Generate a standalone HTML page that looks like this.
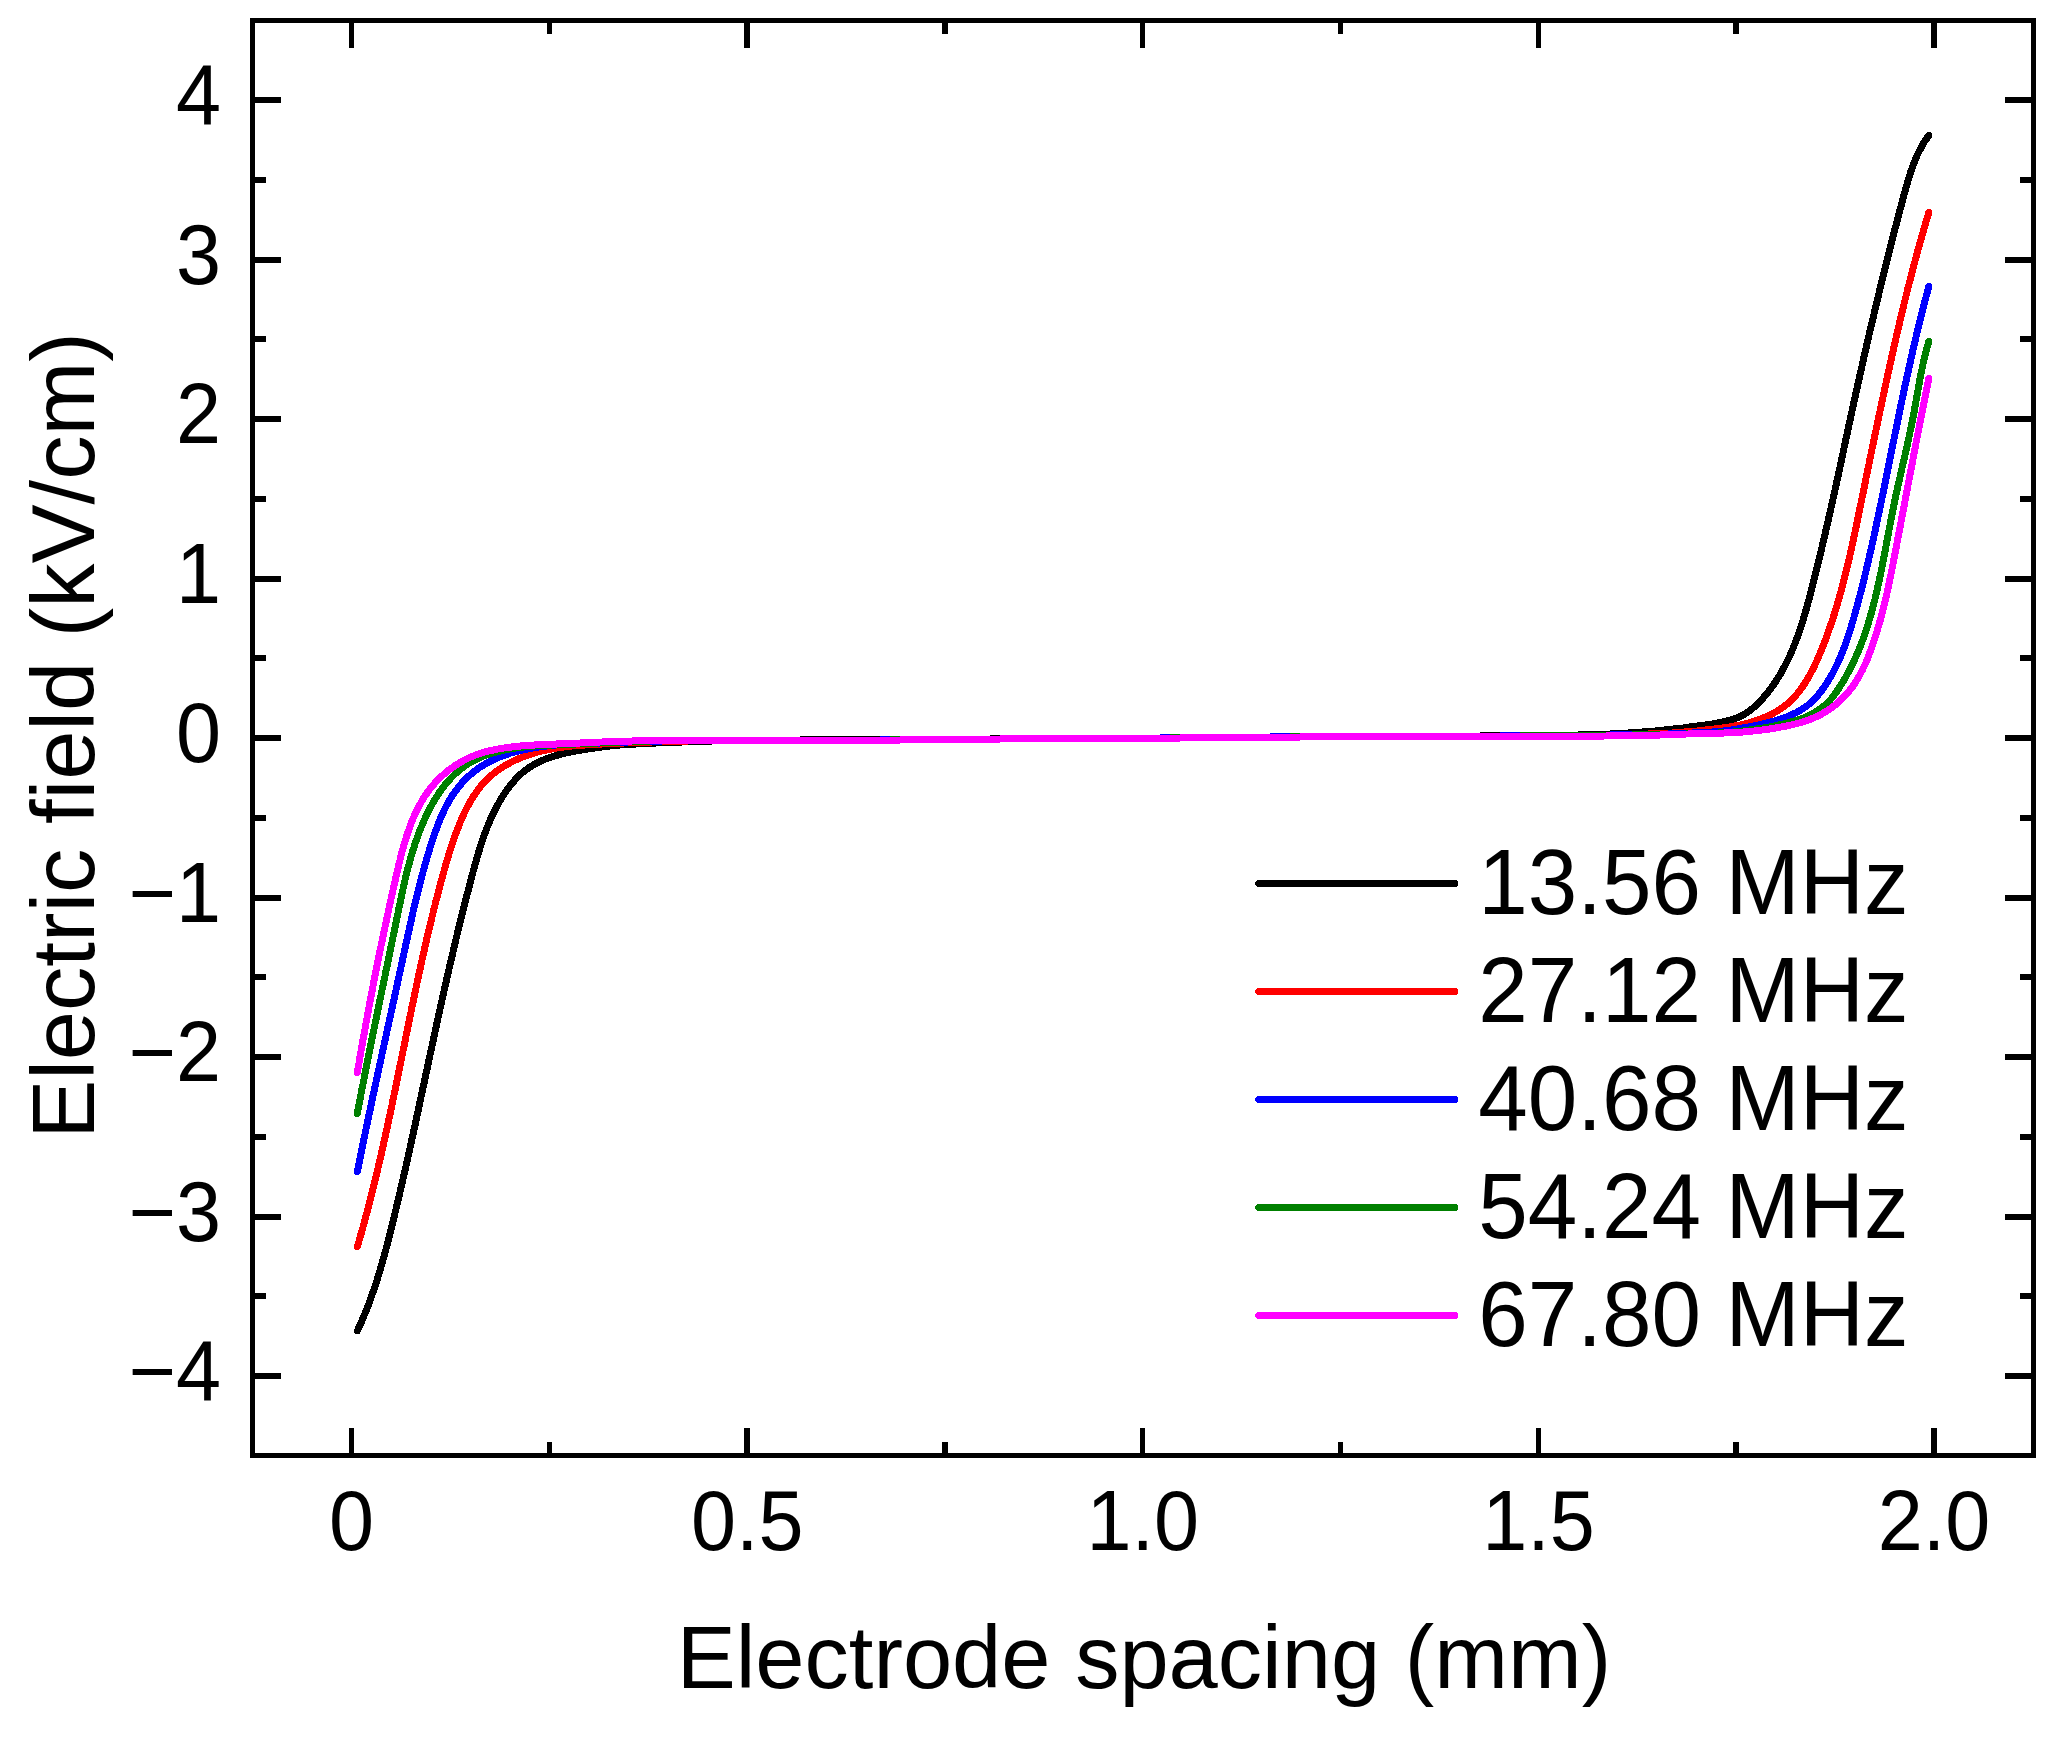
<!DOCTYPE html>
<html lang="en"><head><meta charset="utf-8"><title>Electric field vs electrode spacing</title>
<style>
html,body{margin:0;padding:0;background:#fff;}
body{width:2066px;height:1743px;overflow:hidden;}
svg{display:block;}
text{font-family:"Liberation Sans",sans-serif;fill:#000;}
.tk{font-size:81px;}
.tt{font-size:88.5px;}
.lg{font-size:89px;}
</style></head><body>
<svg width="2066" height="1743" viewBox="0 0 2066 1743">
<rect x="0" y="0" width="2066" height="1743" fill="#ffffff"/>

<g stroke="none" shape-rendering="crispEdges">
<path fill="#000000" d="M360.5,1332.4 L361.1,1331.0 L361.8,1329.6 L362.4,1328.2 L363.1,1326.8 L363.7,1325.4 L364.3,1324.0 L364.9,1322.6 L365.5,1321.2 L366.2,1319.8 L366.8,1318.4 L367.3,1317.0 L367.9,1315.5 L368.5,1314.1 L369.1,1312.7 L369.7,1311.3 L370.2,1309.9 L370.8,1308.4 L371.3,1307.0 L371.9,1305.6 L372.4,1304.2 L372.9,1302.7 L373.5,1301.3 L374.0,1299.9 L374.5,1298.4 L375.0,1297.0 L375.5,1295.5 L376.0,1294.1 L376.5,1292.7 L377.0,1291.2 L377.5,1289.8 L378.0,1288.3 L378.5,1286.9 L379.0,1285.4 L379.4,1284.0 L379.9,1282.5 L380.4,1281.1 L380.8,1279.6 L381.3,1278.2 L381.7,1276.7 L382.2,1275.3 L382.6,1273.8 L383.0,1272.4 L383.5,1270.9 L383.9,1269.4 L384.3,1268.0 L384.8,1266.5 L385.2,1265.1 L385.6,1263.6 L386.0,1262.1 L386.4,1260.7 L386.8,1259.2 L387.2,1257.7 L387.6,1256.3 L388.0,1254.8 L388.4,1253.3 L388.8,1251.9 L389.2,1250.4 L389.6,1248.9 L390.0,1247.4 L390.4,1246.0 L390.8,1244.5 L391.2,1243.0 L391.5,1241.6 L391.9,1240.1 L392.3,1238.6 L392.7,1237.1 L393.0,1235.7 L393.4,1234.2 L393.8,1232.7 L394.1,1231.2 L394.5,1229.8 L394.9,1228.3 L395.2,1226.8 L395.6,1225.3 L396.0,1223.9 L396.3,1222.4 L396.7,1220.9 L397.1,1219.4 L397.4,1218.0 L397.8,1216.5 L398.1,1215.0 L398.5,1213.5 L398.9,1212.1 L399.2,1210.6 L399.6,1209.1 L399.9,1207.6 L400.3,1206.1 L400.6,1204.7 L401.0,1203.2 L401.3,1201.7 L401.7,1200.2 L402.0,1198.8 L402.4,1197.3 L402.7,1195.8 L403.1,1194.3 L403.4,1192.8 L403.8,1191.4 L404.1,1189.9 L404.4,1188.4 L404.8,1186.9 L405.1,1185.4 L405.5,1183.9 L405.8,1182.5 L406.2,1181.0 L406.5,1179.5 L406.8,1178.0 L407.2,1176.5 L407.5,1175.1 L407.8,1173.6 L408.2,1172.1 L408.5,1170.6 L408.9,1169.1 L409.2,1167.6 L409.5,1166.2 L409.9,1164.7 L410.2,1163.2 L410.5,1161.7 L410.9,1160.2 L411.2,1158.7 L411.5,1157.3 L411.8,1155.8 L412.2,1154.3 L412.5,1152.8 L412.8,1151.3 L413.2,1149.8 L413.5,1148.4 L413.8,1146.9 L414.1,1145.4 L414.5,1143.9 L414.8,1142.4 L415.1,1140.9 L415.5,1139.5 L415.8,1138.0 L416.1,1136.5 L416.4,1135.0 L416.8,1133.5 L417.1,1132.0 L417.4,1130.5 L417.7,1129.1 L418.0,1127.6 L418.4,1126.1 L418.7,1124.6 L419.0,1123.1 L419.3,1121.6 L419.7,1120.2 L420.0,1118.7 L420.3,1117.2 L420.6,1115.7 L420.9,1114.2 L421.3,1112.7 L421.6,1111.3 L421.9,1109.8 L422.2,1108.3 L422.5,1106.8 L422.8,1105.3 L423.2,1103.8 L423.5,1102.3 L423.8,1100.9 L424.1,1099.4 L424.4,1097.9 L424.8,1096.4 L425.1,1094.9 L425.4,1093.4 L425.7,1092.0 L426.0,1090.5 L426.3,1089.0 L426.7,1087.5 L427.0,1086.0 L427.3,1084.5 L427.6,1083.1 L427.9,1081.6 L428.2,1080.1 L428.6,1078.6 L428.9,1077.1 L429.2,1075.7 L429.5,1074.2 L429.8,1072.7 L430.1,1071.2 L430.5,1069.7 L430.8,1068.2 L431.1,1066.8 L431.4,1065.3 L431.7,1063.8 L432.0,1062.3 L432.4,1060.8 L432.7,1059.4 L433.0,1057.9 L433.3,1056.4 L433.6,1054.9 L433.9,1053.4 L434.3,1052.0 L434.6,1050.5 L434.9,1049.0 L435.2,1047.5 L435.5,1046.1 L435.9,1044.6 L436.2,1043.1 L436.5,1041.6 L436.8,1040.1 L437.1,1038.7 L437.4,1037.2 L437.8,1035.7 L438.1,1034.2 L438.4,1032.8 L438.7,1031.3 L439.1,1029.8 L439.4,1028.3 L439.7,1026.8 L440.0,1025.4 L440.3,1023.9 L440.7,1022.4 L441.0,1020.9 L441.3,1019.5 L441.6,1018.0 L441.9,1016.5 L442.3,1015.0 L442.6,1013.6 L442.9,1012.1 L443.2,1010.6 L443.6,1009.1 L443.9,1007.7 L444.2,1006.2 L444.5,1004.7 L444.9,1003.2 L445.2,1001.8 L445.5,1000.3 L445.9,998.8 L446.2,997.3 L446.5,995.9 L446.8,994.4 L447.2,992.9 L447.5,991.5 L447.8,990.0 L448.2,988.5 L448.5,987.0 L448.8,985.6 L449.2,984.1 L449.5,982.6 L449.8,981.1 L450.2,979.7 L450.5,978.2 L450.8,976.7 L451.2,975.2 L451.5,973.8 L451.8,972.3 L452.2,970.8 L452.5,969.4 L452.9,967.9 L453.2,966.4 L453.5,964.9 L453.9,963.5 L454.2,962.0 L454.6,960.5 L454.9,959.0 L455.3,957.6 L455.6,956.1 L455.9,954.6 L456.3,953.2 L456.6,951.7 L457.0,950.2 L457.3,948.7 L457.7,947.3 L458.0,945.8 L458.4,944.3 L458.7,942.8 L459.1,941.4 L459.4,939.9 L459.8,938.4 L460.1,937.0 L460.5,935.5 L460.9,934.0 L461.2,932.5 L461.6,931.1 L461.9,929.6 L462.3,928.1 L462.6,926.6 L463.0,925.2 L463.4,923.7 L463.7,922.2 L464.1,920.7 L464.5,919.3 L464.8,917.8 L465.2,916.3 L465.6,914.9 L465.9,913.4 L466.3,911.9 L466.7,910.4 L467.0,909.0 L467.4,907.5 L467.8,906.0 L468.2,904.5 L468.5,903.1 L468.9,901.6 L469.3,900.1 L469.7,898.6 L470.0,897.2 L470.4,895.7 L470.8,894.2 L471.2,892.7 L471.6,891.3 L471.9,889.8 L472.3,888.3 L472.7,886.8 L473.1,885.4 L473.5,883.9 L473.9,882.4 L474.3,880.9 L474.7,879.5 L475.1,878.0 L475.5,876.5 L475.8,875.0 L476.2,873.6 L476.6,872.1 L477.0,870.6 L477.4,869.1 L477.8,867.7 L478.3,866.2 L478.7,864.7 L479.1,863.3 L479.5,861.8 L479.9,860.3 L480.3,858.9 L480.7,857.4 L481.2,856.0 L481.6,854.5 L482.0,853.0 L482.5,851.6 L482.9,850.1 L483.4,848.7 L483.8,847.3 L484.3,845.8 L484.8,844.4 L485.2,843.0 L485.7,841.5 L486.2,840.1 L486.7,838.7 L487.2,837.3 L487.7,835.8 L488.2,834.4 L488.7,833.0 L489.3,831.6 L489.8,830.2 L490.3,828.9 L490.9,827.5 L491.4,826.1 L492.0,824.7 L492.6,823.3 L493.2,822.0 L493.8,820.6 L494.4,819.3 L495.0,817.9 L495.6,816.6 L496.2,815.3 L496.9,813.9 L497.5,812.6 L498.2,811.3 L498.8,810.0 L499.5,808.7 L500.2,807.4 L500.9,806.1 L501.6,804.8 L502.4,803.5 L503.1,802.3 L503.9,801.0 L504.6,799.8 L505.4,798.5 L506.2,797.3 L507.0,796.1 L507.8,794.8 L508.7,793.6 L509.5,792.4 L510.4,791.2 L511.2,790.1 L512.1,788.9 L513.0,787.7 L513.9,786.6 L514.9,785.5 L515.8,784.3 L516.8,783.2 L517.7,782.2 L518.7,781.1 L519.7,780.0 L520.7,779.0 L521.8,778.0 L522.9,777.0 L524.0,775.9 L525.2,774.9 L526.3,774.0 L527.5,773.0 L528.7,772.1 L530.0,771.2 L531.2,770.4 L532.5,769.5 L533.8,768.7 L535.1,768.0 L536.4,767.2 L537.8,766.5 L539.1,765.8 L540.5,765.1 L541.8,764.5 L543.1,763.9 L544.5,763.3 L545.8,762.8 L547.2,762.2 L548.6,761.7 L549.9,761.2 L551.3,760.7 L552.7,760.2 L554.2,759.8 L555.6,759.3 L557.0,758.9 L558.5,758.5 L559.9,758.1 L561.4,757.7 L562.8,757.3 L564.3,757.0 L565.8,756.6 L567.3,756.3 L568.8,756.0 L570.3,755.6 L571.8,755.3 L573.3,755.0 L574.8,754.7 L576.3,754.5 L577.8,754.2 L579.3,753.9 L580.8,753.7 L582.3,753.4 L583.8,753.2 L585.3,753.0 L586.8,752.7 L588.3,752.5 L589.8,752.3 L592.5,751.9 L594.5,751.6 L596.5,751.3 L598.5,751.1 L600.4,750.8 L602.4,750.5 L604.4,750.3 L606.4,750.0 L608.4,749.8 L610.4,749.5 L612.4,749.3 L614.4,749.1 L616.3,748.9 L618.3,748.7 L620.3,748.5 L622.3,748.4 L624.3,748.2 L626.2,748.1 L628.2,747.9 L630.2,747.8 L632.2,747.7 L634.2,747.6 L636.2,747.5 L638.2,747.3 L640.2,747.2 L642.2,747.1 L644.2,747.0 L646.2,746.9 L648.2,746.8 L650.2,746.7 L652.2,746.7 L654.2,746.6 L656.2,746.5 L658.1,746.4 L660.1,746.3 L662.1,746.2 L664.1,746.1 L666.1,746.1 L668.1,746.0 L670.1,745.9 L672.1,745.8 L674.1,745.7 L676.1,745.7 L678.1,745.6 L680.1,745.5 L682.1,745.5 L684.1,745.4 L686.1,745.4 L688.1,745.3 L690.1,745.2 L692.1,745.2 L694.1,745.1 L696.1,745.0 L698.1,745.0 L700.1,744.9 L702.2,744.8 L704.2,744.7 L706.1,744.6 L708.1,744.6 L710.1,744.5 L712.1,744.5 L714.1,744.4 L716.1,744.4 L718.1,744.3 L720.1,744.3 L722.1,744.3 L724.1,744.2 L726.1,744.2 L728.1,744.2 L730.1,744.1 L732.1,744.1 L734.0,744.1 L736.0,744.1 L738.0,744.0 L740.0,744.0 L742.0,744.0 L744.0,744.0 L746.0,743.9 L748.0,743.9 L750.0,743.9 L752.0,743.9 L754.0,743.8 L756.0,743.8 L758.0,743.8 L760.0,743.8 L770.0,743.7 L780.0,743.6 L790.0,743.6 L800.0,743.5 L810.0,743.4 L820.0,743.3 L830.0,743.3 L840.0,743.2 L850.0,743.2 L860.0,743.1 L870.0,743.1 L880.0,743.0 L890.0,743.0 L900.0,742.9 L910.0,742.9 L920.0,742.8 L930.0,742.8 L940.0,742.7 L950.0,742.7 L960.0,742.7 L970.0,742.6 L980.0,742.6 L990.0,742.5 L1000.0,742.4 L1010.0,742.4 L1020.0,742.3 L1030.0,742.3 L1040.0,742.2 L1050.0,742.2 L1060.0,742.1 L1070.0,742.1 L1080.0,742.0 L1090.0,741.9 L1100.0,741.9 L1110.0,741.8 L1120.0,741.8 L1130.0,741.7 L1140.0,741.6 L1150.0,741.6 L1160.0,741.5 L1170.0,741.4 L1180.0,741.3 L1190.0,741.2 L1200.0,741.1 L1210.0,741.0 L1220.0,740.9 L1230.0,740.8 L1240.0,740.8 L1250.0,740.7 L1260.0,740.6 L1270.0,740.5 L1280.0,740.4 L1290.0,740.4 L1300.0,740.3 L1310.0,740.3 L1320.0,740.2 L1330.0,740.2 L1340.0,740.2 L1350.0,740.1 L1360.0,740.1 L1370.0,740.0 L1380.0,740.0 L1390.0,739.9 L1400.0,739.9 L1410.0,739.9 L1420.0,739.8 L1430.0,739.8 L1440.0,739.7 L1450.0,739.7 L1460.0,739.6 L1470.0,739.5 L1480.0,739.5 L1490.0,739.4 L1500.0,739.3 L1510.0,739.3 L1520.0,739.2 L1530.0,739.1 L1540.0,739.0 L1550.0,738.9 L1560.0,738.7 L1562.0,738.7 L1564.1,738.7 L1566.1,738.7 L1568.1,738.6 L1570.1,738.6 L1572.1,738.6 L1574.1,738.5 L1576.1,738.5 L1578.1,738.5 L1580.1,738.4 L1582.1,738.4 L1584.1,738.3 L1586.1,738.3 L1588.1,738.2 L1590.1,738.2 L1592.1,738.1 L1594.1,738.1 L1596.1,738.0 L1598.1,737.9 L1600.1,737.9 L1602.1,737.8 L1604.1,737.7 L1606.1,737.7 L1608.1,737.6 L1610.1,737.5 L1612.2,737.4 L1614.2,737.3 L1616.2,737.2 L1618.2,737.1 L1620.2,737.0 L1622.2,736.9 L1624.2,736.8 L1626.2,736.6 L1628.2,736.5 L1630.2,736.4 L1632.2,736.2 L1634.3,736.1 L1636.3,735.9 L1638.3,735.8 L1640.3,735.6 L1642.3,735.5 L1644.3,735.4 L1646.3,735.2 L1648.3,735.1 L1650.3,734.9 L1652.3,734.7 L1654.3,734.6 L1656.4,734.4 L1658.4,734.2 L1660.4,733.9 L1662.4,733.7 L1664.4,733.5 L1666.4,733.2 L1668.4,733.0 L1670.4,732.8 L1672.4,732.6 L1674.3,732.4 L1676.3,732.2 L1678.3,732.0 L1680.3,731.8 L1682.4,731.6 L1684.5,731.3 L1686.6,731.0 L1688.6,730.6 L1690.5,730.3 L1692.4,730.1 L1694.4,729.8 L1696.4,729.6 L1698.4,729.4 L1700.4,729.1 L1702.4,728.9 L1704.4,728.6 L1706.4,728.4 L1708.4,728.1 L1710.5,727.9 L1712.6,727.6 L1714.7,727.2 L1716.7,726.7 L1718.7,726.3 L1720.7,725.9 L1722.7,725.5 L1724.8,725.0 L1726.8,724.6 L1728.9,724.0 L1730.9,723.5 L1733.0,722.9 L1735.1,722.2 L1737.2,721.5 L1739.4,720.6 L1741.5,719.7 L1743.0,719.0 L1744.4,718.2 L1745.8,717.4 L1747.2,716.6 L1748.5,715.7 L1749.9,714.8 L1751.2,713.8 L1752.5,712.9 L1753.7,711.9 L1755.0,710.9 L1756.2,709.8 L1757.4,708.8 L1758.6,707.7 L1759.7,706.6 L1760.9,705.5 L1762.0,704.3 L1763.1,703.2 L1764.2,702.0 L1765.3,700.8 L1766.3,699.6 L1767.3,698.4 L1768.4,697.2 L1769.4,696.0 L1770.4,694.8 L1771.3,693.6 L1772.3,692.3 L1773.2,691.1 L1774.2,689.8 L1775.1,688.5 L1776.0,687.3 L1776.9,686.0 L1777.8,684.7 L1778.6,683.4 L1779.5,682.1 L1780.3,680.8 L1781.1,679.5 L1782.0,678.1 L1782.8,676.8 L1783.6,675.5 L1784.3,674.1 L1785.1,672.8 L1785.9,671.4 L1786.6,670.1 L1787.3,668.7 L1788.1,667.3 L1788.8,665.9 L1789.5,664.5 L1790.2,663.1 L1790.8,661.7 L1791.5,660.3 L1792.2,658.9 L1792.8,657.5 L1793.5,656.1 L1794.1,654.7 L1794.7,653.2 L1795.3,651.8 L1795.9,650.4 L1796.5,648.9 L1797.1,647.5 L1797.7,646.0 L1798.3,644.6 L1798.8,643.1 L1799.4,641.6 L1800.0,640.2 L1800.5,638.7 L1801.0,637.2 L1801.6,635.7 L1802.1,634.3 L1802.6,632.8 L1803.1,631.3 L1803.6,629.8 L1804.1,628.3 L1804.6,626.8 L1805.1,625.3 L1805.5,623.8 L1806.0,622.3 L1806.5,620.8 L1806.9,619.3 L1807.4,617.8 L1807.8,616.3 L1808.3,614.8 L1808.7,613.3 L1809.2,611.7 L1809.6,610.2 L1810.0,608.7 L1810.4,607.2 L1810.9,605.7 L1811.3,604.2 L1811.7,602.6 L1812.1,601.1 L1812.5,599.6 L1812.9,598.1 L1813.3,596.5 L1813.7,595.0 L1814.1,593.5 L1814.5,592.0 L1814.9,590.5 L1815.3,588.9 L1815.7,587.4 L1816.1,585.9 L1816.5,584.4 L1816.9,582.9 L1817.2,581.3 L1817.6,579.8 L1818.0,578.3 L1818.4,576.8 L1818.8,575.3 L1819.1,573.8 L1819.5,572.2 L1819.9,570.7 L1820.3,569.2 L1820.6,567.7 L1821.0,566.2 L1821.4,564.7 L1821.7,563.1 L1822.1,561.6 L1822.5,560.1 L1822.8,558.6 L1823.2,557.1 L1823.6,555.6 L1823.9,554.1 L1824.3,552.5 L1824.7,551.0 L1825.0,549.5 L1825.4,548.0 L1825.7,546.5 L1826.1,545.0 L1826.4,543.5 L1826.8,542.0 L1827.2,540.4 L1827.5,538.9 L1827.9,537.4 L1828.2,535.9 L1828.6,534.4 L1828.9,532.9 L1829.3,531.4 L1829.6,529.9 L1830.0,528.4 L1830.3,526.8 L1830.6,525.3 L1831.0,523.8 L1831.3,522.3 L1831.7,520.8 L1832.0,519.3 L1832.4,517.8 L1832.7,516.3 L1833.0,514.8 L1833.4,513.3 L1833.7,511.8 L1834.1,510.3 L1834.4,508.7 L1834.7,507.2 L1835.1,505.7 L1835.4,504.2 L1835.7,502.7 L1836.1,501.2 L1836.4,499.7 L1836.7,498.2 L1837.1,496.7 L1837.4,495.2 L1837.7,493.7 L1838.1,492.2 L1838.4,490.7 L1838.7,489.2 L1839.1,487.6 L1839.4,486.1 L1839.7,484.6 L1840.1,483.1 L1840.4,481.6 L1840.7,480.1 L1841.0,478.6 L1841.4,477.1 L1841.7,475.6 L1842.0,474.1 L1842.3,472.6 L1842.7,471.1 L1843.0,469.6 L1843.3,468.1 L1843.6,466.6 L1844.0,465.1 L1844.3,463.6 L1844.6,462.1 L1844.9,460.5 L1845.3,459.0 L1845.6,457.5 L1845.9,456.0 L1846.2,454.5 L1846.6,453.0 L1846.9,451.5 L1847.2,450.0 L1847.5,448.5 L1847.9,447.0 L1848.2,445.5 L1848.5,444.0 L1848.8,442.5 L1849.2,441.0 L1849.5,439.5 L1849.8,438.0 L1850.1,436.5 L1850.4,435.0 L1850.8,433.5 L1851.1,432.0 L1851.4,430.4 L1851.7,428.9 L1852.1,427.4 L1852.4,425.9 L1852.7,424.4 L1853.0,422.9 L1853.4,421.4 L1853.7,419.9 L1854.0,418.4 L1854.3,416.9 L1854.7,415.4 L1855.0,413.9 L1855.3,412.4 L1855.6,410.9 L1856.0,409.4 L1856.3,407.9 L1856.6,406.3 L1857.0,404.8 L1857.3,403.3 L1857.6,401.8 L1857.9,400.3 L1858.3,398.8 L1858.6,397.3 L1858.9,395.8 L1859.3,394.3 L1859.6,392.8 L1859.9,391.3 L1860.2,389.8 L1860.6,388.3 L1860.9,386.8 L1861.2,385.2 L1861.6,383.7 L1861.9,382.2 L1862.2,380.7 L1862.6,379.2 L1862.9,377.7 L1863.3,376.2 L1863.6,374.7 L1863.9,373.2 L1864.3,371.7 L1864.6,370.2 L1864.9,368.6 L1865.3,367.1 L1865.6,365.6 L1866.0,364.1 L1866.3,362.6 L1866.6,361.1 L1867.0,359.6 L1867.3,358.1 L1867.7,356.6 L1868.0,355.0 L1868.4,353.5 L1868.7,352.0 L1869.1,350.5 L1869.4,349.0 L1869.8,347.5 L1870.1,346.0 L1870.4,344.5 L1870.8,342.9 L1871.1,341.4 L1871.5,339.9 L1871.8,338.4 L1872.2,336.9 L1872.5,335.4 L1872.9,333.9 L1873.3,332.4 L1873.6,330.8 L1874.0,329.3 L1874.3,327.8 L1874.7,326.3 L1875.0,324.8 L1875.4,323.3 L1875.7,321.8 L1876.1,320.3 L1876.5,318.8 L1876.8,317.2 L1877.2,315.7 L1877.5,314.2 L1877.9,312.7 L1878.2,311.2 L1878.6,309.7 L1879.0,308.2 L1879.3,306.7 L1879.7,305.2 L1880.1,303.7 L1880.4,302.1 L1880.8,300.6 L1881.1,299.1 L1881.5,297.6 L1881.9,296.1 L1882.2,294.6 L1882.6,293.1 L1883.0,291.6 L1883.3,290.1 L1883.7,288.6 L1884.1,287.1 L1884.4,285.6 L1884.8,284.1 L1885.2,282.6 L1885.5,281.1 L1885.9,279.5 L1886.3,278.0 L1886.6,276.5 L1887.0,275.0 L1887.4,273.5 L1887.8,272.0 L1888.1,270.5 L1888.5,269.0 L1888.9,267.5 L1889.2,266.0 L1889.6,264.5 L1890.0,263.0 L1890.4,261.5 L1890.7,260.0 L1891.1,258.5 L1891.5,257.0 L1891.9,255.5 L1892.2,254.0 L1892.6,252.5 L1893.0,251.0 L1893.4,249.5 L1893.7,248.1 L1894.1,246.6 L1894.5,245.1 L1894.9,243.6 L1895.3,242.1 L1895.6,240.6 L1896.0,239.1 L1896.4,237.6 L1896.8,236.1 L1897.2,234.6 L1897.6,233.1 L1897.9,231.6 L1898.3,230.1 L1898.7,228.6 L1899.1,227.2 L1899.5,225.7 L1899.9,224.2 L1900.3,222.7 L1900.6,221.2 L1901.0,219.7 L1901.4,218.2 L1901.8,216.7 L1902.2,215.2 L1902.6,213.7 L1903.0,212.2 L1903.4,210.7 L1903.8,209.3 L1904.2,207.8 L1904.6,206.3 L1905.0,204.8 L1905.4,203.3 L1905.8,201.8 L1906.2,200.3 L1906.6,198.8 L1907.0,197.3 L1907.4,195.8 L1907.8,194.3 L1908.2,192.8 L1908.6,191.3 L1909.0,189.8 L1909.4,188.3 L1909.9,186.9 L1910.3,185.4 L1910.7,183.9 L1911.1,182.4 L1911.6,180.9 L1912.0,179.5 L1912.5,178.0 L1912.9,176.5 L1913.4,175.1 L1913.9,173.6 L1914.4,172.2 L1914.9,170.8 L1915.4,169.3 L1915.9,167.9 L1916.4,166.5 L1916.9,165.1 L1917.5,163.6 L1918.1,162.2 L1918.6,160.8 L1919.2,159.5 L1919.8,158.1 L1920.4,156.7 L1921.1,155.4 L1921.7,154.0 L1922.4,152.7 L1923.1,151.3 L1923.8,150.0 L1924.5,148.7 L1925.2,147.4 L1926.0,146.1 L1926.7,144.8 L1927.5,143.5 L1928.3,142.2 L1929.2,141.0 L1930.0,139.8 L1931.7,137.3 L1932.3,136.1 L1932.4,134.7 L1931.9,133.5 L1930.9,132.5 L1929.7,131.9 L1928.3,131.8 L1927.1,132.3 L1926.1,133.3 L1924.3,135.7 L1923.3,137.1 L1922.5,138.4 L1921.6,139.8 L1920.7,141.1 L1919.9,142.5 L1919.1,143.9 L1918.3,145.3 L1917.6,146.7 L1916.8,148.1 L1916.1,149.5 L1915.4,150.9 L1914.7,152.4 L1914.1,153.8 L1913.4,155.2 L1912.8,156.7 L1912.2,158.1 L1911.6,159.6 L1911.0,161.1 L1910.4,162.5 L1909.9,164.0 L1909.3,165.5 L1908.8,167.0 L1908.3,168.5 L1907.7,169.9 L1907.2,171.4 L1906.7,172.9 L1906.3,174.4 L1905.8,175.9 L1905.3,177.4 L1904.9,178.9 L1904.4,180.4 L1904.0,181.9 L1903.6,183.4 L1903.1,184.9 L1902.7,186.5 L1902.3,188.0 L1901.9,189.5 L1901.4,191.0 L1901.0,192.5 L1900.6,194.0 L1900.2,195.5 L1899.8,197.0 L1899.4,198.5 L1899.0,200.0 L1898.6,201.5 L1898.2,203.0 L1897.8,204.5 L1897.4,206.0 L1897.0,207.5 L1896.6,209.0 L1896.2,210.4 L1895.8,211.9 L1895.4,213.4 L1895.0,214.9 L1894.7,216.4 L1894.3,217.9 L1893.9,219.4 L1893.5,220.9 L1893.1,222.4 L1892.7,223.9 L1892.3,225.4 L1891.9,226.9 L1891.5,228.4 L1891.2,229.9 L1890.8,231.4 L1890.4,232.9 L1890.0,234.4 L1889.6,235.9 L1889.2,237.4 L1888.9,238.9 L1888.5,240.4 L1888.1,241.8 L1887.7,243.3 L1887.3,244.8 L1887.0,246.3 L1886.6,247.8 L1886.2,249.3 L1885.8,250.8 L1885.5,252.3 L1885.1,253.8 L1884.7,255.3 L1884.3,256.8 L1883.9,258.3 L1883.6,259.8 L1883.2,261.3 L1882.8,262.8 L1882.5,264.3 L1882.1,265.8 L1881.7,267.3 L1881.3,268.8 L1881.0,270.4 L1880.6,271.9 L1880.2,273.4 L1879.8,274.9 L1879.5,276.4 L1879.1,277.9 L1878.7,279.4 L1878.4,280.9 L1878.0,282.4 L1877.6,283.9 L1877.3,285.4 L1876.9,286.9 L1876.5,288.4 L1876.2,289.9 L1875.8,291.5 L1875.4,293.0 L1875.1,294.5 L1874.7,296.0 L1874.3,297.5 L1874.0,299.0 L1873.6,300.5 L1873.2,302.0 L1872.9,303.5 L1872.5,305.0 L1872.2,306.6 L1871.8,308.1 L1871.4,309.6 L1871.1,311.1 L1870.7,312.6 L1870.4,314.1 L1870.0,315.6 L1869.6,317.1 L1869.3,318.7 L1868.9,320.2 L1868.6,321.7 L1868.2,323.2 L1867.9,324.7 L1867.5,326.2 L1867.1,327.7 L1866.8,329.3 L1866.4,330.8 L1866.1,332.3 L1865.7,333.8 L1865.4,335.3 L1865.0,336.8 L1864.7,338.3 L1864.3,339.9 L1864.0,341.4 L1863.6,342.9 L1863.3,344.4 L1862.9,345.9 L1862.6,347.4 L1862.2,348.9 L1861.9,350.5 L1861.5,352.0 L1861.2,353.5 L1860.9,355.0 L1860.5,356.5 L1860.2,358.0 L1859.8,359.5 L1859.5,361.1 L1859.1,362.6 L1858.8,364.1 L1858.5,365.6 L1858.1,367.1 L1857.8,368.6 L1857.4,370.1 L1857.1,371.6 L1856.8,373.2 L1856.4,374.7 L1856.1,376.2 L1855.7,377.7 L1855.4,379.2 L1855.1,380.7 L1854.7,382.2 L1854.4,383.7 L1854.1,385.2 L1853.7,386.8 L1853.4,388.3 L1853.1,389.8 L1852.7,391.3 L1852.4,392.8 L1852.1,394.3 L1851.8,395.8 L1851.4,397.3 L1851.1,398.8 L1850.8,400.3 L1850.4,401.8 L1850.1,403.4 L1849.8,404.9 L1849.5,406.4 L1849.1,407.9 L1848.8,409.4 L1848.5,410.9 L1848.1,412.4 L1847.8,413.9 L1847.5,415.4 L1847.2,416.9 L1846.8,418.4 L1846.5,419.9 L1846.2,421.4 L1845.9,422.9 L1845.5,424.5 L1845.2,426.0 L1844.9,427.5 L1844.6,429.0 L1844.3,430.5 L1843.9,432.0 L1843.6,433.5 L1843.3,435.0 L1843.0,436.5 L1842.6,438.0 L1842.3,439.5 L1842.0,441.0 L1841.7,442.5 L1841.3,444.0 L1841.0,445.5 L1840.7,447.0 L1840.4,448.5 L1840.0,450.0 L1839.7,451.5 L1839.4,453.1 L1839.1,454.6 L1838.8,456.1 L1838.4,457.6 L1838.1,459.1 L1837.8,460.6 L1837.5,462.1 L1837.1,463.6 L1836.8,465.1 L1836.5,466.6 L1836.2,468.1 L1835.8,469.6 L1835.5,471.1 L1835.2,472.6 L1834.9,474.1 L1834.5,475.6 L1834.2,477.1 L1833.9,478.6 L1833.5,480.1 L1833.2,481.6 L1832.9,483.1 L1832.6,484.6 L1832.2,486.1 L1831.9,487.7 L1831.6,489.2 L1831.2,490.7 L1830.9,492.2 L1830.6,493.7 L1830.2,495.2 L1829.9,496.7 L1829.6,498.2 L1829.2,499.7 L1828.9,501.2 L1828.6,502.7 L1828.2,504.2 L1827.9,505.7 L1827.6,507.2 L1827.2,508.7 L1826.9,510.2 L1826.6,511.7 L1826.2,513.2 L1825.9,514.7 L1825.5,516.2 L1825.2,517.8 L1824.9,519.3 L1824.5,520.8 L1824.2,522.3 L1823.8,523.8 L1823.5,525.3 L1823.1,526.8 L1822.8,528.3 L1822.4,529.8 L1822.1,531.3 L1821.7,532.8 L1821.4,534.3 L1821.0,535.8 L1820.7,537.3 L1820.3,538.8 L1820.0,540.4 L1819.6,541.9 L1819.3,543.4 L1818.9,544.9 L1818.6,546.4 L1818.2,547.9 L1817.9,549.4 L1817.5,550.9 L1817.1,552.4 L1816.8,553.9 L1816.4,555.4 L1816.0,557.0 L1815.7,558.5 L1815.3,560.0 L1814.9,561.5 L1814.6,563.0 L1814.2,564.5 L1813.8,566.0 L1813.5,567.5 L1813.1,569.0 L1812.7,570.6 L1812.3,572.1 L1812.0,573.6 L1811.6,575.1 L1811.2,576.6 L1810.8,578.1 L1810.4,579.6 L1810.1,581.1 L1809.7,582.7 L1809.3,584.2 L1808.9,585.7 L1808.5,587.2 L1808.1,588.7 L1807.7,590.2 L1807.3,591.7 L1807.0,593.3 L1806.6,594.8 L1806.2,596.3 L1805.8,597.8 L1805.4,599.3 L1804.9,600.8 L1804.5,602.3 L1804.1,603.8 L1803.7,605.3 L1803.3,606.8 L1802.9,608.3 L1802.4,609.8 L1802.0,611.3 L1801.6,612.8 L1801.1,614.3 L1800.7,615.8 L1800.2,617.3 L1799.8,618.7 L1799.3,620.2 L1798.9,621.7 L1798.4,623.2 L1797.9,624.7 L1797.4,626.1 L1797.0,627.6 L1796.5,629.0 L1796.0,630.5 L1795.5,632.0 L1795.0,633.4 L1794.4,634.9 L1793.9,636.3 L1793.4,637.7 L1792.9,639.2 L1792.3,640.6 L1791.8,642.0 L1791.2,643.4 L1790.6,644.8 L1790.1,646.3 L1789.5,647.7 L1788.9,649.1 L1788.3,650.5 L1787.7,651.8 L1787.1,653.2 L1786.5,654.6 L1785.8,656.0 L1785.2,657.3 L1784.5,658.7 L1783.9,660.1 L1783.2,661.4 L1782.5,662.7 L1781.8,664.1 L1781.2,665.4 L1780.4,666.7 L1779.7,668.0 L1779.0,669.3 L1778.3,670.6 L1777.5,671.9 L1776.8,673.2 L1776.0,674.5 L1775.2,675.8 L1774.4,677.0 L1773.6,678.3 L1772.8,679.5 L1772.0,680.8 L1771.1,682.0 L1770.3,683.2 L1769.4,684.5 L1768.5,685.7 L1767.6,686.9 L1766.7,688.1 L1765.8,689.2 L1764.9,690.4 L1763.9,691.6 L1763.0,692.7 L1762.0,693.9 L1761.0,695.0 L1760.0,696.2 L1759.0,697.3 L1758.0,698.4 L1757.0,699.4 L1755.9,700.5 L1754.9,701.5 L1753.8,702.6 L1752.7,703.6 L1751.6,704.5 L1750.5,705.5 L1749.4,706.4 L1748.2,707.3 L1747.1,708.2 L1745.9,709.0 L1744.7,709.8 L1743.5,710.6 L1742.3,711.4 L1741.0,712.1 L1739.8,712.7 L1738.5,713.4 L1736.6,714.2 L1734.8,714.9 L1732.9,715.6 L1731.0,716.2 L1729.1,716.8 L1727.1,717.3 L1725.2,717.7 L1723.2,718.2 L1721.3,718.6 L1719.3,719.0 L1717.3,719.5 L1715.3,719.9 L1713.3,720.3 L1711.4,720.7 L1709.5,721.0 L1707.6,721.2 L1705.6,721.4 L1703.6,721.7 L1701.6,721.9 L1699.6,722.2 L1697.6,722.4 L1695.6,722.7 L1693.6,722.9 L1691.6,723.1 L1689.5,723.4 L1687.4,723.7 L1685.4,724.1 L1683.5,724.4 L1681.6,724.7 L1679.7,724.9 L1677.7,725.1 L1675.7,725.2 L1673.7,725.4 L1671.6,725.6 L1669.6,725.8 L1667.6,726.1 L1665.6,726.3 L1663.6,726.5 L1661.6,726.7 L1659.6,727.0 L1657.6,727.2 L1655.6,727.4 L1653.7,727.6 L1651.7,727.8 L1649.7,727.9 L1647.7,728.1 L1645.7,728.2 L1643.7,728.4 L1641.7,728.5 L1639.7,728.7 L1637.7,728.8 L1635.7,729.0 L1633.7,729.1 L1631.8,729.3 L1629.8,729.4 L1627.8,729.5 L1625.8,729.6 L1623.8,729.8 L1621.8,729.9 L1619.8,730.0 L1617.8,730.1 L1615.8,730.2 L1613.8,730.3 L1611.8,730.4 L1609.9,730.5 L1607.9,730.6 L1605.9,730.7 L1603.9,730.7 L1601.9,730.8 L1599.9,730.9 L1597.9,730.9 L1595.9,731.0 L1593.9,731.1 L1591.9,731.1 L1589.9,731.2 L1587.9,731.2 L1585.9,731.3 L1583.9,731.3 L1581.9,731.4 L1579.9,731.4 L1577.9,731.5 L1575.9,731.5 L1573.9,731.5 L1571.9,731.6 L1569.9,731.6 L1567.9,731.6 L1565.9,731.7 L1563.9,731.7 L1562.0,731.7 L1560.0,731.7 L1550.0,731.9 L1540.0,732.0 L1530.0,732.1 L1520.0,732.2 L1510.0,732.3 L1500.0,732.3 L1490.0,732.4 L1480.0,732.5 L1470.0,732.6 L1460.0,732.6 L1450.0,732.7 L1440.0,732.7 L1430.0,732.8 L1420.0,732.8 L1410.0,732.9 L1400.0,732.9 L1390.0,732.9 L1380.0,733.0 L1370.0,733.0 L1360.0,733.1 L1350.0,733.1 L1340.0,733.2 L1330.0,733.2 L1320.0,733.2 L1310.0,733.3 L1300.0,733.3 L1290.0,733.4 L1280.0,733.4 L1270.0,733.5 L1260.0,733.6 L1250.0,733.7 L1240.0,733.8 L1230.0,733.8 L1220.0,733.9 L1210.0,734.0 L1200.0,734.1 L1190.0,734.2 L1180.0,734.3 L1170.0,734.4 L1160.0,734.5 L1150.0,734.6 L1140.0,734.6 L1130.0,734.7 L1120.0,734.8 L1110.0,734.8 L1100.0,734.9 L1090.0,734.9 L1080.0,735.0 L1070.0,735.1 L1060.0,735.1 L1050.0,735.2 L1040.0,735.2 L1030.0,735.3 L1020.0,735.3 L1010.0,735.4 L1000.0,735.4 L990.0,735.5 L980.0,735.6 L970.0,735.6 L960.0,735.7 L950.0,735.7 L940.0,735.7 L930.0,735.8 L920.0,735.8 L910.0,735.9 L900.0,735.9 L890.0,736.0 L880.0,736.0 L870.0,736.1 L860.0,736.1 L850.0,736.2 L840.0,736.2 L830.0,736.3 L820.0,736.3 L810.0,736.4 L800.0,736.5 L790.0,736.6 L780.0,736.6 L770.0,736.7 L760.0,736.8 L758.0,736.8 L756.0,736.8 L754.0,736.8 L752.0,736.9 L750.0,736.9 L748.0,736.9 L746.0,736.9 L744.0,737.0 L742.0,737.0 L740.0,737.0 L738.0,737.0 L736.0,737.1 L734.0,737.1 L731.9,737.1 L729.9,737.1 L727.9,737.2 L725.9,737.2 L723.9,737.2 L721.9,737.3 L719.9,737.3 L717.9,737.3 L715.9,737.4 L713.9,737.4 L711.9,737.5 L709.9,737.5 L707.9,737.6 L705.9,737.6 L703.8,737.7 L701.8,737.8 L699.9,737.9 L697.9,738.0 L695.9,738.0 L693.9,738.1 L691.9,738.2 L689.9,738.2 L687.9,738.3 L685.9,738.4 L683.9,738.4 L681.9,738.5 L679.9,738.5 L677.9,738.6 L675.9,738.7 L673.9,738.7 L671.9,738.8 L669.9,738.9 L667.9,739.0 L665.9,739.1 L663.9,739.1 L661.9,739.2 L659.9,739.3 L657.9,739.4 L655.8,739.5 L653.8,739.6 L651.8,739.7 L649.8,739.8 L647.8,739.8 L645.8,739.9 L643.8,740.0 L641.8,740.1 L639.8,740.2 L637.8,740.4 L635.8,740.5 L633.8,740.6 L631.8,740.7 L629.8,740.8 L627.8,741.0 L625.8,741.1 L623.7,741.2 L621.7,741.4 L619.7,741.6 L617.7,741.7 L615.7,741.9 L613.6,742.1 L611.6,742.3 L609.6,742.6 L607.6,742.8 L605.6,743.1 L603.6,743.3 L601.6,743.6 L599.6,743.9 L597.5,744.1 L595.5,744.4 L593.5,744.7 L591.5,744.9 L588.8,745.3 L587.3,745.6 L585.7,745.8 L584.2,746.0 L582.7,746.3 L581.2,746.5 L579.6,746.8 L578.1,747.0 L576.5,747.3 L575.0,747.6 L573.5,747.9 L571.9,748.2 L570.4,748.5 L568.8,748.8 L567.3,749.1 L565.8,749.4 L564.2,749.8 L562.7,750.2 L561.1,750.5 L559.6,750.9 L558.1,751.3 L556.6,751.7 L555.1,752.2 L553.6,752.6 L552.0,753.1 L550.6,753.6 L549.1,754.1 L547.6,754.6 L546.1,755.1 L544.6,755.7 L543.2,756.3 L541.7,756.9 L540.3,757.5 L538.9,758.1 L537.5,758.8 L536.0,759.5 L534.5,760.3 L533.0,761.1 L531.6,761.9 L530.1,762.8 L528.7,763.6 L527.3,764.6 L525.9,765.5 L524.6,766.5 L523.2,767.5 L521.9,768.5 L520.6,769.6 L519.4,770.7 L518.1,771.8 L516.9,773.0 L515.8,774.1 L514.7,775.2 L513.6,776.3 L512.6,777.4 L511.5,778.6 L510.5,779.8 L509.5,781.0 L508.5,782.2 L507.5,783.4 L506.6,784.6 L505.6,785.9 L504.7,787.1 L503.8,788.4 L502.9,789.6 L502.0,790.9 L501.2,792.2 L500.3,793.5 L499.5,794.8 L498.7,796.1 L497.9,797.4 L497.1,798.7 L496.3,800.0 L495.6,801.4 L494.8,802.7 L494.1,804.0 L493.3,805.4 L492.6,806.8 L491.9,808.1 L491.2,809.5 L490.6,810.9 L489.9,812.2 L489.2,813.6 L488.6,815.0 L488.0,816.4 L487.3,817.8 L486.7,819.2 L486.1,820.6 L485.5,822.0 L485.0,823.4 L484.4,824.9 L483.8,826.3 L483.3,827.7 L482.7,829.2 L482.2,830.6 L481.6,832.0 L481.1,833.5 L480.6,834.9 L480.1,836.4 L479.6,837.8 L479.1,839.3 L478.6,840.7 L478.1,842.2 L477.6,843.7 L477.2,845.1 L476.7,846.6 L476.2,848.1 L475.8,849.5 L475.3,851.0 L474.9,852.5 L474.5,854.0 L474.0,855.4 L473.6,856.9 L473.2,858.4 L472.8,859.9 L472.3,861.4 L471.9,862.8 L471.5,864.3 L471.1,865.8 L470.7,867.3 L470.3,868.8 L469.9,870.3 L469.5,871.7 L469.1,873.2 L468.7,874.7 L468.3,876.2 L467.9,877.7 L467.5,879.1 L467.1,880.6 L466.7,882.1 L466.3,883.6 L465.9,885.1 L465.6,886.5 L465.2,888.0 L464.8,889.5 L464.4,891.0 L464.0,892.5 L463.6,893.9 L463.3,895.4 L462.9,896.9 L462.5,898.4 L462.1,899.9 L461.7,901.3 L461.4,902.8 L461.0,904.3 L460.6,905.8 L460.2,907.3 L459.9,908.7 L459.5,910.2 L459.1,911.7 L458.8,913.2 L458.4,914.6 L458.0,916.1 L457.7,917.6 L457.3,919.1 L456.9,920.5 L456.6,922.0 L456.2,923.5 L455.8,925.0 L455.5,926.5 L455.1,927.9 L454.8,929.4 L454.4,930.9 L454.1,932.4 L453.7,933.8 L453.3,935.3 L453.0,936.8 L452.6,938.3 L452.3,939.7 L451.9,941.2 L451.6,942.7 L451.2,944.2 L450.9,945.6 L450.5,947.1 L450.2,948.6 L449.8,950.1 L449.5,951.6 L449.1,953.0 L448.8,954.5 L448.4,956.0 L448.1,957.5 L447.8,958.9 L447.4,960.4 L447.1,961.9 L446.7,963.4 L446.4,964.8 L446.0,966.3 L445.7,967.8 L445.4,969.3 L445.0,970.7 L444.7,972.2 L444.4,973.7 L444.0,975.2 L443.7,976.6 L443.3,978.1 L443.0,979.6 L442.7,981.1 L442.3,982.5 L442.0,984.0 L441.7,985.5 L441.3,987.0 L441.0,988.4 L440.7,989.9 L440.3,991.4 L440.0,992.9 L439.7,994.3 L439.4,995.8 L439.0,997.3 L438.7,998.8 L438.4,1000.3 L438.0,1001.7 L437.7,1003.2 L437.4,1004.7 L437.1,1006.2 L436.7,1007.6 L436.4,1009.1 L436.1,1010.6 L435.8,1012.1 L435.4,1013.5 L435.1,1015.0 L434.8,1016.5 L434.5,1018.0 L434.1,1019.4 L433.8,1020.9 L433.5,1022.4 L433.2,1023.9 L432.9,1025.4 L432.5,1026.8 L432.2,1028.3 L431.9,1029.8 L431.6,1031.3 L431.2,1032.7 L430.9,1034.2 L430.6,1035.7 L430.3,1037.2 L430.0,1038.7 L429.6,1040.1 L429.3,1041.6 L429.0,1043.1 L428.7,1044.6 L428.4,1046.1 L428.1,1047.5 L427.7,1049.0 L427.4,1050.5 L427.1,1052.0 L426.8,1053.5 L426.5,1054.9 L426.1,1056.4 L425.8,1057.9 L425.5,1059.4 L425.2,1060.9 L424.9,1062.3 L424.6,1063.8 L424.2,1065.3 L423.9,1066.8 L423.6,1068.3 L423.3,1069.7 L423.0,1071.2 L422.7,1072.7 L422.3,1074.2 L422.0,1075.7 L421.7,1077.2 L421.4,1078.6 L421.1,1080.1 L420.8,1081.6 L420.4,1083.1 L420.1,1084.6 L419.8,1086.1 L419.5,1087.5 L419.2,1089.0 L418.9,1090.5 L418.5,1092.0 L418.2,1093.5 L417.9,1094.9 L417.6,1096.4 L417.3,1097.9 L417.0,1099.4 L416.6,1100.9 L416.3,1102.4 L416.0,1103.8 L415.7,1105.3 L415.4,1106.8 L415.0,1108.3 L414.7,1109.8 L414.4,1111.3 L414.1,1112.7 L413.8,1114.2 L413.4,1115.7 L413.1,1117.2 L412.8,1118.7 L412.5,1120.2 L412.2,1121.6 L411.8,1123.1 L411.5,1124.6 L411.2,1126.1 L410.9,1127.6 L410.6,1129.1 L410.2,1130.5 L409.9,1132.0 L409.6,1133.5 L409.3,1135.0 L408.9,1136.5 L408.6,1138.0 L408.3,1139.4 L408.0,1140.9 L407.6,1142.4 L407.3,1143.9 L407.0,1145.4 L406.7,1146.8 L406.3,1148.3 L406.0,1149.8 L405.7,1151.3 L405.3,1152.8 L405.0,1154.3 L404.7,1155.7 L404.4,1157.2 L404.0,1158.7 L403.7,1160.2 L403.4,1161.7 L403.0,1163.1 L402.7,1164.6 L402.4,1166.1 L402.0,1167.6 L401.7,1169.1 L401.4,1170.5 L401.0,1172.0 L400.7,1173.5 L400.3,1175.0 L400.0,1176.5 L399.7,1177.9 L399.3,1179.4 L399.0,1180.9 L398.7,1182.4 L398.3,1183.9 L398.0,1185.3 L397.6,1186.8 L397.3,1188.3 L396.9,1189.8 L396.6,1191.2 L396.2,1192.7 L395.9,1194.2 L395.6,1195.7 L395.2,1197.1 L394.9,1198.6 L394.5,1200.1 L394.2,1201.6 L393.8,1203.0 L393.5,1204.5 L393.1,1206.0 L392.8,1207.5 L392.4,1208.9 L392.0,1210.4 L391.7,1211.9 L391.3,1213.4 L391.0,1214.8 L390.6,1216.3 L390.3,1217.8 L389.9,1219.3 L389.5,1220.7 L389.2,1222.2 L388.8,1223.7 L388.5,1225.1 L388.1,1226.6 L387.7,1228.1 L387.4,1229.5 L387.0,1231.0 L386.6,1232.5 L386.3,1234.0 L385.9,1235.4 L385.5,1236.9 L385.1,1238.4 L384.8,1239.8 L384.4,1241.3 L384.0,1242.7 L383.6,1244.2 L383.2,1245.7 L382.8,1247.1 L382.5,1248.6 L382.1,1250.0 L381.7,1251.5 L381.3,1253.0 L380.9,1254.4 L380.5,1255.9 L380.1,1257.3 L379.7,1258.8 L379.3,1260.2 L378.9,1261.7 L378.4,1263.1 L378.0,1264.6 L377.6,1266.0 L377.2,1267.5 L376.8,1268.9 L376.3,1270.3 L375.9,1271.8 L375.5,1273.2 L375.0,1274.7 L374.6,1276.1 L374.1,1277.5 L373.7,1279.0 L373.2,1280.4 L372.8,1281.8 L372.3,1283.3 L371.8,1284.7 L371.4,1286.1 L370.9,1287.5 L370.4,1289.0 L369.9,1290.4 L369.4,1291.8 L368.9,1293.2 L368.4,1294.6 L367.9,1296.1 L367.4,1297.5 L366.9,1298.9 L366.4,1300.3 L365.9,1301.7 L365.3,1303.1 L364.8,1304.5 L364.2,1305.9 L363.7,1307.3 L363.2,1308.7 L362.6,1310.1 L362.0,1311.5 L361.5,1312.9 L360.9,1314.3 L360.3,1315.7 L359.7,1317.0 L359.1,1318.4 L358.5,1319.8 L357.9,1321.2 L357.3,1322.6 L356.7,1323.9 L356.1,1325.3 L355.4,1326.7 L354.8,1328.0 L354.1,1329.4 L353.8,1330.7 L354.0,1332.1 L354.7,1333.2 L355.8,1334.1 L357.1,1334.4 L358.5,1334.2 L359.6,1333.5Z"/>
<path fill="#ff0000" d="M360.7,1247.8 L361.1,1246.3 L361.5,1244.8 L362.0,1243.3 L362.4,1241.7 L362.9,1240.2 L363.3,1238.7 L363.7,1237.2 L364.2,1235.7 L364.6,1234.2 L365.0,1232.7 L365.4,1231.2 L365.9,1229.6 L366.3,1228.1 L366.7,1226.6 L367.1,1225.1 L367.6,1223.6 L368.0,1222.1 L368.4,1220.5 L368.8,1219.0 L369.2,1217.5 L369.6,1216.0 L370.0,1214.5 L370.4,1213.0 L370.8,1211.4 L371.2,1209.9 L371.6,1208.4 L372.0,1206.9 L372.4,1205.4 L372.8,1203.8 L373.2,1202.3 L373.6,1200.8 L374.0,1199.3 L374.4,1197.8 L374.7,1196.2 L375.1,1194.7 L375.5,1193.2 L375.9,1191.7 L376.3,1190.1 L376.7,1188.6 L377.0,1187.1 L377.4,1185.6 L377.8,1184.1 L378.1,1182.5 L378.5,1181.0 L378.9,1179.5 L379.3,1178.0 L379.6,1176.4 L380.0,1174.9 L380.4,1173.4 L380.7,1171.9 L381.1,1170.3 L381.4,1168.8 L381.8,1167.3 L382.2,1165.7 L382.5,1164.2 L382.9,1162.7 L383.2,1161.2 L383.6,1159.6 L383.9,1158.1 L384.3,1156.6 L384.6,1155.1 L385.0,1153.5 L385.3,1152.0 L385.7,1150.5 L386.0,1148.9 L386.4,1147.4 L386.7,1145.9 L387.0,1144.4 L387.4,1142.8 L387.7,1141.3 L388.1,1139.8 L388.4,1138.2 L388.7,1136.7 L389.1,1135.2 L389.4,1133.6 L389.7,1132.1 L390.1,1130.6 L390.4,1129.1 L390.7,1127.5 L391.1,1126.0 L391.4,1124.5 L391.7,1122.9 L392.1,1121.4 L392.4,1119.9 L392.7,1118.3 L393.0,1116.8 L393.4,1115.3 L393.7,1113.7 L394.0,1112.2 L394.3,1110.7 L394.7,1109.1 L395.0,1107.6 L395.3,1106.1 L395.6,1104.5 L395.9,1103.0 L396.3,1101.5 L396.6,1099.9 L396.9,1098.4 L397.2,1096.9 L397.5,1095.3 L397.9,1093.8 L398.2,1092.3 L398.5,1090.7 L398.8,1089.2 L399.1,1087.7 L399.4,1086.1 L399.8,1084.6 L400.1,1083.1 L400.4,1081.5 L400.7,1080.0 L401.0,1078.5 L401.3,1076.9 L401.6,1075.4 L401.9,1073.9 L402.3,1072.3 L402.6,1070.8 L402.9,1069.3 L403.2,1067.7 L403.5,1066.2 L403.8,1064.7 L404.1,1063.1 L404.4,1061.6 L404.8,1060.0 L405.1,1058.5 L405.4,1057.0 L405.7,1055.4 L406.0,1053.9 L406.3,1052.4 L406.6,1050.8 L406.9,1049.3 L407.2,1047.8 L407.6,1046.2 L407.9,1044.7 L408.2,1043.2 L408.5,1041.6 L408.8,1040.1 L409.1,1038.6 L409.4,1037.0 L409.7,1035.5 L410.0,1034.0 L410.4,1032.4 L410.7,1030.9 L411.0,1029.4 L411.3,1027.8 L411.6,1026.3 L411.9,1024.8 L412.2,1023.2 L412.5,1021.7 L412.9,1020.2 L413.2,1018.6 L413.5,1017.1 L413.8,1015.6 L414.1,1014.0 L414.4,1012.5 L414.7,1011.0 L415.1,1009.4 L415.4,1007.9 L415.7,1006.4 L416.0,1004.8 L416.3,1003.3 L416.7,1001.8 L417.0,1000.2 L417.3,998.7 L417.6,997.2 L417.9,995.6 L418.3,994.1 L418.6,992.6 L418.9,991.0 L419.2,989.5 L419.5,988.0 L419.9,986.4 L420.2,984.9 L420.5,983.4 L420.8,981.8 L421.2,980.3 L421.5,978.8 L421.8,977.3 L422.2,975.7 L422.5,974.2 L422.8,972.7 L423.2,971.1 L423.5,969.6 L423.8,968.1 L424.2,966.5 L424.5,965.0 L424.8,963.5 L425.2,962.0 L425.5,960.4 L425.8,958.9 L426.2,957.4 L426.5,955.8 L426.9,954.3 L427.2,952.8 L427.6,951.3 L427.9,949.7 L428.2,948.2 L428.6,946.7 L428.9,945.2 L429.3,943.6 L429.6,942.1 L430.0,940.6 L430.4,939.0 L430.7,937.5 L431.1,936.0 L431.4,934.5 L431.8,932.9 L432.1,931.4 L432.5,929.9 L432.9,928.4 L433.2,926.9 L433.6,925.3 L434.0,923.8 L434.3,922.3 L434.7,920.8 L435.1,919.2 L435.4,917.7 L435.8,916.2 L436.2,914.7 L436.6,913.1 L436.9,911.6 L437.3,910.1 L437.7,908.6 L438.1,907.1 L438.5,905.5 L438.8,904.0 L439.2,902.5 L439.6,901.0 L440.0,899.5 L440.4,898.0 L440.8,896.4 L441.2,894.9 L441.6,893.4 L442.0,891.9 L442.4,890.4 L442.8,888.8 L443.2,887.3 L443.6,885.8 L444.0,884.3 L444.4,882.8 L444.8,881.3 L445.2,879.8 L445.6,878.2 L446.0,876.7 L446.5,875.2 L446.9,873.7 L447.3,872.2 L447.7,870.7 L448.1,869.2 L448.6,867.7 L449.0,866.2 L449.4,864.7 L449.9,863.1 L450.3,861.6 L450.8,860.1 L451.2,858.6 L451.7,857.1 L452.1,855.6 L452.6,854.1 L453.0,852.7 L453.5,851.2 L454.0,849.7 L454.5,848.2 L455.0,846.7 L455.5,845.2 L456.0,843.7 L456.5,842.2 L457.0,840.8 L457.5,839.3 L458.0,837.8 L458.5,836.3 L459.1,834.9 L459.6,833.4 L460.2,831.9 L460.7,830.5 L461.3,829.0 L461.9,827.6 L462.5,826.1 L463.0,824.7 L463.6,823.2 L464.3,821.8 L464.9,820.3 L465.5,818.9 L466.1,817.5 L466.8,816.1 L467.4,814.7 L468.1,813.3 L468.8,811.9 L469.5,810.5 L470.2,809.1 L470.9,807.7 L471.6,806.4 L472.3,805.0 L473.1,803.7 L473.9,802.4 L474.6,801.1 L475.4,799.8 L476.2,798.5 L477.0,797.2 L477.9,796.0 L478.7,794.7 L479.6,793.5 L480.5,792.3 L481.3,791.1 L482.2,790.0 L483.2,788.8 L484.1,787.7 L485.1,786.5 L486.0,785.4 L487.0,784.4 L488.0,783.3 L489.1,782.3 L490.1,781.2 L491.2,780.2 L492.2,779.2 L493.3,778.3 L494.5,777.3 L495.6,776.4 L496.8,775.5 L497.9,774.6 L499.1,773.7 L500.3,772.8 L501.5,772.0 L502.7,771.2 L504.0,770.4 L505.2,769.6 L506.5,768.8 L507.8,768.0 L509.1,767.3 L510.4,766.6 L511.7,765.9 L513.1,765.2 L514.4,764.5 L515.8,763.8 L517.1,763.2 L518.5,762.6 L519.9,762.0 L521.3,761.4 L522.7,760.8 L524.1,760.2 L525.6,759.7 L527.0,759.1 L528.4,758.6 L529.9,758.1 L531.3,757.6 L532.8,757.2 L534.2,756.7 L535.7,756.3 L537.2,755.9 L538.7,755.4 L540.2,755.0 L541.6,754.7 L543.1,754.3 L544.6,753.9 L546.1,753.6 L547.6,753.3 L549.2,753.0 L550.7,752.7 L552.2,752.4 L553.7,752.1 L555.2,751.8 L556.8,751.6 L558.3,751.3 L559.8,751.1 L561.4,750.8 L562.9,750.6 L564.5,750.4 L566.0,750.2 L567.6,750.0 L569.1,749.8 L570.7,749.7 L572.2,749.5 L573.8,749.4 L575.4,749.2 L576.9,749.1 L578.5,748.9 L580.1,748.8 L581.7,748.7 L583.2,748.6 L584.8,748.5 L586.4,748.4 L588.0,748.3 L589.5,748.2 L592.2,748.0 L594.2,747.9 L596.2,747.8 L598.2,747.7 L600.2,747.6 L602.2,747.5 L604.2,747.4 L606.2,747.3 L608.2,747.2 L610.1,747.1 L612.1,747.0 L614.2,746.9 L616.2,746.9 L618.2,746.8 L620.2,746.7 L622.2,746.6 L624.2,746.5 L626.2,746.4 L628.2,746.3 L630.1,746.2 L632.1,746.2 L634.1,746.1 L636.1,746.0 L638.1,746.0 L640.1,745.9 L642.1,745.8 L644.1,745.8 L646.1,745.7 L648.1,745.6 L650.1,745.5 L652.1,745.5 L654.1,745.4 L656.1,745.3 L658.1,745.3 L660.1,745.2 L662.1,745.2 L664.1,745.1 L666.1,745.0 L668.1,745.0 L670.1,744.9 L672.1,744.8 L674.1,744.8 L676.1,744.7 L678.1,744.6 L680.1,744.6 L682.1,744.5 L684.0,744.5 L686.0,744.5 L688.0,744.5 L690.0,744.4 L692.0,744.4 L694.0,744.4 L696.0,744.4 L698.0,744.4 L700.0,744.3 L702.0,744.3 L704.0,744.3 L706.0,744.3 L708.0,744.3 L710.0,744.3 L712.0,744.2 L714.0,744.2 L716.0,744.2 L718.0,744.2 L720.0,744.2 L722.0,744.2 L724.0,744.2 L726.0,744.2 L728.0,744.1 L730.0,744.1 L732.0,744.1 L734.0,744.1 L736.0,744.1 L738.0,744.1 L740.0,744.1 L742.0,744.1 L744.0,744.1 L746.0,744.0 L748.0,744.0 L750.0,744.0 L752.0,744.0 L754.0,744.0 L756.0,744.0 L758.0,744.0 L760.0,744.0 L770.0,743.9 L780.0,743.9 L790.0,743.9 L800.0,743.8 L810.0,743.8 L820.0,743.8 L830.0,743.8 L840.0,743.7 L850.0,743.7 L860.0,743.6 L870.0,743.6 L880.0,743.5 L890.0,743.5 L900.0,743.4 L910.0,743.3 L920.0,743.2 L930.0,743.1 L940.0,743.0 L950.0,742.9 L960.0,742.9 L970.0,742.8 L980.0,742.7 L990.0,742.6 L1000.0,742.5 L1010.0,742.4 L1020.0,742.4 L1030.0,742.3 L1040.0,742.2 L1050.0,742.2 L1060.0,742.1 L1070.0,742.1 L1080.0,742.0 L1090.0,742.0 L1100.0,741.9 L1110.0,741.8 L1120.0,741.8 L1130.0,741.7 L1140.0,741.7 L1150.0,741.6 L1160.0,741.5 L1170.0,741.5 L1180.0,741.4 L1190.0,741.3 L1200.0,741.2 L1210.0,741.1 L1220.0,741.0 L1230.0,740.9 L1240.0,740.8 L1250.0,740.7 L1260.0,740.6 L1270.0,740.6 L1280.0,740.5 L1290.0,740.5 L1300.0,740.4 L1310.0,740.4 L1320.0,740.3 L1330.0,740.3 L1340.0,740.2 L1350.0,740.2 L1360.0,740.2 L1370.0,740.1 L1380.0,740.1 L1390.0,740.1 L1400.0,740.1 L1410.0,740.0 L1420.0,740.0 L1430.0,740.0 L1440.0,739.9 L1450.0,739.9 L1460.0,739.9 L1470.0,739.8 L1480.0,739.8 L1490.0,739.8 L1500.0,739.7 L1510.0,739.7 L1520.0,739.6 L1530.0,739.6 L1540.0,739.5 L1550.0,739.4 L1560.0,739.3 L1562.0,739.3 L1564.0,739.3 L1566.0,739.3 L1568.0,739.3 L1570.0,739.2 L1572.0,739.2 L1574.0,739.2 L1576.0,739.2 L1578.0,739.2 L1580.0,739.1 L1582.0,739.1 L1584.0,739.1 L1586.0,739.1 L1588.0,739.0 L1590.0,739.0 L1592.0,739.0 L1594.1,739.0 L1596.1,738.9 L1598.1,738.9 L1600.1,738.9 L1602.1,738.8 L1604.1,738.8 L1606.1,738.8 L1608.1,738.7 L1610.1,738.7 L1612.1,738.7 L1614.1,738.6 L1616.1,738.6 L1618.1,738.5 L1620.1,738.5 L1622.1,738.5 L1624.1,738.4 L1626.1,738.3 L1628.1,738.3 L1630.1,738.2 L1632.1,738.1 L1634.1,738.0 L1636.1,738.0 L1638.1,737.9 L1640.1,737.8 L1642.1,737.7 L1644.1,737.6 L1646.1,737.5 L1648.1,737.5 L1650.1,737.4 L1652.1,737.3 L1654.1,737.2 L1656.1,737.2 L1658.1,737.1 L1660.1,737.0 L1662.1,736.9 L1664.2,736.9 L1666.2,736.8 L1668.2,736.7 L1670.2,736.6 L1672.2,736.4 L1674.3,736.3 L1676.3,736.2 L1678.3,736.0 L1680.3,735.8 L1682.3,735.6 L1684.3,735.5 L1686.2,735.3 L1688.2,735.2 L1690.2,735.1 L1692.3,734.9 L1694.3,734.8 L1696.3,734.6 L1698.4,734.4 L1700.5,734.1 L1702.5,733.8 L1704.4,733.6 L1706.4,733.4 L1708.4,733.1 L1710.4,732.9 L1712.4,732.7 L1714.4,732.5 L1716.4,732.2 L1718.4,732.0 L1720.4,731.7 L1722.5,731.5 L1724.5,731.2 L1726.5,730.9 L1728.5,730.6 L1730.6,730.3 L1732.6,730.0 L1734.6,729.6 L1736.6,729.2 L1738.7,728.8 L1740.7,728.4 L1742.3,728.1 L1743.8,727.7 L1745.4,727.3 L1746.9,726.9 L1748.4,726.5 L1750.0,726.1 L1751.5,725.7 L1753.0,725.2 L1754.6,724.8 L1756.1,724.3 L1757.6,723.8 L1759.1,723.3 L1760.6,722.7 L1762.1,722.2 L1763.5,721.6 L1765.0,721.0 L1766.5,720.4 L1767.9,719.8 L1769.4,719.1 L1770.8,718.4 L1772.2,717.7 L1773.6,717.0 L1775.0,716.3 L1776.4,715.5 L1777.7,714.8 L1779.1,714.0 L1780.4,713.2 L1781.8,712.3 L1783.2,711.3 L1784.6,710.4 L1785.9,709.4 L1787.2,708.4 L1788.5,707.4 L1789.8,706.3 L1791.0,705.2 L1792.2,704.1 L1793.4,703.0 L1794.6,701.8 L1795.8,700.6 L1796.9,699.4 L1798.0,698.2 L1799.1,697.0 L1800.1,695.7 L1801.1,694.5 L1802.1,693.3 L1803.0,692.0 L1804.0,690.8 L1804.9,689.5 L1805.8,688.2 L1806.7,686.9 L1807.5,685.6 L1808.4,684.3 L1809.2,682.9 L1810.0,681.6 L1810.8,680.2 L1811.6,678.9 L1812.4,677.5 L1813.2,676.1 L1813.9,674.7 L1814.6,673.3 L1815.4,671.9 L1816.1,670.5 L1816.8,669.1 L1817.5,667.6 L1818.2,666.2 L1818.8,664.7 L1819.5,663.3 L1820.2,661.8 L1820.8,660.4 L1821.4,658.9 L1822.1,657.5 L1822.7,656.0 L1823.3,654.5 L1823.9,653.1 L1824.5,651.6 L1825.1,650.2 L1825.7,648.7 L1826.3,647.2 L1826.9,645.8 L1827.4,644.3 L1828.0,642.8 L1828.6,641.4 L1829.1,639.9 L1829.7,638.4 L1830.2,636.9 L1830.7,635.5 L1831.3,634.0 L1831.8,632.5 L1832.3,631.0 L1832.8,629.6 L1833.3,628.1 L1833.9,626.6 L1834.4,625.1 L1834.9,623.7 L1835.3,622.2 L1835.8,620.7 L1836.3,619.2 L1836.8,617.8 L1837.3,616.3 L1837.7,614.8 L1838.2,613.3 L1838.7,611.8 L1839.1,610.4 L1839.6,608.9 L1840.0,607.4 L1840.5,605.9 L1840.9,604.4 L1841.3,602.9 L1841.8,601.4 L1842.2,600.0 L1842.6,598.5 L1843.0,597.0 L1843.5,595.5 L1843.9,594.0 L1844.3,592.5 L1844.7,591.0 L1845.1,589.5 L1845.5,588.1 L1845.9,586.6 L1846.3,585.1 L1846.7,583.6 L1847.0,582.1 L1847.4,580.6 L1847.8,579.1 L1848.2,577.6 L1848.6,576.1 L1848.9,574.6 L1849.3,573.1 L1849.7,571.6 L1850.0,570.2 L1850.4,568.7 L1850.7,567.2 L1851.1,565.7 L1851.5,564.2 L1851.8,562.7 L1852.1,561.2 L1852.5,559.7 L1852.8,558.2 L1853.2,556.7 L1853.5,555.2 L1853.9,553.7 L1854.2,552.2 L1854.5,550.7 L1854.9,549.2 L1855.2,547.7 L1855.5,546.2 L1855.8,544.7 L1856.2,543.2 L1856.5,541.7 L1856.8,540.2 L1857.1,538.7 L1857.5,537.2 L1857.8,535.7 L1858.1,534.2 L1858.4,532.7 L1858.7,531.2 L1859.0,529.7 L1859.4,528.2 L1859.7,526.7 L1860.0,525.2 L1860.3,523.7 L1860.6,522.2 L1860.9,520.7 L1861.2,519.2 L1861.5,517.7 L1861.8,516.2 L1862.2,514.7 L1862.5,513.2 L1862.8,511.7 L1863.1,510.2 L1863.4,508.7 L1863.7,507.1 L1864.0,505.6 L1864.3,504.1 L1864.6,502.6 L1864.9,501.1 L1865.2,499.6 L1865.5,498.1 L1865.8,496.6 L1866.2,495.1 L1866.5,493.6 L1866.8,492.1 L1867.1,490.6 L1867.4,489.1 L1867.7,487.6 L1868.0,486.1 L1868.3,484.6 L1868.6,483.1 L1868.9,481.6 L1869.2,480.0 L1869.5,478.5 L1869.9,477.0 L1870.2,475.5 L1870.5,474.0 L1870.8,472.5 L1871.1,471.0 L1871.4,469.5 L1871.7,468.0 L1872.0,466.5 L1872.3,465.0 L1872.6,463.5 L1873.0,462.0 L1873.3,460.4 L1873.6,458.9 L1873.9,457.4 L1874.2,455.9 L1874.5,454.4 L1874.8,452.9 L1875.1,451.4 L1875.4,449.9 L1875.8,448.4 L1876.1,446.9 L1876.4,445.4 L1876.7,443.9 L1877.0,442.3 L1877.3,440.8 L1877.6,439.3 L1877.9,437.8 L1878.3,436.3 L1878.6,434.8 L1878.9,433.3 L1879.2,431.8 L1879.5,430.3 L1879.8,428.8 L1880.2,427.3 L1880.5,425.8 L1880.8,424.2 L1881.1,422.7 L1881.4,421.2 L1881.7,419.7 L1882.1,418.2 L1882.4,416.7 L1882.7,415.2 L1883.0,413.7 L1883.3,412.2 L1883.6,410.7 L1884.0,409.2 L1884.3,407.7 L1884.6,406.2 L1884.9,404.7 L1885.2,403.2 L1885.6,401.7 L1885.9,400.1 L1886.2,398.6 L1886.5,397.1 L1886.9,395.6 L1887.2,394.1 L1887.5,392.6 L1887.8,391.1 L1888.1,389.6 L1888.5,388.1 L1888.8,386.6 L1889.1,385.1 L1889.4,383.6 L1889.8,382.1 L1890.1,380.6 L1890.4,379.1 L1890.8,377.6 L1891.1,376.1 L1891.4,374.6 L1891.7,373.1 L1892.1,371.6 L1892.4,370.1 L1892.7,368.6 L1893.1,367.1 L1893.4,365.6 L1893.7,364.1 L1894.1,362.6 L1894.4,361.1 L1894.7,359.6 L1895.1,358.1 L1895.4,356.6 L1895.7,355.1 L1896.1,353.6 L1896.4,352.1 L1896.7,350.6 L1897.1,349.1 L1897.4,347.6 L1897.7,346.1 L1898.1,344.6 L1898.4,343.1 L1898.8,341.6 L1899.1,340.2 L1899.4,338.7 L1899.8,337.2 L1900.1,335.7 L1900.5,334.2 L1900.8,332.7 L1901.2,331.2 L1901.5,329.7 L1901.9,328.2 L1902.2,326.7 L1902.6,325.2 L1902.9,323.7 L1903.3,322.2 L1903.6,320.8 L1904.0,319.3 L1904.3,317.8 L1904.7,316.3 L1905.0,314.8 L1905.4,313.3 L1905.7,311.8 L1906.1,310.3 L1906.5,308.8 L1906.8,307.4 L1907.2,305.9 L1907.5,304.4 L1907.9,302.9 L1908.3,301.4 L1908.6,299.9 L1909.0,298.4 L1909.4,296.9 L1909.7,295.5 L1910.1,294.0 L1910.5,292.5 L1910.8,291.0 L1911.2,289.5 L1911.6,288.0 L1912.0,286.5 L1912.3,285.1 L1912.7,283.6 L1913.1,282.1 L1913.5,280.6 L1913.9,279.1 L1914.2,277.6 L1914.6,276.2 L1915.0,274.7 L1915.4,273.2 L1915.8,271.7 L1916.2,270.2 L1916.6,268.8 L1916.9,267.3 L1917.3,265.8 L1917.7,264.3 L1918.1,262.8 L1918.5,261.4 L1918.9,259.9 L1919.3,258.4 L1919.7,256.9 L1920.1,255.4 L1920.5,254.0 L1920.9,252.5 L1921.3,251.0 L1921.7,249.5 L1922.1,248.0 L1922.5,246.6 L1923.0,245.1 L1923.4,243.6 L1923.8,242.1 L1924.2,240.7 L1924.6,239.2 L1925.0,237.7 L1925.5,236.2 L1925.9,234.8 L1926.3,233.3 L1926.7,231.8 L1927.2,230.3 L1927.6,228.9 L1928.0,227.4 L1928.4,225.9 L1928.9,224.4 L1929.3,223.0 L1929.7,221.5 L1930.2,220.0 L1930.6,218.5 L1931.1,217.1 L1931.5,215.6 L1932.3,213.1 L1932.4,211.8 L1932.0,210.4 L1931.1,209.4 L1929.9,208.7 L1928.6,208.6 L1927.2,209.0 L1926.2,209.9 L1925.6,211.1 L1924.8,213.6 L1924.4,215.1 L1923.9,216.5 L1923.5,218.0 L1923.0,219.5 L1922.6,221.0 L1922.2,222.5 L1921.7,223.9 L1921.3,225.4 L1920.9,226.9 L1920.4,228.4 L1920.0,229.9 L1919.6,231.4 L1919.1,232.8 L1918.7,234.3 L1918.3,235.8 L1917.9,237.3 L1917.5,238.8 L1917.0,240.2 L1916.6,241.7 L1916.2,243.2 L1915.8,244.7 L1915.4,246.2 L1915.0,247.7 L1914.6,249.1 L1914.2,250.6 L1913.8,252.1 L1913.4,253.6 L1913.0,255.1 L1912.6,256.6 L1912.2,258.1 L1911.8,259.5 L1911.4,261.0 L1911.0,262.5 L1910.6,264.0 L1910.2,265.5 L1909.8,267.0 L1909.4,268.5 L1909.0,269.9 L1908.6,271.4 L1908.2,272.9 L1907.8,274.4 L1907.5,275.9 L1907.1,277.4 L1906.7,278.9 L1906.3,280.4 L1905.9,281.9 L1905.6,283.3 L1905.2,284.8 L1904.8,286.3 L1904.4,287.8 L1904.1,289.3 L1903.7,290.8 L1903.3,292.3 L1902.9,293.8 L1902.6,295.3 L1902.2,296.8 L1901.8,298.2 L1901.5,299.7 L1901.1,301.2 L1900.7,302.7 L1900.4,304.2 L1900.0,305.7 L1899.7,307.2 L1899.3,308.7 L1898.9,310.2 L1898.6,311.7 L1898.2,313.2 L1897.9,314.7 L1897.5,316.2 L1897.2,317.6 L1896.8,319.1 L1896.4,320.6 L1896.1,322.1 L1895.7,323.6 L1895.4,325.1 L1895.0,326.6 L1894.7,328.1 L1894.4,329.6 L1894.0,331.1 L1893.7,332.6 L1893.3,334.1 L1893.0,335.6 L1892.6,337.1 L1892.3,338.6 L1891.9,340.1 L1891.6,341.6 L1891.3,343.1 L1890.9,344.6 L1890.6,346.1 L1890.2,347.6 L1889.9,349.1 L1889.6,350.6 L1889.2,352.1 L1888.9,353.6 L1888.6,355.1 L1888.2,356.6 L1887.9,358.1 L1887.6,359.6 L1887.2,361.1 L1886.9,362.6 L1886.6,364.1 L1886.2,365.6 L1885.9,367.1 L1885.6,368.6 L1885.2,370.1 L1884.9,371.6 L1884.6,373.1 L1884.2,374.6 L1883.9,376.1 L1883.6,377.6 L1883.3,379.1 L1882.9,380.6 L1882.6,382.1 L1882.3,383.6 L1882.0,385.1 L1881.6,386.6 L1881.3,388.1 L1881.0,389.6 L1880.7,391.2 L1880.3,392.7 L1880.0,394.2 L1879.7,395.7 L1879.4,397.2 L1879.0,398.7 L1878.7,400.2 L1878.4,401.7 L1878.1,403.2 L1877.8,404.7 L1877.4,406.2 L1877.1,407.7 L1876.8,409.2 L1876.5,410.7 L1876.2,412.3 L1875.8,413.8 L1875.5,415.3 L1875.2,416.8 L1874.9,418.3 L1874.6,419.8 L1874.3,421.3 L1873.9,422.8 L1873.6,424.3 L1873.3,425.8 L1873.0,427.3 L1872.7,428.8 L1872.4,430.4 L1872.0,431.9 L1871.7,433.4 L1871.4,434.9 L1871.1,436.4 L1870.8,437.9 L1870.5,439.4 L1870.2,440.9 L1869.8,442.4 L1869.5,443.9 L1869.2,445.4 L1868.9,447.0 L1868.6,448.5 L1868.3,450.0 L1868.0,451.5 L1867.7,453.0 L1867.3,454.5 L1867.0,456.0 L1866.7,457.5 L1866.4,459.0 L1866.1,460.5 L1865.8,462.0 L1865.5,463.6 L1865.2,465.1 L1864.9,466.6 L1864.5,468.1 L1864.2,469.6 L1863.9,471.1 L1863.6,472.6 L1863.3,474.1 L1863.0,475.6 L1862.7,477.1 L1862.4,478.6 L1862.1,480.1 L1861.8,481.7 L1861.5,483.2 L1861.1,484.7 L1860.8,486.2 L1860.5,487.7 L1860.2,489.2 L1859.9,490.7 L1859.6,492.2 L1859.3,493.7 L1859.0,495.2 L1858.7,496.7 L1858.4,498.2 L1858.1,499.7 L1857.8,501.2 L1857.5,502.7 L1857.1,504.2 L1856.8,505.7 L1856.5,507.3 L1856.2,508.8 L1855.9,510.3 L1855.6,511.8 L1855.3,513.3 L1855.0,514.8 L1854.7,516.3 L1854.4,517.8 L1854.1,519.3 L1853.8,520.8 L1853.4,522.3 L1853.1,523.8 L1852.8,525.3 L1852.5,526.8 L1852.2,528.3 L1851.9,529.8 L1851.6,531.3 L1851.3,532.8 L1850.9,534.2 L1850.6,535.7 L1850.3,537.2 L1850.0,538.7 L1849.7,540.2 L1849.3,541.7 L1849.0,543.2 L1848.7,544.7 L1848.4,546.2 L1848.0,547.7 L1847.7,549.2 L1847.4,550.7 L1847.0,552.2 L1846.7,553.6 L1846.4,555.1 L1846.0,556.6 L1845.7,558.1 L1845.3,559.6 L1845.0,561.1 L1844.6,562.6 L1844.3,564.1 L1843.9,565.5 L1843.6,567.0 L1843.2,568.5 L1842.9,570.0 L1842.5,571.5 L1842.1,573.0 L1841.8,574.4 L1841.4,575.9 L1841.0,577.4 L1840.6,578.9 L1840.3,580.4 L1839.9,581.8 L1839.5,583.3 L1839.1,584.8 L1838.7,586.3 L1838.3,587.7 L1837.9,589.2 L1837.5,590.7 L1837.1,592.2 L1836.7,593.6 L1836.3,595.1 L1835.9,596.6 L1835.5,598.0 L1835.0,599.5 L1834.6,601.0 L1834.2,602.4 L1833.8,603.9 L1833.3,605.4 L1832.9,606.8 L1832.4,608.3 L1832.0,609.8 L1831.5,611.2 L1831.1,612.7 L1830.6,614.2 L1830.1,615.6 L1829.7,617.1 L1829.2,618.5 L1828.7,620.0 L1828.2,621.4 L1827.7,622.9 L1827.2,624.4 L1826.7,625.8 L1826.2,627.3 L1825.7,628.7 L1825.2,630.2 L1824.7,631.6 L1824.2,633.1 L1823.6,634.5 L1823.1,636.0 L1822.6,637.4 L1822.0,638.9 L1821.5,640.3 L1820.9,641.8 L1820.3,643.2 L1819.8,644.7 L1819.2,646.1 L1818.6,647.5 L1818.0,649.0 L1817.4,650.4 L1816.9,651.9 L1816.3,653.3 L1815.6,654.7 L1815.0,656.1 L1814.4,657.6 L1813.8,659.0 L1813.1,660.4 L1812.5,661.8 L1811.8,663.2 L1811.2,664.6 L1810.5,666.0 L1809.8,667.4 L1809.1,668.7 L1808.4,670.1 L1807.7,671.4 L1807.0,672.8 L1806.3,674.1 L1805.5,675.4 L1804.8,676.7 L1804.0,678.0 L1803.2,679.3 L1802.5,680.5 L1801.6,681.8 L1800.8,683.0 L1800.0,684.3 L1799.2,685.5 L1798.3,686.6 L1797.4,687.8 L1796.6,689.0 L1795.7,690.1 L1794.8,691.2 L1793.8,692.4 L1792.8,693.6 L1791.7,694.7 L1790.7,695.8 L1789.7,696.9 L1788.6,697.9 L1787.5,699.0 L1786.4,700.0 L1785.2,701.0 L1784.1,701.9 L1782.9,702.9 L1781.7,703.8 L1780.5,704.7 L1779.2,705.6 L1778.0,706.4 L1776.7,707.2 L1775.5,708.0 L1774.2,708.7 L1773.0,709.4 L1771.7,710.1 L1770.4,710.8 L1769.1,711.5 L1767.8,712.1 L1766.4,712.7 L1765.1,713.4 L1763.7,713.9 L1762.4,714.5 L1761.0,715.1 L1759.6,715.6 L1758.2,716.1 L1756.8,716.7 L1755.3,717.1 L1753.9,717.6 L1752.5,718.1 L1751.0,718.5 L1749.6,719.0 L1748.1,719.4 L1746.6,719.8 L1745.1,720.2 L1743.7,720.5 L1742.2,720.9 L1740.7,721.3 L1739.3,721.6 L1737.3,722.0 L1735.4,722.3 L1733.4,722.7 L1731.4,723.1 L1729.4,723.4 L1727.5,723.7 L1725.5,724.0 L1723.5,724.3 L1721.5,724.5 L1719.6,724.8 L1717.6,725.0 L1715.6,725.3 L1713.6,725.5 L1711.6,725.7 L1709.6,726.0 L1707.6,726.2 L1705.6,726.4 L1703.6,726.6 L1701.5,726.9 L1699.5,727.2 L1697.6,727.4 L1695.7,727.6 L1693.7,727.8 L1691.7,727.9 L1689.8,728.1 L1687.8,728.2 L1685.8,728.4 L1683.7,728.5 L1681.7,728.7 L1679.7,728.8 L1677.7,729.0 L1675.7,729.2 L1673.7,729.3 L1671.8,729.5 L1669.8,729.6 L1667.8,729.7 L1665.8,729.8 L1663.8,729.9 L1661.9,729.9 L1659.9,730.0 L1657.9,730.1 L1655.9,730.2 L1653.9,730.2 L1651.9,730.3 L1649.9,730.4 L1647.9,730.5 L1645.9,730.5 L1643.9,730.6 L1641.9,730.7 L1639.9,730.8 L1637.9,730.9 L1635.9,731.0 L1633.9,731.0 L1631.9,731.1 L1629.9,731.2 L1627.9,731.3 L1625.9,731.3 L1623.9,731.4 L1621.9,731.5 L1619.9,731.5 L1617.9,731.5 L1615.9,731.6 L1613.9,731.6 L1611.9,731.7 L1609.9,731.7 L1607.9,731.7 L1605.9,731.8 L1603.9,731.8 L1601.9,731.8 L1599.9,731.9 L1597.9,731.9 L1595.9,731.9 L1593.9,732.0 L1592.0,732.0 L1590.0,732.0 L1588.0,732.0 L1586.0,732.1 L1584.0,732.1 L1582.0,732.1 L1580.0,732.1 L1578.0,732.2 L1576.0,732.2 L1574.0,732.2 L1572.0,732.2 L1570.0,732.3 L1568.0,732.3 L1566.0,732.3 L1564.0,732.3 L1562.0,732.3 L1560.0,732.3 L1550.0,732.4 L1540.0,732.5 L1530.0,732.6 L1520.0,732.6 L1510.0,732.7 L1500.0,732.7 L1490.0,732.8 L1480.0,732.8 L1470.0,732.8 L1460.0,732.9 L1450.0,732.9 L1440.0,732.9 L1430.0,733.0 L1420.0,733.0 L1410.0,733.0 L1400.0,733.1 L1390.0,733.1 L1380.0,733.1 L1370.0,733.1 L1360.0,733.2 L1350.0,733.2 L1340.0,733.2 L1330.0,733.3 L1320.0,733.3 L1310.0,733.4 L1300.0,733.4 L1290.0,733.5 L1280.0,733.5 L1270.0,733.6 L1260.0,733.6 L1250.0,733.7 L1240.0,733.8 L1230.0,733.9 L1220.0,734.0 L1210.0,734.1 L1200.0,734.2 L1190.0,734.3 L1180.0,734.4 L1170.0,734.5 L1160.0,734.5 L1150.0,734.6 L1140.0,734.7 L1130.0,734.7 L1120.0,734.8 L1110.0,734.8 L1100.0,734.9 L1090.0,735.0 L1080.0,735.0 L1070.0,735.1 L1060.0,735.1 L1050.0,735.2 L1040.0,735.2 L1030.0,735.3 L1020.0,735.4 L1010.0,735.4 L1000.0,735.5 L990.0,735.6 L980.0,735.7 L970.0,735.8 L960.0,735.9 L950.0,735.9 L940.0,736.0 L930.0,736.1 L920.0,736.2 L910.0,736.3 L900.0,736.4 L890.0,736.5 L880.0,736.5 L870.0,736.6 L860.0,736.6 L850.0,736.7 L840.0,736.7 L830.0,736.8 L820.0,736.8 L810.0,736.8 L800.0,736.8 L790.0,736.9 L780.0,736.9 L770.0,736.9 L760.0,737.0 L758.0,737.0 L756.0,737.0 L754.0,737.0 L752.0,737.0 L750.0,737.0 L748.0,737.0 L746.0,737.0 L744.0,737.1 L742.0,737.1 L740.0,737.1 L738.0,737.1 L736.0,737.1 L734.0,737.1 L732.0,737.1 L730.0,737.1 L728.0,737.1 L726.0,737.2 L724.0,737.2 L722.0,737.2 L720.0,737.2 L718.0,737.2 L716.0,737.2 L714.0,737.2 L712.0,737.2 L710.0,737.3 L708.0,737.3 L706.0,737.3 L704.0,737.3 L702.0,737.3 L700.0,737.3 L698.0,737.4 L696.0,737.4 L694.0,737.4 L692.0,737.4 L690.0,737.4 L688.0,737.5 L686.0,737.5 L684.0,737.5 L681.9,737.5 L679.9,737.6 L677.9,737.6 L675.9,737.7 L673.9,737.8 L671.9,737.8 L669.9,737.9 L667.9,738.0 L665.9,738.0 L663.9,738.1 L661.9,738.2 L659.9,738.2 L657.9,738.3 L655.9,738.4 L653.9,738.4 L651.9,738.5 L649.9,738.6 L647.9,738.6 L645.9,738.7 L643.9,738.8 L641.9,738.8 L639.9,738.9 L637.9,739.0 L635.9,739.0 L633.9,739.1 L631.9,739.2 L629.9,739.3 L627.8,739.3 L625.8,739.4 L623.8,739.5 L621.8,739.6 L619.8,739.7 L617.8,739.8 L615.8,739.9 L613.8,740.0 L611.9,740.0 L609.9,740.1 L607.8,740.2 L605.8,740.3 L603.8,740.4 L601.8,740.5 L599.8,740.6 L597.8,740.7 L595.8,740.8 L593.8,740.9 L591.8,741.0 L589.2,741.2 L587.5,741.3 L585.9,741.4 L584.3,741.5 L582.7,741.6 L581.1,741.7 L579.5,741.8 L577.9,742.0 L576.3,742.1 L574.7,742.2 L573.1,742.4 L571.5,742.6 L569.9,742.7 L568.3,742.9 L566.8,743.1 L565.2,743.3 L563.6,743.5 L562.0,743.7 L560.4,743.9 L558.8,744.1 L557.2,744.4 L555.6,744.6 L554.0,744.9 L552.5,745.2 L550.9,745.5 L549.3,745.8 L547.7,746.1 L546.2,746.4 L544.6,746.8 L543.1,747.1 L541.5,747.5 L539.9,747.9 L538.4,748.3 L536.8,748.7 L535.3,749.1 L533.7,749.6 L532.2,750.0 L530.7,750.5 L529.1,751.0 L527.6,751.5 L526.1,752.0 L524.6,752.6 L523.1,753.1 L521.6,753.7 L520.1,754.3 L518.6,754.9 L517.1,755.5 L515.7,756.2 L514.2,756.8 L512.8,757.5 L511.3,758.2 L509.9,758.9 L508.5,759.7 L507.1,760.4 L505.7,761.2 L504.3,762.0 L502.9,762.8 L501.6,763.6 L500.2,764.5 L498.9,765.3 L497.6,766.2 L496.3,767.1 L495.0,768.1 L493.7,769.0 L492.4,770.0 L491.2,771.0 L490.0,772.0 L488.8,773.0 L487.6,774.0 L486.4,775.1 L485.3,776.2 L484.1,777.3 L483.0,778.4 L481.9,779.6 L480.8,780.8 L479.8,782.0 L478.7,783.2 L477.7,784.4 L476.7,785.6 L475.8,786.9 L474.8,788.2 L473.9,789.5 L473.0,790.8 L472.1,792.1 L471.2,793.4 L470.3,794.7 L469.5,796.1 L468.6,797.5 L467.8,798.9 L467.0,800.2 L466.2,801.6 L465.5,803.1 L464.7,804.5 L463.9,805.9 L463.2,807.3 L462.5,808.8 L461.8,810.2 L461.1,811.7 L460.4,813.1 L459.8,814.6 L459.1,816.1 L458.4,817.6 L457.8,819.0 L457.2,820.5 L456.6,822.0 L456.0,823.5 L455.4,825.0 L454.8,826.5 L454.2,828.0 L453.6,829.5 L453.1,831.0 L452.5,832.5 L452.0,834.0 L451.4,835.5 L450.9,837.0 L450.4,838.5 L449.8,840.0 L449.3,841.5 L448.8,843.0 L448.3,844.5 L447.8,846.0 L447.3,847.5 L446.8,849.0 L446.4,850.6 L445.9,852.1 L445.4,853.6 L445.0,855.1 L444.5,856.6 L444.1,858.1 L443.6,859.7 L443.2,861.2 L442.7,862.7 L442.3,864.2 L441.8,865.7 L441.4,867.3 L441.0,868.8 L440.6,870.3 L440.1,871.8 L439.7,873.4 L439.3,874.9 L438.9,876.4 L438.5,877.9 L438.0,879.4 L437.6,881.0 L437.2,882.5 L436.8,884.0 L436.4,885.5 L436.0,887.1 L435.6,888.6 L435.2,890.1 L434.8,891.6 L434.4,893.2 L434.0,894.7 L433.6,896.2 L433.2,897.7 L432.8,899.3 L432.4,900.8 L432.0,902.3 L431.7,903.8 L431.3,905.4 L430.9,906.9 L430.5,908.4 L430.1,909.9 L429.8,911.5 L429.4,913.0 L429.0,914.5 L428.6,916.1 L428.3,917.6 L427.9,919.1 L427.5,920.6 L427.1,922.2 L426.8,923.7 L426.4,925.2 L426.0,926.8 L425.7,928.3 L425.3,929.8 L425.0,931.3 L424.6,932.9 L424.2,934.4 L423.9,935.9 L423.5,937.5 L423.2,939.0 L422.8,940.5 L422.5,942.1 L422.1,943.6 L421.8,945.1 L421.4,946.7 L421.1,948.2 L420.7,949.7 L420.4,951.2 L420.0,952.8 L419.7,954.3 L419.4,955.8 L419.0,957.4 L418.7,958.9 L418.3,960.4 L418.0,962.0 L417.7,963.5 L417.3,965.0 L417.0,966.6 L416.6,968.1 L416.3,969.6 L416.0,971.2 L415.7,972.7 L415.3,974.2 L415.0,975.8 L414.7,977.3 L414.3,978.8 L414.0,980.4 L413.7,981.9 L413.3,983.5 L413.0,985.0 L412.7,986.5 L412.4,988.1 L412.0,989.6 L411.7,991.1 L411.4,992.7 L411.1,994.2 L410.8,995.7 L410.4,997.3 L410.1,998.8 L409.8,1000.3 L409.5,1001.9 L409.2,1003.4 L408.8,1004.9 L408.5,1006.5 L408.2,1008.0 L407.9,1009.5 L407.6,1011.1 L407.3,1012.6 L406.9,1014.1 L406.6,1015.7 L406.3,1017.2 L406.0,1018.8 L405.7,1020.3 L405.4,1021.8 L405.1,1023.4 L404.7,1024.9 L404.4,1026.4 L404.1,1028.0 L403.8,1029.5 L403.5,1031.0 L403.2,1032.6 L402.9,1034.1 L402.6,1035.6 L402.2,1037.2 L401.9,1038.7 L401.6,1040.2 L401.3,1041.8 L401.0,1043.3 L400.7,1044.8 L400.4,1046.4 L400.1,1047.9 L399.8,1049.5 L399.4,1051.0 L399.1,1052.5 L398.8,1054.1 L398.5,1055.6 L398.2,1057.1 L397.9,1058.7 L397.6,1060.2 L397.3,1061.7 L397.0,1063.3 L396.6,1064.8 L396.3,1066.3 L396.0,1067.9 L395.7,1069.4 L395.4,1070.9 L395.1,1072.5 L394.8,1074.0 L394.5,1075.5 L394.2,1077.1 L393.8,1078.6 L393.5,1080.1 L393.2,1081.7 L392.9,1083.2 L392.6,1084.7 L392.3,1086.3 L391.9,1087.8 L391.6,1089.3 L391.3,1090.9 L391.0,1092.4 L390.7,1093.9 L390.4,1095.4 L390.0,1097.0 L389.7,1098.5 L389.4,1100.0 L389.1,1101.6 L388.8,1103.1 L388.5,1104.6 L388.1,1106.2 L387.8,1107.7 L387.5,1109.2 L387.2,1110.8 L386.8,1112.3 L386.5,1113.8 L386.2,1115.3 L385.9,1116.9 L385.5,1118.4 L385.2,1119.9 L384.9,1121.5 L384.6,1123.0 L384.2,1124.5 L383.9,1126.0 L383.6,1127.6 L383.2,1129.1 L382.9,1130.6 L382.6,1132.1 L382.2,1133.7 L381.9,1135.2 L381.6,1136.7 L381.2,1138.3 L380.9,1139.8 L380.5,1141.3 L380.2,1142.8 L379.9,1144.4 L379.5,1145.9 L379.2,1147.4 L378.8,1148.9 L378.5,1150.5 L378.1,1152.0 L377.8,1153.5 L377.4,1155.0 L377.1,1156.5 L376.7,1158.1 L376.4,1159.6 L376.0,1161.1 L375.7,1162.6 L375.3,1164.2 L375.0,1165.7 L374.6,1167.2 L374.3,1168.7 L373.9,1170.2 L373.5,1171.8 L373.2,1173.3 L372.8,1174.8 L372.5,1176.3 L372.1,1177.8 L371.7,1179.4 L371.3,1180.9 L371.0,1182.4 L370.6,1183.9 L370.2,1185.4 L369.9,1186.9 L369.5,1188.5 L369.1,1190.0 L368.7,1191.5 L368.3,1193.0 L368.0,1194.5 L367.6,1196.0 L367.2,1197.5 L366.8,1199.1 L366.4,1200.6 L366.0,1202.1 L365.6,1203.6 L365.2,1205.1 L364.8,1206.6 L364.4,1208.1 L364.0,1209.7 L363.6,1211.2 L363.2,1212.7 L362.8,1214.2 L362.4,1215.7 L362.0,1217.2 L361.6,1218.7 L361.2,1220.2 L360.8,1221.7 L360.4,1223.2 L360.0,1224.7 L359.6,1226.3 L359.1,1227.8 L358.7,1229.3 L358.3,1230.8 L357.9,1232.3 L357.4,1233.8 L357.0,1235.3 L356.6,1236.8 L356.1,1238.3 L355.7,1239.8 L355.3,1241.3 L354.8,1242.8 L354.4,1244.3 L353.9,1245.8 L353.8,1247.2 L354.2,1248.5 L355.1,1249.5 L356.3,1250.2 L357.7,1250.3 L359.0,1249.9 L360.0,1249.0Z"/>
<path fill="#0000ff" d="M360.7,1172.4 L361.0,1170.9 L361.3,1169.3 L361.7,1167.8 L362.0,1166.3 L362.3,1164.7 L362.6,1163.2 L362.9,1161.7 L363.2,1160.1 L363.5,1158.6 L363.8,1157.1 L364.1,1155.5 L364.4,1154.0 L364.8,1152.5 L365.1,1151.0 L365.4,1149.4 L365.7,1147.9 L366.0,1146.4 L366.3,1144.8 L366.6,1143.3 L367.0,1141.8 L367.3,1140.2 L367.6,1138.7 L367.9,1137.2 L368.2,1135.6 L368.5,1134.1 L368.9,1132.6 L369.2,1131.0 L369.5,1129.5 L369.8,1128.0 L370.1,1126.4 L370.5,1124.9 L370.8,1123.4 L371.1,1121.8 L371.4,1120.3 L371.7,1118.8 L372.1,1117.3 L372.4,1115.7 L372.7,1114.2 L373.0,1112.7 L373.4,1111.1 L373.7,1109.6 L374.0,1108.1 L374.3,1106.5 L374.7,1105.0 L375.0,1103.5 L375.3,1101.9 L375.6,1100.4 L376.0,1098.9 L376.3,1097.3 L376.6,1095.8 L376.9,1094.3 L377.3,1092.7 L377.6,1091.2 L377.9,1089.7 L378.3,1088.1 L378.6,1086.6 L378.9,1085.1 L379.2,1083.5 L379.6,1082.0 L379.9,1080.5 L380.2,1078.9 L380.6,1077.4 L380.9,1075.9 L381.2,1074.3 L381.6,1072.8 L381.9,1071.3 L382.2,1069.7 L382.5,1068.2 L382.9,1066.7 L383.2,1065.1 L383.5,1063.6 L383.9,1062.1 L384.2,1060.5 L384.5,1059.0 L384.9,1057.5 L385.2,1055.9 L385.5,1054.4 L385.9,1052.9 L386.2,1051.4 L386.5,1049.8 L386.9,1048.3 L387.2,1046.8 L387.5,1045.2 L387.9,1043.7 L388.2,1042.2 L388.5,1040.6 L388.9,1039.1 L389.2,1037.6 L389.5,1036.0 L389.9,1034.5 L390.2,1033.0 L390.5,1031.4 L390.9,1029.9 L391.2,1028.4 L391.5,1026.8 L391.9,1025.3 L392.2,1023.8 L392.5,1022.3 L392.9,1020.7 L393.2,1019.2 L393.5,1017.7 L393.9,1016.1 L394.2,1014.6 L394.5,1013.1 L394.9,1011.5 L395.2,1010.0 L395.6,1008.5 L395.9,1007.0 L396.2,1005.4 L396.6,1003.9 L396.9,1002.4 L397.2,1000.8 L397.6,999.3 L397.9,997.8 L398.2,996.3 L398.6,994.7 L398.9,993.2 L399.2,991.7 L399.6,990.1 L399.9,988.6 L400.2,987.1 L400.6,985.6 L400.9,984.0 L401.2,982.5 L401.6,981.0 L401.9,979.4 L402.2,977.9 L402.5,976.4 L402.9,974.9 L403.2,973.3 L403.5,971.8 L403.9,970.3 L404.2,968.8 L404.5,967.2 L404.9,965.7 L405.2,964.2 L405.5,962.7 L405.9,961.1 L406.2,959.6 L406.5,958.1 L406.8,956.6 L407.2,955.0 L407.5,953.5 L407.8,952.0 L408.2,950.5 L408.5,948.9 L408.8,947.4 L409.1,945.9 L409.5,944.4 L409.8,942.9 L410.1,941.3 L410.5,939.8 L410.8,938.3 L411.1,936.8 L411.5,935.2 L411.8,933.7 L412.1,932.2 L412.5,930.7 L412.8,929.2 L413.1,927.6 L413.5,926.1 L413.8,924.6 L414.1,923.1 L414.5,921.6 L414.8,920.1 L415.2,918.5 L415.5,917.0 L415.8,915.5 L416.2,914.0 L416.5,912.5 L416.9,910.9 L417.2,909.4 L417.6,907.9 L417.9,906.4 L418.3,904.9 L418.7,903.4 L419.0,901.8 L419.4,900.3 L419.7,898.8 L420.1,897.3 L420.5,895.8 L420.9,894.3 L421.2,892.7 L421.6,891.2 L422.0,889.7 L422.4,888.2 L422.7,886.7 L423.1,885.2 L423.5,883.7 L423.9,882.1 L424.3,880.6 L424.7,879.1 L425.1,877.6 L425.5,876.1 L425.9,874.6 L426.3,873.0 L426.7,871.5 L427.2,870.0 L427.6,868.5 L428.0,867.0 L428.4,865.5 L428.9,863.9 L429.3,862.4 L429.7,860.9 L430.2,859.4 L430.6,857.9 L431.1,856.4 L431.5,854.9 L432.0,853.3 L432.5,851.8 L432.9,850.3 L433.4,848.8 L433.9,847.3 L434.4,845.8 L434.8,844.2 L435.3,842.7 L435.8,841.2 L436.3,839.7 L436.8,838.2 L437.3,836.7 L437.9,835.2 L438.4,833.7 L438.9,832.2 L439.5,830.7 L440.0,829.2 L440.6,827.7 L441.1,826.3 L441.7,824.8 L442.3,823.3 L442.9,821.9 L443.5,820.4 L444.1,819.0 L444.7,817.6 L445.3,816.1 L446.0,814.7 L446.6,813.3 L447.3,811.9 L447.9,810.6 L448.6,809.2 L449.3,807.8 L450.0,806.5 L450.8,805.1 L451.5,803.8 L452.3,802.5 L453.0,801.2 L453.8,799.9 L454.6,798.6 L455.4,797.4 L456.2,796.1 L457.1,794.9 L457.9,793.7 L458.8,792.5 L459.7,791.3 L460.6,790.1 L461.5,789.0 L462.4,787.8 L463.4,786.7 L464.3,785.6 L465.3,784.5 L466.3,783.4 L467.3,782.4 L468.4,781.3 L469.4,780.3 L470.5,779.3 L471.6,778.3 L472.7,777.3 L473.8,776.4 L474.9,775.4 L476.0,774.5 L477.2,773.6 L478.4,772.7 L479.5,771.8 L480.7,771.0 L482.0,770.2 L483.2,769.4 L484.4,768.6 L485.7,767.8 L486.9,767.0 L488.2,766.3 L489.5,765.6 L490.8,764.9 L492.1,764.2 L493.5,763.5 L494.8,762.9 L496.2,762.3 L497.5,761.7 L498.9,761.1 L500.3,760.5 L501.7,759.9 L503.1,759.4 L504.6,758.9 L506.0,758.3 L507.4,757.9 L508.9,757.4 L510.3,756.9 L511.8,756.4 L513.3,756.0 L514.8,755.6 L516.3,755.2 L517.8,754.8 L519.3,754.4 L520.8,754.0 L522.3,753.7 L523.8,753.3 L525.3,753.0 L526.9,752.7 L528.4,752.4 L529.9,752.1 L531.5,751.8 L533.0,751.5 L534.5,751.2 L536.1,751.0 L537.6,750.7 L539.2,750.5 L540.7,750.3 L542.3,750.0 L543.8,749.8 L545.4,749.6 L546.9,749.5 L548.5,749.3 L550.0,749.1 L551.6,748.9 L553.1,748.8 L554.7,748.6 L556.3,748.5 L557.8,748.3 L559.4,748.2 L560.9,748.1 L562.5,748.0 L564.1,747.9 L565.6,747.8 L567.2,747.7 L568.8,747.6 L570.3,747.5 L571.9,747.4 L573.5,747.3 L575.0,747.3 L576.6,747.2 L578.2,747.1 L579.7,747.1 L581.3,747.0 L582.9,747.0 L584.4,746.9 L586.0,746.9 L587.6,746.8 L589.1,746.8 L592.1,746.7 L594.1,746.6 L596.1,746.6 L598.1,746.5 L600.1,746.5 L602.1,746.4 L604.1,746.4 L606.1,746.3 L608.1,746.3 L610.1,746.2 L612.1,746.2 L614.1,746.1 L616.1,746.0 L618.1,746.0 L620.2,745.9 L622.2,745.8 L624.2,745.7 L626.2,745.6 L628.2,745.5 L630.2,745.4 L632.2,745.3 L634.2,745.2 L636.1,745.1 L638.1,745.0 L640.1,744.9 L642.1,744.9 L644.1,744.8 L646.1,744.7 L648.1,744.7 L650.1,744.6 L652.1,744.6 L654.1,744.5 L656.0,744.5 L658.0,744.5 L660.0,744.5 L662.0,744.5 L664.0,744.4 L666.0,744.4 L668.0,744.4 L670.0,744.4 L672.0,744.4 L674.0,744.3 L676.0,744.3 L678.0,744.3 L680.0,744.3 L682.0,744.3 L684.0,744.3 L686.0,744.3 L688.0,744.2 L690.0,744.2 L692.0,744.2 L694.0,744.2 L696.0,744.2 L698.0,744.2 L700.0,744.2 L702.0,744.2 L704.0,744.1 L706.0,744.1 L708.0,744.1 L710.0,744.1 L712.0,744.1 L714.0,744.1 L716.0,744.1 L718.0,744.1 L720.0,744.1 L722.0,744.1 L724.0,744.1 L726.0,744.0 L728.0,744.0 L730.0,744.0 L732.0,744.0 L734.0,744.0 L736.0,744.0 L738.0,744.0 L740.0,744.0 L742.0,744.0 L744.0,744.0 L746.0,744.0 L748.0,744.0 L750.0,744.0 L752.0,743.9 L754.0,743.9 L756.0,743.9 L758.0,743.9 L760.0,743.9 L770.0,743.9 L780.0,743.9 L790.0,743.8 L800.0,743.8 L810.0,743.8 L820.0,743.8 L830.0,743.7 L840.0,743.7 L850.0,743.7 L860.0,743.6 L870.0,743.6 L880.0,743.5 L890.0,743.4 L900.0,743.4 L910.0,743.3 L920.0,743.2 L930.0,743.1 L940.0,743.0 L950.0,742.9 L960.0,742.8 L970.0,742.8 L980.0,742.7 L990.0,742.6 L1000.0,742.5 L1010.0,742.4 L1020.0,742.4 L1030.0,742.3 L1040.0,742.2 L1050.0,742.2 L1060.0,742.1 L1070.0,742.1 L1080.0,742.0 L1090.0,741.9 L1100.0,741.9 L1110.0,741.8 L1120.0,741.7 L1130.0,741.7 L1140.0,741.6 L1150.0,741.5 L1160.0,741.5 L1170.0,741.4 L1180.0,741.3 L1190.0,741.2 L1200.0,741.1 L1210.0,741.0 L1220.0,740.9 L1230.0,740.8 L1240.0,740.7 L1250.0,740.6 L1260.0,740.6 L1270.0,740.5 L1280.0,740.4 L1290.0,740.4 L1300.0,740.3 L1310.0,740.3 L1320.0,740.2 L1330.0,740.2 L1340.0,740.2 L1350.0,740.1 L1360.0,740.1 L1370.0,740.0 L1380.0,740.0 L1390.0,740.0 L1400.0,739.9 L1410.0,739.9 L1420.0,739.9 L1430.0,739.8 L1440.0,739.8 L1450.0,739.7 L1460.0,739.7 L1470.0,739.6 L1480.0,739.6 L1490.0,739.5 L1500.0,739.5 L1510.0,739.4 L1520.0,739.3 L1530.0,739.2 L1540.0,739.2 L1550.0,739.1 L1560.0,739.0 L1562.0,739.0 L1564.0,739.0 L1566.0,738.9 L1568.0,738.9 L1570.0,738.9 L1572.0,738.9 L1574.0,738.9 L1576.0,738.8 L1578.0,738.8 L1580.0,738.8 L1582.0,738.8 L1584.0,738.8 L1586.0,738.7 L1588.0,738.7 L1590.0,738.7 L1592.0,738.7 L1594.0,738.6 L1596.0,738.6 L1598.0,738.6 L1600.0,738.6 L1602.0,738.6 L1604.0,738.5 L1606.0,738.5 L1608.0,738.5 L1610.0,738.5 L1612.0,738.4 L1614.0,738.4 L1616.0,738.4 L1618.0,738.4 L1620.0,738.3 L1622.0,738.3 L1624.0,738.3 L1626.0,738.3 L1628.0,738.2 L1630.0,738.2 L1632.0,738.2 L1634.1,738.2 L1636.1,738.1 L1638.1,738.1 L1640.1,738.1 L1642.1,738.0 L1644.1,738.0 L1646.1,738.0 L1648.1,737.9 L1650.1,737.9 L1652.1,737.9 L1654.1,737.8 L1656.1,737.8 L1658.1,737.7 L1660.1,737.7 L1662.1,737.6 L1664.1,737.6 L1666.1,737.5 L1668.1,737.5 L1670.1,737.4 L1672.1,737.4 L1674.1,737.3 L1676.1,737.2 L1678.1,737.2 L1680.2,737.1 L1682.2,737.0 L1684.2,736.9 L1686.2,736.8 L1688.2,736.7 L1690.2,736.6 L1692.2,736.5 L1694.2,736.4 L1696.2,736.3 L1698.2,736.2 L1700.2,736.1 L1702.2,736.0 L1704.2,735.9 L1706.2,735.8 L1708.2,735.7 L1710.2,735.6 L1712.2,735.5 L1714.3,735.3 L1716.3,735.2 L1718.3,735.0 L1720.3,734.8 L1722.4,734.6 L1724.4,734.4 L1726.4,734.1 L1728.5,733.9 L1730.5,733.6 L1732.5,733.3 L1734.6,732.9 L1736.6,732.6 L1738.6,732.3 L1740.6,732.0 L1742.1,731.7 L1743.6,731.4 L1745.1,731.2 L1746.6,730.9 L1748.1,730.6 L1749.6,730.3 L1751.1,730.0 L1752.7,729.7 L1754.2,729.4 L1755.7,729.1 L1757.2,728.8 L1758.7,728.5 L1760.2,728.1 L1761.7,727.8 L1763.2,727.5 L1764.7,727.1 L1766.2,726.7 L1767.7,726.4 L1769.2,726.0 L1770.7,725.6 L1772.2,725.2 L1773.7,724.8 L1775.2,724.4 L1776.7,723.9 L1778.2,723.5 L1779.7,723.0 L1781.2,722.6 L1782.6,722.1 L1784.1,721.6 L1785.6,721.0 L1787.0,720.5 L1788.5,719.9 L1789.9,719.3 L1791.4,718.7 L1792.8,718.1 L1794.3,717.4 L1795.8,716.7 L1797.3,716.0 L1798.7,715.2 L1800.2,714.4 L1801.6,713.6 L1803.0,712.7 L1804.4,711.9 L1805.8,710.9 L1807.2,710.0 L1808.5,709.0 L1809.8,708.0 L1811.1,706.9 L1812.4,705.8 L1813.6,704.7 L1814.8,703.6 L1815.9,702.5 L1817.0,701.4 L1818.1,700.3 L1819.2,699.1 L1820.2,697.9 L1821.2,696.7 L1822.2,695.5 L1823.2,694.2 L1824.2,693.0 L1825.1,691.7 L1826.1,690.4 L1827.0,689.1 L1827.9,687.8 L1828.8,686.5 L1829.6,685.2 L1830.5,683.8 L1831.3,682.5 L1832.1,681.1 L1832.9,679.8 L1833.7,678.4 L1834.5,677.1 L1835.2,675.7 L1836.0,674.4 L1836.7,673.0 L1837.4,671.6 L1838.1,670.2 L1838.8,668.8 L1839.5,667.4 L1840.2,666.0 L1840.8,664.6 L1841.5,663.2 L1842.1,661.8 L1842.7,660.4 L1843.3,659.0 L1843.9,657.6 L1844.5,656.2 L1845.1,654.8 L1845.7,653.3 L1846.2,651.9 L1846.8,650.5 L1847.3,649.0 L1847.9,647.6 L1848.4,646.2 L1848.9,644.7 L1849.4,643.3 L1849.9,641.8 L1850.4,640.4 L1850.9,638.9 L1851.4,637.5 L1851.9,636.0 L1852.4,634.6 L1852.8,633.1 L1853.3,631.7 L1853.7,630.2 L1854.2,628.7 L1854.6,627.3 L1855.1,625.8 L1855.5,624.4 L1855.9,622.9 L1856.4,621.4 L1856.8,620.0 L1857.2,618.5 L1857.6,617.0 L1858.0,615.6 L1858.4,614.1 L1858.9,612.6 L1859.3,611.2 L1859.7,609.7 L1860.1,608.2 L1860.5,606.8 L1860.9,605.3 L1861.3,603.8 L1861.7,602.4 L1862.1,600.9 L1862.5,599.4 L1862.8,597.9 L1863.2,596.5 L1863.6,595.0 L1864.0,593.5 L1864.4,592.0 L1864.8,590.6 L1865.1,589.1 L1865.5,587.6 L1865.9,586.1 L1866.3,584.7 L1866.6,583.2 L1867.0,581.7 L1867.4,580.2 L1867.7,578.8 L1868.1,577.3 L1868.4,575.8 L1868.8,574.3 L1869.2,572.8 L1869.5,571.4 L1869.9,569.9 L1870.2,568.4 L1870.6,566.9 L1870.9,565.4 L1871.3,564.0 L1871.6,562.5 L1872.0,561.0 L1872.3,559.5 L1872.6,558.0 L1873.0,556.5 L1873.3,555.1 L1873.7,553.6 L1874.0,552.1 L1874.3,550.6 L1874.7,549.1 L1875.0,547.6 L1875.3,546.1 L1875.7,544.7 L1876.0,543.2 L1876.3,541.7 L1876.6,540.2 L1877.0,538.7 L1877.3,537.2 L1877.6,535.7 L1877.9,534.3 L1878.3,532.8 L1878.6,531.3 L1878.9,529.8 L1879.2,528.3 L1879.5,526.8 L1879.9,525.3 L1880.2,523.8 L1880.5,522.3 L1880.8,520.9 L1881.1,519.4 L1881.4,517.9 L1881.8,516.4 L1882.1,514.9 L1882.4,513.4 L1882.7,511.9 L1883.0,510.4 L1883.3,509.0 L1883.6,507.5 L1883.9,506.0 L1884.2,504.5 L1884.5,503.0 L1884.8,501.5 L1885.2,500.0 L1885.5,498.5 L1885.8,497.0 L1886.1,495.6 L1886.4,494.1 L1886.7,492.6 L1887.0,491.1 L1887.3,489.6 L1887.6,488.1 L1887.9,486.6 L1888.2,485.1 L1888.5,483.6 L1888.8,482.1 L1889.1,480.7 L1889.4,479.2 L1889.7,477.7 L1890.0,476.2 L1890.3,474.7 L1890.6,473.2 L1890.9,471.7 L1891.2,470.2 L1891.5,468.7 L1891.8,467.3 L1892.1,465.8 L1892.4,464.3 L1892.7,462.8 L1893.0,461.3 L1893.3,459.8 L1893.6,458.3 L1893.9,456.8 L1894.2,455.4 L1894.5,453.9 L1894.8,452.4 L1895.1,450.9 L1895.4,449.4 L1895.7,447.9 L1896.1,446.4 L1896.4,444.9 L1896.7,443.4 L1897.0,442.0 L1897.3,440.5 L1897.6,439.0 L1897.9,437.5 L1898.2,436.0 L1898.5,434.5 L1898.8,433.0 L1899.1,431.5 L1899.4,430.1 L1899.7,428.6 L1900.0,427.1 L1900.3,425.6 L1900.6,424.1 L1900.9,422.6 L1901.2,421.1 L1901.5,419.7 L1901.8,418.2 L1902.1,416.7 L1902.4,415.2 L1902.7,413.7 L1903.0,412.2 L1903.4,410.7 L1903.7,409.3 L1904.0,407.8 L1904.3,406.3 L1904.6,404.8 L1904.9,403.3 L1905.2,401.8 L1905.5,400.3 L1905.8,398.9 L1906.2,397.4 L1906.5,395.9 L1906.8,394.4 L1907.1,392.9 L1907.4,391.4 L1907.7,390.0 L1908.0,388.5 L1908.4,387.0 L1908.7,385.5 L1909.0,384.0 L1909.3,382.6 L1909.6,381.1 L1910.0,379.6 L1910.3,378.1 L1910.6,376.6 L1910.9,375.1 L1911.3,373.7 L1911.6,372.2 L1911.9,370.7 L1912.2,369.2 L1912.6,367.7 L1912.9,366.3 L1913.2,364.8 L1913.6,363.3 L1913.9,361.8 L1914.2,360.3 L1914.5,358.9 L1914.9,357.4 L1915.2,355.9 L1915.6,354.4 L1915.9,353.0 L1916.2,351.5 L1916.6,350.0 L1916.9,348.5 L1917.3,347.0 L1917.6,345.6 L1917.9,344.1 L1918.3,342.6 L1918.6,341.1 L1919.0,339.7 L1919.3,338.2 L1919.7,336.7 L1920.0,335.2 L1920.4,333.8 L1920.7,332.3 L1921.1,330.8 L1921.5,329.3 L1921.8,327.9 L1922.2,326.4 L1922.5,324.9 L1922.9,323.5 L1923.3,322.0 L1923.6,320.5 L1924.0,319.0 L1924.3,317.6 L1924.7,316.1 L1925.1,314.6 L1925.5,313.2 L1925.8,311.7 L1926.2,310.2 L1926.6,308.8 L1927.0,307.3 L1927.3,305.8 L1927.7,304.4 L1928.1,302.9 L1928.5,301.4 L1928.9,300.0 L1929.3,298.5 L1929.6,297.0 L1930.0,295.6 L1930.4,294.1 L1930.8,292.6 L1931.2,291.2 L1931.6,289.7 L1932.3,287.2 L1932.4,285.9 L1931.9,284.6 L1931.0,283.5 L1929.8,282.9 L1928.5,282.8 L1927.2,283.3 L1926.1,284.2 L1925.5,285.4 L1924.8,287.9 L1924.4,289.3 L1924.1,290.8 L1923.7,292.3 L1923.3,293.8 L1922.9,295.2 L1922.5,296.7 L1922.1,298.2 L1921.7,299.6 L1921.3,301.1 L1920.9,302.6 L1920.6,304.1 L1920.2,305.5 L1919.8,307.0 L1919.4,308.5 L1919.0,310.0 L1918.7,311.4 L1918.3,312.9 L1917.9,314.4 L1917.6,315.9 L1917.2,317.4 L1916.8,318.8 L1916.5,320.3 L1916.1,321.8 L1915.7,323.3 L1915.4,324.7 L1915.0,326.2 L1914.6,327.7 L1914.3,329.2 L1913.9,330.7 L1913.6,332.1 L1913.2,333.6 L1912.9,335.1 L1912.5,336.6 L1912.2,338.1 L1911.8,339.5 L1911.5,341.0 L1911.1,342.5 L1910.8,344.0 L1910.4,345.5 L1910.1,346.9 L1909.8,348.4 L1909.4,349.9 L1909.1,351.4 L1908.7,352.9 L1908.4,354.4 L1908.1,355.8 L1907.7,357.3 L1907.4,358.8 L1907.1,360.3 L1906.7,361.8 L1906.4,363.3 L1906.1,364.7 L1905.7,366.2 L1905.4,367.7 L1905.1,369.2 L1904.7,370.7 L1904.4,372.2 L1904.1,373.6 L1903.8,375.1 L1903.4,376.6 L1903.1,378.1 L1902.8,379.6 L1902.5,381.1 L1902.2,382.6 L1901.8,384.0 L1901.5,385.5 L1901.2,387.0 L1900.9,388.5 L1900.6,390.0 L1900.2,391.5 L1899.9,393.0 L1899.6,394.4 L1899.3,395.9 L1899.0,397.4 L1898.7,398.9 L1898.4,400.4 L1898.1,401.9 L1897.7,403.4 L1897.4,404.9 L1897.1,406.3 L1896.8,407.8 L1896.5,409.3 L1896.2,410.8 L1895.9,412.3 L1895.6,413.8 L1895.3,415.3 L1895.0,416.8 L1894.7,418.2 L1894.3,419.7 L1894.0,421.2 L1893.7,422.7 L1893.4,424.2 L1893.1,425.7 L1892.8,427.2 L1892.5,428.7 L1892.2,430.1 L1891.9,431.6 L1891.6,433.1 L1891.3,434.6 L1891.0,436.1 L1890.7,437.6 L1890.4,439.1 L1890.1,440.6 L1889.8,442.1 L1889.5,443.5 L1889.2,445.0 L1888.9,446.5 L1888.6,448.0 L1888.3,449.5 L1888.0,451.0 L1887.7,452.5 L1887.4,454.0 L1887.1,455.5 L1886.8,456.9 L1886.5,458.4 L1886.2,459.9 L1885.9,461.4 L1885.6,462.9 L1885.3,464.4 L1885.0,465.9 L1884.7,467.4 L1884.4,468.8 L1884.1,470.3 L1883.8,471.8 L1883.5,473.3 L1883.2,474.8 L1882.9,476.3 L1882.6,477.8 L1882.3,479.3 L1882.0,480.8 L1881.7,482.2 L1881.3,483.7 L1881.0,485.2 L1880.7,486.7 L1880.4,488.2 L1880.1,489.7 L1879.8,491.2 L1879.5,492.7 L1879.2,494.1 L1878.9,495.6 L1878.6,497.1 L1878.3,498.6 L1878.0,500.1 L1877.7,501.6 L1877.4,503.1 L1877.1,504.6 L1876.8,506.0 L1876.5,507.5 L1876.1,509.0 L1875.8,510.5 L1875.5,512.0 L1875.2,513.5 L1874.9,515.0 L1874.6,516.4 L1874.3,517.9 L1874.0,519.4 L1873.6,520.9 L1873.3,522.4 L1873.0,523.9 L1872.7,525.4 L1872.4,526.8 L1872.1,528.3 L1871.7,529.8 L1871.4,531.3 L1871.1,532.8 L1870.8,534.3 L1870.5,535.7 L1870.1,537.2 L1869.8,538.7 L1869.5,540.2 L1869.2,541.7 L1868.8,543.1 L1868.5,544.6 L1868.2,546.1 L1867.8,547.6 L1867.5,549.1 L1867.2,550.5 L1866.8,552.0 L1866.5,553.5 L1866.2,555.0 L1865.8,556.5 L1865.5,557.9 L1865.1,559.4 L1864.8,560.9 L1864.5,562.4 L1864.1,563.8 L1863.8,565.3 L1863.4,566.8 L1863.1,568.3 L1862.7,569.7 L1862.4,571.2 L1862.0,572.7 L1861.6,574.1 L1861.3,575.6 L1860.9,577.1 L1860.6,578.6 L1860.2,580.0 L1859.8,581.5 L1859.5,583.0 L1859.1,584.4 L1858.7,585.9 L1858.4,587.4 L1858.0,588.8 L1857.6,590.3 L1857.2,591.8 L1856.8,593.2 L1856.5,594.7 L1856.1,596.2 L1855.7,597.6 L1855.3,599.1 L1854.9,600.5 L1854.5,602.0 L1854.1,603.5 L1853.7,604.9 L1853.3,606.4 L1852.9,607.8 L1852.5,609.3 L1852.1,610.8 L1851.7,612.2 L1851.3,613.7 L1850.9,615.1 L1850.5,616.6 L1850.1,618.0 L1849.6,619.5 L1849.2,620.9 L1848.8,622.4 L1848.4,623.8 L1847.9,625.2 L1847.5,626.7 L1847.0,628.1 L1846.6,629.6 L1846.1,631.0 L1845.7,632.4 L1845.2,633.9 L1844.8,635.3 L1844.3,636.7 L1843.8,638.1 L1843.3,639.5 L1842.8,640.9 L1842.3,642.4 L1841.8,643.8 L1841.3,645.2 L1840.8,646.6 L1840.3,648.0 L1839.7,649.4 L1839.2,650.7 L1838.6,652.1 L1838.1,653.5 L1837.5,654.9 L1836.9,656.3 L1836.3,657.6 L1835.7,659.0 L1835.1,660.3 L1834.5,661.7 L1833.8,663.0 L1833.2,664.4 L1832.5,665.7 L1831.9,667.1 L1831.2,668.4 L1830.5,669.7 L1829.8,671.0 L1829.1,672.4 L1828.4,673.7 L1827.6,675.0 L1826.9,676.3 L1826.1,677.5 L1825.3,678.8 L1824.5,680.1 L1823.7,681.4 L1822.9,682.6 L1822.1,683.9 L1821.2,685.1 L1820.4,686.3 L1819.5,687.5 L1818.6,688.7 L1817.7,689.9 L1816.8,691.1 L1815.9,692.2 L1814.9,693.3 L1813.9,694.4 L1813.0,695.5 L1812.0,696.5 L1811.0,697.6 L1809.9,698.6 L1808.9,699.6 L1807.8,700.6 L1806.6,701.5 L1805.5,702.5 L1804.3,703.4 L1803.1,704.3 L1801.8,705.2 L1800.6,706.0 L1799.3,706.8 L1798.0,707.6 L1796.7,708.3 L1795.4,709.1 L1794.1,709.8 L1792.7,710.4 L1791.3,711.1 L1789.9,711.7 L1788.6,712.3 L1787.3,712.9 L1785.9,713.4 L1784.5,713.9 L1783.2,714.5 L1781.8,715.0 L1780.4,715.4 L1779.0,715.9 L1777.6,716.4 L1776.1,716.8 L1774.7,717.2 L1773.3,717.6 L1771.8,718.0 L1770.4,718.4 L1768.9,718.8 L1767.5,719.2 L1766.0,719.6 L1764.5,719.9 L1763.1,720.3 L1761.6,720.6 L1760.1,721.0 L1758.7,721.3 L1757.2,721.6 L1755.7,722.0 L1754.2,722.3 L1752.8,722.6 L1751.3,722.9 L1749.8,723.2 L1748.3,723.5 L1746.8,723.7 L1745.4,724.0 L1743.9,724.3 L1742.4,724.5 L1740.9,724.8 L1739.4,725.0 L1737.4,725.4 L1735.4,725.7 L1733.4,726.0 L1731.5,726.4 L1729.5,726.7 L1727.5,726.9 L1725.6,727.2 L1723.6,727.4 L1721.6,727.6 L1719.7,727.8 L1717.7,728.0 L1715.7,728.2 L1713.7,728.3 L1711.8,728.5 L1709.8,728.6 L1707.8,728.7 L1705.8,728.8 L1703.8,728.9 L1701.8,729.0 L1699.8,729.1 L1697.8,729.2 L1695.8,729.3 L1693.8,729.4 L1691.8,729.5 L1689.8,729.6 L1687.8,729.7 L1685.8,729.8 L1683.8,729.9 L1681.8,730.0 L1679.8,730.1 L1677.9,730.2 L1675.9,730.2 L1673.9,730.3 L1671.9,730.4 L1669.9,730.4 L1667.9,730.5 L1665.9,730.6 L1663.9,730.6 L1661.9,730.6 L1659.9,730.7 L1657.9,730.7 L1655.9,730.8 L1653.9,730.8 L1651.9,730.9 L1649.9,730.9 L1647.9,730.9 L1645.9,731.0 L1643.9,731.0 L1641.9,731.0 L1639.9,731.1 L1637.9,731.1 L1635.9,731.1 L1633.9,731.2 L1632.0,731.2 L1630.0,731.2 L1628.0,731.2 L1626.0,731.3 L1624.0,731.3 L1622.0,731.3 L1620.0,731.3 L1618.0,731.4 L1616.0,731.4 L1614.0,731.4 L1612.0,731.4 L1610.0,731.5 L1608.0,731.5 L1606.0,731.5 L1604.0,731.5 L1602.0,731.6 L1600.0,731.6 L1598.0,731.6 L1596.0,731.6 L1594.0,731.6 L1592.0,731.7 L1590.0,731.7 L1588.0,731.7 L1586.0,731.7 L1584.0,731.8 L1582.0,731.8 L1580.0,731.8 L1578.0,731.8 L1576.0,731.8 L1574.0,731.9 L1572.0,731.9 L1570.0,731.9 L1568.0,731.9 L1566.0,731.9 L1564.0,732.0 L1562.0,732.0 L1560.0,732.0 L1550.0,732.1 L1540.0,732.2 L1530.0,732.2 L1520.0,732.3 L1510.0,732.4 L1500.0,732.5 L1490.0,732.5 L1480.0,732.6 L1470.0,732.6 L1460.0,732.7 L1450.0,732.7 L1440.0,732.8 L1430.0,732.8 L1420.0,732.9 L1410.0,732.9 L1400.0,732.9 L1390.0,733.0 L1380.0,733.0 L1370.0,733.0 L1360.0,733.1 L1350.0,733.1 L1340.0,733.2 L1330.0,733.2 L1320.0,733.2 L1310.0,733.3 L1300.0,733.3 L1290.0,733.4 L1280.0,733.4 L1270.0,733.5 L1260.0,733.6 L1250.0,733.6 L1240.0,733.7 L1230.0,733.8 L1220.0,733.9 L1210.0,734.0 L1200.0,734.1 L1190.0,734.2 L1180.0,734.3 L1170.0,734.4 L1160.0,734.5 L1150.0,734.5 L1140.0,734.6 L1130.0,734.7 L1120.0,734.7 L1110.0,734.8 L1100.0,734.9 L1090.0,734.9 L1080.0,735.0 L1070.0,735.1 L1060.0,735.1 L1050.0,735.2 L1040.0,735.2 L1030.0,735.3 L1020.0,735.4 L1010.0,735.4 L1000.0,735.5 L990.0,735.6 L980.0,735.7 L970.0,735.8 L960.0,735.8 L950.0,735.9 L940.0,736.0 L930.0,736.1 L920.0,736.2 L910.0,736.3 L900.0,736.4 L890.0,736.4 L880.0,736.5 L870.0,736.6 L860.0,736.6 L850.0,736.7 L840.0,736.7 L830.0,736.7 L820.0,736.8 L810.0,736.8 L800.0,736.8 L790.0,736.8 L780.0,736.9 L770.0,736.9 L760.0,736.9 L758.0,736.9 L756.0,736.9 L754.0,736.9 L752.0,736.9 L750.0,737.0 L748.0,737.0 L746.0,737.0 L744.0,737.0 L742.0,737.0 L740.0,737.0 L738.0,737.0 L736.0,737.0 L734.0,737.0 L732.0,737.0 L730.0,737.0 L728.0,737.0 L726.0,737.0 L724.0,737.1 L722.0,737.1 L720.0,737.1 L718.0,737.1 L716.0,737.1 L714.0,737.1 L712.0,737.1 L710.0,737.1 L708.0,737.1 L706.0,737.1 L704.0,737.1 L702.0,737.2 L700.0,737.2 L698.0,737.2 L696.0,737.2 L694.0,737.2 L692.0,737.2 L690.0,737.2 L688.0,737.2 L686.0,737.3 L684.0,737.3 L682.0,737.3 L680.0,737.3 L678.0,737.3 L676.0,737.3 L674.0,737.3 L672.0,737.4 L670.0,737.4 L668.0,737.4 L666.0,737.4 L664.0,737.4 L662.0,737.5 L660.0,737.5 L658.0,737.5 L656.0,737.5 L653.9,737.5 L651.9,737.6 L649.9,737.6 L647.9,737.7 L645.9,737.7 L643.9,737.8 L641.9,737.9 L639.9,738.0 L637.9,738.0 L635.9,738.1 L633.8,738.2 L631.8,738.3 L629.8,738.4 L627.8,738.5 L625.8,738.6 L623.8,738.7 L621.8,738.8 L619.8,738.9 L617.9,739.0 L615.9,739.0 L613.9,739.1 L611.9,739.2 L609.9,739.2 L607.9,739.3 L605.9,739.3 L603.9,739.4 L601.9,739.5 L599.9,739.5 L597.9,739.6 L595.9,739.6 L593.9,739.6 L591.9,739.7 L589.0,739.8 L587.4,739.8 L585.8,739.9 L584.2,739.9 L582.6,740.0 L581.1,740.0 L579.5,740.1 L577.9,740.1 L576.3,740.2 L574.7,740.3 L573.1,740.3 L571.5,740.4 L570.0,740.5 L568.4,740.6 L566.8,740.7 L565.2,740.8 L563.6,740.9 L562.0,741.0 L560.4,741.1 L558.8,741.2 L557.2,741.4 L555.6,741.5 L554.1,741.7 L552.5,741.8 L550.9,742.0 L549.3,742.1 L547.7,742.3 L546.1,742.5 L544.5,742.7 L542.9,742.9 L541.3,743.1 L539.7,743.3 L538.1,743.6 L536.6,743.8 L535.0,744.1 L533.4,744.3 L531.8,744.6 L530.2,744.9 L528.6,745.2 L527.0,745.5 L525.4,745.8 L523.9,746.1 L522.3,746.5 L520.7,746.8 L519.1,747.2 L517.6,747.6 L516.0,748.0 L514.4,748.4 L512.9,748.8 L511.3,749.3 L509.8,749.7 L508.2,750.2 L506.7,750.7 L505.2,751.2 L503.7,751.7 L502.2,752.3 L500.7,752.8 L499.2,753.4 L497.7,754.0 L496.2,754.6 L494.7,755.3 L493.3,755.9 L491.8,756.6 L490.4,757.3 L489.0,758.0 L487.6,758.7 L486.2,759.4 L484.8,760.2 L483.4,761.0 L482.0,761.8 L480.7,762.6 L479.4,763.5 L478.0,764.4 L476.7,765.3 L475.4,766.2 L474.2,767.1 L472.9,768.1 L471.7,769.0 L470.5,770.0 L469.2,771.0 L468.1,772.1 L466.9,773.1 L465.7,774.2 L464.6,775.3 L463.4,776.4 L462.3,777.5 L461.2,778.6 L460.2,779.8 L459.1,780.9 L458.1,782.1 L457.0,783.3 L456.0,784.6 L455.1,785.8 L454.1,787.0 L453.1,788.3 L452.2,789.6 L451.3,790.9 L450.4,792.2 L449.5,793.5 L448.7,794.9 L447.8,796.2 L447.0,797.6 L446.2,799.0 L445.4,800.4 L444.6,801.8 L443.9,803.2 L443.1,804.6 L442.4,806.0 L441.7,807.5 L441.0,808.9 L440.3,810.4 L439.6,811.8 L438.9,813.3 L438.3,814.8 L437.6,816.2 L437.0,817.7 L436.4,819.2 L435.8,820.7 L435.2,822.2 L434.6,823.7 L434.0,825.3 L433.4,826.8 L432.9,828.3 L432.3,829.8 L431.8,831.4 L431.2,832.9 L430.7,834.4 L430.2,836.0 L429.7,837.5 L429.2,839.0 L428.7,840.6 L428.2,842.1 L427.7,843.6 L427.2,845.2 L426.7,846.7 L426.2,848.2 L425.8,849.8 L425.3,851.3 L424.8,852.8 L424.4,854.4 L423.9,855.9 L423.5,857.4 L423.0,859.0 L422.6,860.5 L422.1,862.0 L421.7,863.6 L421.3,865.1 L420.8,866.6 L420.4,868.1 L420.0,869.7 L419.6,871.2 L419.2,872.7 L418.8,874.3 L418.3,875.8 L417.9,877.3 L417.5,878.8 L417.1,880.4 L416.7,881.9 L416.4,883.4 L416.0,885.0 L415.6,886.5 L415.2,888.0 L414.8,889.5 L414.4,891.1 L414.1,892.6 L413.7,894.1 L413.3,895.6 L412.9,897.2 L412.6,898.7 L412.2,900.2 L411.8,901.7 L411.5,903.3 L411.1,904.8 L410.8,906.3 L410.4,907.8 L410.1,909.4 L409.7,910.9 L409.4,912.4 L409.0,913.9 L408.7,915.5 L408.3,917.0 L408.0,918.5 L407.6,920.0 L407.3,921.6 L407.0,923.1 L406.6,924.6 L406.3,926.1 L405.9,927.7 L405.6,929.2 L405.3,930.7 L404.9,932.2 L404.6,933.8 L404.3,935.3 L404.0,936.8 L403.6,938.3 L403.3,939.8 L403.0,941.4 L402.6,942.9 L402.3,944.4 L402.0,945.9 L401.6,947.5 L401.3,949.0 L401.0,950.5 L400.7,952.0 L400.3,953.6 L400.0,955.1 L399.7,956.6 L399.3,958.1 L399.0,959.7 L398.7,961.2 L398.4,962.7 L398.0,964.2 L397.7,965.8 L397.4,967.3 L397.0,968.8 L396.7,970.3 L396.4,971.9 L396.0,973.4 L395.7,974.9 L395.4,976.4 L395.0,978.0 L394.7,979.5 L394.4,981.0 L394.0,982.5 L393.7,984.1 L393.4,985.6 L393.0,987.1 L392.7,988.6 L392.4,990.2 L392.1,991.7 L391.7,993.2 L391.4,994.8 L391.1,996.3 L390.7,997.8 L390.4,999.3 L390.0,1000.9 L389.7,1002.4 L389.4,1003.9 L389.0,1005.5 L388.7,1007.0 L388.4,1008.5 L388.0,1010.1 L387.7,1011.6 L387.4,1013.1 L387.0,1014.6 L386.7,1016.2 L386.4,1017.7 L386.0,1019.2 L385.7,1020.8 L385.4,1022.3 L385.0,1023.8 L384.7,1025.4 L384.4,1026.9 L384.0,1028.4 L383.7,1029.9 L383.4,1031.5 L383.0,1033.0 L382.7,1034.5 L382.4,1036.1 L382.0,1037.6 L381.7,1039.1 L381.4,1040.7 L381.0,1042.2 L380.7,1043.7 L380.4,1045.3 L380.0,1046.8 L379.7,1048.3 L379.4,1049.9 L379.0,1051.4 L378.7,1052.9 L378.4,1054.5 L378.0,1056.0 L377.7,1057.5 L377.4,1059.1 L377.0,1060.6 L376.7,1062.1 L376.4,1063.7 L376.0,1065.2 L375.7,1066.7 L375.4,1068.3 L375.0,1069.8 L374.7,1071.3 L374.4,1072.9 L374.0,1074.4 L373.7,1075.9 L373.4,1077.5 L373.1,1079.0 L372.7,1080.5 L372.4,1082.1 L372.1,1083.6 L371.7,1085.1 L371.4,1086.7 L371.1,1088.2 L370.8,1089.7 L370.4,1091.3 L370.1,1092.8 L369.8,1094.3 L369.4,1095.9 L369.1,1097.4 L368.8,1098.9 L368.5,1100.5 L368.1,1102.0 L367.8,1103.5 L367.5,1105.1 L367.2,1106.6 L366.8,1108.1 L366.5,1109.7 L366.2,1111.2 L365.9,1112.7 L365.5,1114.3 L365.2,1115.8 L364.9,1117.3 L364.6,1118.9 L364.2,1120.4 L363.9,1121.9 L363.6,1123.5 L363.3,1125.0 L363.0,1126.5 L362.6,1128.1 L362.3,1129.6 L362.0,1131.1 L361.7,1132.7 L361.4,1134.2 L361.0,1135.8 L360.7,1137.3 L360.4,1138.8 L360.1,1140.4 L359.8,1141.9 L359.5,1143.4 L359.1,1145.0 L358.8,1146.5 L358.5,1148.0 L358.2,1149.6 L357.9,1151.1 L357.6,1152.6 L357.3,1154.2 L357.0,1155.7 L356.6,1157.2 L356.3,1158.8 L356.0,1160.3 L355.7,1161.8 L355.4,1163.4 L355.1,1164.9 L354.8,1166.4 L354.5,1167.9 L354.2,1169.5 L353.9,1171.0 L353.9,1172.4 L354.4,1173.6 L355.4,1174.6 L356.6,1175.1 L358.0,1175.1 L359.2,1174.6 L360.2,1173.6Z"/>
<path fill="#008000" d="M360.7,1114.3 L361.0,1112.8 L361.3,1111.2 L361.6,1109.6 L361.9,1108.1 L362.2,1106.5 L362.5,1104.9 L362.8,1103.4 L363.1,1101.8 L363.4,1100.2 L363.7,1098.7 L364.0,1097.1 L364.3,1095.5 L364.6,1094.0 L364.9,1092.4 L365.2,1090.9 L365.5,1089.3 L365.8,1087.7 L366.1,1086.2 L366.4,1084.6 L366.7,1083.0 L367.0,1081.5 L367.3,1079.9 L367.6,1078.3 L368.0,1076.8 L368.3,1075.2 L368.6,1073.7 L368.9,1072.1 L369.2,1070.5 L369.5,1069.0 L369.8,1067.4 L370.1,1065.8 L370.4,1064.3 L370.7,1062.7 L371.0,1061.2 L371.4,1059.6 L371.7,1058.0 L372.0,1056.5 L372.3,1054.9 L372.6,1053.4 L372.9,1051.8 L373.2,1050.2 L373.6,1048.7 L373.9,1047.1 L374.2,1045.6 L374.5,1044.0 L374.8,1042.4 L375.1,1040.9 L375.5,1039.3 L375.8,1037.8 L376.1,1036.2 L376.4,1034.6 L376.7,1033.1 L377.0,1031.5 L377.4,1030.0 L377.7,1028.4 L378.0,1026.9 L378.3,1025.3 L378.6,1023.7 L379.0,1022.2 L379.3,1020.6 L379.6,1019.1 L379.9,1017.5 L380.2,1015.9 L380.6,1014.4 L380.9,1012.8 L381.2,1011.3 L381.5,1009.7 L381.9,1008.2 L382.2,1006.6 L382.5,1005.0 L382.8,1003.5 L383.1,1001.9 L383.5,1000.4 L383.8,998.8 L384.1,997.3 L384.4,995.7 L384.8,994.1 L385.1,992.6 L385.4,991.0 L385.7,989.5 L386.1,987.9 L386.4,986.3 L386.7,984.8 L387.0,983.2 L387.3,981.7 L387.7,980.1 L388.0,978.6 L388.3,977.0 L388.6,975.4 L389.0,973.9 L389.3,972.3 L389.6,970.8 L389.9,969.2 L390.3,967.6 L390.6,966.1 L390.9,964.5 L391.2,963.0 L391.6,961.4 L391.9,959.9 L392.2,958.3 L392.5,956.7 L392.9,955.2 L393.2,953.6 L393.5,952.1 L393.8,950.5 L394.1,948.9 L394.5,947.4 L394.8,945.8 L395.1,944.3 L395.4,942.7 L395.8,941.1 L396.1,939.6 L396.4,938.0 L396.7,936.5 L397.0,934.9 L397.4,933.3 L397.7,931.8 L398.0,930.2 L398.3,928.7 L398.7,927.1 L399.0,925.5 L399.3,924.0 L399.6,922.4 L399.9,920.8 L400.3,919.3 L400.6,917.7 L400.9,916.2 L401.2,914.6 L401.5,913.0 L401.9,911.5 L402.2,909.9 L402.5,908.3 L402.8,906.8 L403.1,905.2 L403.5,903.7 L403.8,902.1 L404.1,900.6 L404.4,899.0 L404.8,897.4 L405.1,895.9 L405.4,894.3 L405.7,892.8 L406.1,891.2 L406.4,889.7 L406.8,888.1 L407.1,886.6 L407.5,885.0 L407.8,883.5 L408.2,881.9 L408.5,880.4 L408.9,878.8 L409.3,877.3 L409.6,875.8 L410.0,874.2 L410.4,872.7 L410.8,871.1 L411.2,869.6 L411.6,868.1 L412.0,866.5 L412.4,865.0 L412.8,863.5 L413.2,862.0 L413.6,860.4 L414.0,858.9 L414.5,857.4 L414.9,855.9 L415.4,854.3 L415.8,852.8 L416.3,851.3 L416.8,849.8 L417.2,848.4 L417.7,847.0 L418.1,845.6 L418.6,844.2 L419.1,842.8 L419.6,841.4 L420.1,839.9 L420.6,838.5 L421.1,837.2 L421.6,835.8 L422.1,834.4 L422.6,833.0 L423.2,831.6 L423.7,830.2 L424.3,828.8 L424.9,827.4 L425.4,826.1 L426.0,824.7 L426.6,823.3 L427.2,821.9 L427.8,820.6 L428.5,819.2 L429.1,817.9 L429.7,816.5 L430.4,815.2 L431.0,813.8 L431.7,812.5 L432.4,811.2 L433.1,809.8 L433.8,808.5 L434.5,807.2 L435.2,805.9 L435.9,804.6 L436.7,803.4 L437.4,802.1 L438.2,800.8 L439.0,799.6 L439.8,798.3 L440.6,797.1 L441.4,795.8 L442.3,794.5 L443.2,793.2 L444.1,792.0 L445.0,790.7 L445.9,789.5 L446.8,788.3 L447.8,787.1 L448.8,785.9 L449.7,784.7 L450.7,783.6 L451.7,782.4 L452.7,781.3 L453.8,780.2 L454.8,779.1 L455.9,778.1 L456.9,777.0 L458.0,776.0 L459.1,775.0 L460.2,774.0 L461.4,773.1 L462.5,772.1 L463.7,771.2 L464.8,770.3 L466.0,769.4 L467.2,768.6 L468.5,767.7 L469.7,766.9 L470.9,766.1 L472.2,765.4 L473.5,764.7 L474.8,763.9 L476.1,763.2 L477.4,762.6 L478.8,761.9 L480.1,761.3 L481.5,760.7 L482.9,760.1 L484.3,759.5 L485.7,759.0 L487.1,758.5 L488.6,758.0 L490.0,757.5 L491.5,757.0 L493.0,756.5 L494.5,756.1 L496.0,755.7 L497.4,755.3 L498.8,754.9 L500.2,754.6 L501.7,754.2 L503.1,753.9 L504.5,753.6 L506.0,753.3 L507.5,753.0 L508.9,752.7 L510.4,752.5 L511.9,752.2 L513.3,752.0 L514.8,751.8 L516.3,751.5 L517.8,751.3 L519.2,751.1 L520.7,750.9 L522.2,750.7 L523.7,750.6 L525.2,750.4 L526.7,750.2 L528.1,750.1 L529.6,750.0 L531.1,749.8 L532.6,749.7 L534.1,749.6 L535.6,749.4 L537.1,749.3 L538.6,749.2 L540.1,749.1 L541.6,749.0 L543.0,748.9 L544.5,748.9 L546.0,748.8 L547.5,748.7 L549.0,748.6 L550.5,748.5 L552.0,748.5 L553.5,748.4 L555.0,748.3 L556.5,748.3 L558.0,748.2 L559.5,748.2 L561.1,748.1 L562.7,748.0 L564.3,748.0 L565.9,747.9 L567.5,747.8 L569.1,747.8 L570.7,747.7 L572.3,747.6 L573.9,747.6 L575.5,747.5 L577.1,747.4 L578.6,747.4 L580.2,747.3 L581.8,747.2 L583.4,747.2 L585.0,747.1 L586.6,747.0 L588.2,747.0 L589.8,746.9 L592.2,746.8 L594.2,746.7 L596.2,746.6 L598.2,746.5 L600.2,746.4 L602.2,746.2 L604.2,746.1 L606.2,746.0 L608.2,746.0 L610.2,745.9 L612.1,745.8 L614.1,745.7 L616.1,745.6 L618.1,745.5 L620.1,745.5 L622.1,745.4 L624.1,745.3 L626.1,745.3 L628.1,745.2 L630.2,745.1 L632.2,745.0 L634.2,744.9 L636.2,744.8 L638.1,744.7 L640.1,744.6 L642.1,744.6 L644.1,744.5 L646.0,744.5 L648.0,744.5 L650.0,744.5 L652.0,744.4 L654.0,744.4 L656.0,744.4 L658.0,744.4 L660.0,744.4 L662.0,744.4 L664.0,744.3 L666.0,744.3 L668.0,744.3 L670.0,744.3 L672.0,744.3 L674.0,744.3 L676.0,744.3 L678.0,744.2 L680.0,744.2 L682.0,744.2 L684.0,744.2 L686.0,744.2 L688.0,744.2 L690.0,744.2 L692.0,744.2 L694.0,744.1 L696.0,744.1 L698.0,744.1 L700.0,744.1 L702.0,744.1 L704.0,744.1 L706.0,744.1 L708.0,744.1 L710.0,744.1 L712.0,744.1 L714.0,744.0 L716.0,744.0 L718.0,744.0 L720.0,744.0 L722.0,744.0 L724.0,744.0 L726.0,744.0 L728.0,744.0 L730.0,744.0 L732.0,744.0 L734.0,744.0 L736.0,744.0 L738.0,744.0 L740.0,744.0 L742.0,744.0 L744.0,743.9 L746.0,743.9 L748.0,743.9 L750.0,743.9 L752.0,743.9 L754.0,743.9 L756.0,743.9 L758.0,743.9 L760.0,743.9 L770.0,743.9 L780.0,743.9 L790.0,743.8 L800.0,743.8 L810.0,743.8 L820.0,743.8 L830.0,743.7 L840.0,743.7 L850.0,743.7 L860.0,743.6 L870.0,743.6 L880.0,743.5 L890.0,743.5 L900.0,743.4 L910.0,743.3 L920.0,743.2 L930.0,743.2 L940.0,743.1 L950.0,743.0 L960.0,742.9 L970.0,742.8 L980.0,742.7 L990.0,742.6 L1000.0,742.5 L1010.0,742.4 L1020.0,742.4 L1030.0,742.3 L1040.0,742.2 L1050.0,742.2 L1060.0,742.1 L1070.0,742.1 L1080.0,742.0 L1090.0,742.0 L1100.0,741.9 L1110.0,741.9 L1120.0,741.8 L1130.0,741.8 L1140.0,741.7 L1150.0,741.6 L1160.0,741.6 L1170.0,741.5 L1180.0,741.4 L1190.0,741.4 L1200.0,741.3 L1210.0,741.2 L1220.0,741.1 L1230.0,741.0 L1240.0,740.9 L1250.0,740.8 L1260.0,740.7 L1270.0,740.6 L1280.0,740.5 L1290.0,740.5 L1300.0,740.4 L1310.0,740.4 L1320.0,740.3 L1330.0,740.3 L1340.0,740.2 L1350.0,740.2 L1360.0,740.2 L1370.0,740.1 L1380.0,740.1 L1390.0,740.0 L1400.0,740.0 L1410.0,740.0 L1420.0,739.9 L1430.0,739.9 L1440.0,739.9 L1450.0,739.8 L1460.0,739.8 L1470.0,739.8 L1480.0,739.7 L1490.0,739.7 L1500.0,739.6 L1510.0,739.6 L1520.0,739.5 L1530.0,739.4 L1540.0,739.4 L1550.0,739.3 L1560.0,739.2 L1562.0,739.2 L1564.0,739.2 L1566.0,739.2 L1568.0,739.1 L1570.0,739.1 L1572.0,739.1 L1574.0,739.1 L1576.0,739.1 L1578.0,739.1 L1580.0,739.0 L1582.0,739.0 L1584.0,739.0 L1586.0,739.0 L1588.0,739.0 L1590.0,738.9 L1592.0,738.9 L1594.0,738.9 L1596.0,738.9 L1598.0,738.9 L1600.0,738.8 L1602.0,738.8 L1604.0,738.8 L1606.0,738.8 L1608.0,738.7 L1610.0,738.7 L1612.0,738.7 L1614.0,738.7 L1616.0,738.6 L1618.0,738.6 L1620.0,738.6 L1622.0,738.6 L1624.0,738.6 L1626.0,738.5 L1628.0,738.5 L1630.0,738.5 L1632.0,738.5 L1634.0,738.4 L1636.0,738.4 L1638.0,738.4 L1640.1,738.3 L1642.1,738.3 L1644.1,738.3 L1646.1,738.3 L1648.1,738.2 L1650.1,738.2 L1652.1,738.2 L1654.1,738.1 L1656.1,738.1 L1658.1,738.1 L1660.1,738.0 L1662.1,738.0 L1664.1,737.9 L1666.1,737.9 L1668.1,737.9 L1670.1,737.8 L1672.1,737.8 L1674.1,737.7 L1676.1,737.7 L1678.1,737.6 L1680.1,737.6 L1682.1,737.6 L1684.1,737.5 L1686.1,737.5 L1688.1,737.4 L1690.1,737.3 L1692.1,737.3 L1694.1,737.2 L1696.1,737.2 L1698.1,737.1 L1700.1,737.0 L1702.1,737.0 L1704.1,736.9 L1706.1,736.9 L1708.1,736.8 L1710.1,736.8 L1712.1,736.7 L1714.1,736.6 L1716.2,736.6 L1718.2,736.5 L1720.2,736.4 L1722.2,736.3 L1724.2,736.1 L1726.2,736.0 L1728.3,735.9 L1730.3,735.7 L1732.3,735.5 L1734.3,735.4 L1736.3,735.2 L1738.4,735.0 L1740.4,734.7 L1741.9,734.6 L1743.5,734.4 L1745.0,734.2 L1746.6,734.0 L1748.1,733.8 L1749.7,733.6 L1751.2,733.4 L1752.8,733.2 L1754.3,732.9 L1755.9,732.7 L1757.4,732.5 L1759.0,732.2 L1760.5,732.0 L1762.1,731.7 L1763.6,731.4 L1765.2,731.2 L1766.7,730.9 L1768.3,730.6 L1769.8,730.3 L1771.4,730.0 L1772.9,729.7 L1774.5,729.4 L1776.0,729.1 L1777.5,728.8 L1779.1,728.5 L1780.6,728.1 L1782.2,727.8 L1783.7,727.4 L1785.3,727.1 L1786.8,726.7 L1788.3,726.3 L1789.9,725.9 L1791.4,725.5 L1793.0,725.1 L1794.5,724.6 L1796.0,724.2 L1797.5,723.7 L1799.1,723.2 L1800.6,722.7 L1802.1,722.1 L1803.6,721.6 L1805.1,721.0 L1806.6,720.4 L1808.1,719.7 L1809.5,719.1 L1811.0,718.4 L1812.5,717.6 L1813.9,716.9 L1815.3,716.1 L1816.7,715.3 L1818.1,714.4 L1819.5,713.6 L1820.9,712.6 L1822.3,711.7 L1823.6,710.7 L1824.9,709.7 L1826.2,708.6 L1827.4,707.6 L1828.7,706.5 L1829.9,705.3 L1831.1,704.1 L1832.2,702.9 L1833.3,701.7 L1834.4,700.4 L1835.4,699.1 L1836.4,697.8 L1837.4,696.5 L1838.4,695.2 L1839.3,693.9 L1840.2,692.6 L1841.1,691.2 L1842.0,689.9 L1842.8,688.6 L1843.7,687.2 L1844.5,685.9 L1845.3,684.5 L1846.2,683.2 L1847.0,681.8 L1847.8,680.4 L1848.5,679.1 L1849.3,677.7 L1850.1,676.3 L1850.8,674.9 L1851.6,673.6 L1852.3,672.2 L1853.0,670.8 L1853.8,669.4 L1854.5,668.0 L1855.2,666.6 L1855.8,665.2 L1856.5,663.8 L1857.2,662.3 L1857.8,660.9 L1858.5,659.5 L1859.1,658.1 L1859.8,656.6 L1860.4,655.2 L1861.0,653.8 L1861.6,652.3 L1862.2,650.9 L1862.8,649.4 L1863.4,648.0 L1863.9,646.5 L1864.5,645.1 L1865.0,643.6 L1865.6,642.2 L1866.1,640.7 L1866.7,639.2 L1867.2,637.8 L1867.7,636.3 L1868.2,634.8 L1868.7,633.3 L1869.2,631.8 L1869.7,630.4 L1870.2,628.9 L1870.7,627.4 L1871.1,625.9 L1871.6,624.4 L1872.1,622.9 L1872.5,621.4 L1873.0,619.9 L1873.4,618.4 L1873.8,616.9 L1874.3,615.4 L1874.7,613.9 L1875.1,612.4 L1875.5,610.9 L1875.9,609.4 L1876.3,607.8 L1876.7,606.3 L1877.1,604.8 L1877.5,603.3 L1877.9,601.8 L1878.3,600.2 L1878.6,598.7 L1879.0,597.2 L1879.4,595.7 L1879.7,594.1 L1880.1,592.6 L1880.4,591.1 L1880.8,589.5 L1881.1,588.0 L1881.5,586.5 L1881.8,584.9 L1882.2,583.4 L1882.5,581.9 L1882.8,580.3 L1883.1,578.8 L1883.5,577.3 L1883.8,575.7 L1884.1,574.2 L1884.4,572.6 L1884.7,571.1 L1885.0,569.6 L1885.4,568.0 L1885.7,566.5 L1886.0,564.9 L1886.3,563.4 L1886.6,561.8 L1886.9,560.3 L1887.2,558.8 L1887.5,557.2 L1887.8,555.7 L1888.0,554.1 L1888.3,552.6 L1888.6,551.0 L1888.9,549.5 L1889.2,547.9 L1889.5,546.4 L1889.8,544.9 L1890.1,543.3 L1890.4,541.8 L1890.6,540.2 L1890.9,538.7 L1891.2,537.1 L1891.5,535.6 L1891.8,534.1 L1892.1,532.5 L1892.4,531.0 L1892.7,529.5 L1893.0,527.9 L1893.2,526.4 L1893.5,524.9 L1893.8,523.3 L1894.1,521.8 L1894.4,520.3 L1894.7,518.7 L1895.0,517.2 L1895.3,515.7 L1895.6,514.1 L1895.9,512.6 L1896.2,511.1 L1896.5,509.6 L1896.8,508.1 L1897.1,506.5 L1897.5,505.0 L1897.8,503.5 L1898.1,502.0 L1898.4,500.5 L1898.7,499.0 L1899.0,497.4 L1899.4,495.9 L1899.7,494.4 L1900.0,492.9 L1900.4,491.4 L1900.7,489.9 L1901.0,488.4 L1901.4,486.9 L1901.7,485.4 L1902.0,483.9 L1902.4,482.4 L1902.7,480.9 L1903.0,479.3 L1903.4,477.8 L1903.7,476.3 L1904.1,474.8 L1904.4,473.3 L1904.8,471.8 L1905.1,470.3 L1905.4,468.8 L1905.8,467.3 L1906.1,465.8 L1906.5,464.3 L1906.8,462.8 L1907.2,461.3 L1907.5,459.8 L1907.8,458.3 L1908.2,456.8 L1908.5,455.3 L1908.9,453.7 L1909.2,452.2 L1909.5,450.7 L1909.9,449.2 L1910.2,447.7 L1910.6,446.2 L1910.9,444.7 L1911.2,443.2 L1911.6,441.6 L1911.9,440.1 L1912.2,438.6 L1912.5,437.1 L1912.9,435.6 L1913.2,434.1 L1913.5,432.5 L1913.8,431.0 L1914.1,429.5 L1914.5,428.0 L1914.8,426.4 L1915.1,424.9 L1915.4,423.4 L1915.7,421.8 L1916.0,420.3 L1916.3,418.8 L1916.6,417.2 L1916.9,415.7 L1917.2,414.1 L1917.5,412.6 L1917.8,411.1 L1918.0,409.5 L1918.3,408.0 L1918.6,406.4 L1918.9,404.9 L1919.1,403.3 L1919.4,401.8 L1919.7,400.3 L1920.0,398.7 L1920.2,397.2 L1920.5,395.6 L1920.8,394.1 L1921.1,392.5 L1921.3,391.0 L1921.6,389.5 L1921.9,387.9 L1922.2,386.4 L1922.5,384.8 L1922.8,383.3 L1923.0,381.8 L1923.3,380.2 L1923.6,378.7 L1923.9,377.2 L1924.2,375.6 L1924.5,374.1 L1924.8,372.6 L1925.1,371.1 L1925.4,369.5 L1925.8,368.0 L1926.1,366.5 L1926.4,365.0 L1926.7,363.5 L1927.1,362.0 L1927.4,360.5 L1927.8,359.0 L1928.1,357.5 L1928.5,356.0 L1928.9,354.5 L1929.2,353.0 L1929.6,351.5 L1930.0,350.0 L1930.4,348.6 L1930.8,347.1 L1931.2,345.6 L1931.7,344.2 L1932.3,342.2 L1932.4,340.8 L1932.0,339.5 L1931.1,338.5 L1929.9,337.8 L1928.5,337.7 L1927.2,338.1 L1926.2,339.0 L1925.5,340.2 L1925.0,342.2 L1924.5,343.7 L1924.1,345.2 L1923.7,346.7 L1923.3,348.2 L1922.9,349.7 L1922.5,351.3 L1922.1,352.8 L1921.7,354.3 L1921.3,355.8 L1921.0,357.4 L1920.6,358.9 L1920.3,360.4 L1919.9,362.0 L1919.6,363.5 L1919.2,365.0 L1918.9,366.6 L1918.6,368.1 L1918.3,369.7 L1918.0,371.2 L1917.6,372.7 L1917.3,374.3 L1917.0,375.8 L1916.7,377.4 L1916.4,378.9 L1916.2,380.5 L1915.9,382.0 L1915.6,383.6 L1915.3,385.1 L1915.0,386.7 L1914.7,388.2 L1914.5,389.8 L1914.2,391.3 L1913.9,392.9 L1913.6,394.4 L1913.4,395.9 L1913.1,397.5 L1912.8,399.0 L1912.5,400.6 L1912.3,402.1 L1912.0,403.7 L1911.7,405.2 L1911.4,406.7 L1911.1,408.3 L1910.9,409.8 L1910.6,411.3 L1910.3,412.9 L1910.0,414.4 L1909.7,415.9 L1909.4,417.4 L1909.1,419.0 L1908.8,420.5 L1908.5,422.0 L1908.2,423.5 L1907.9,425.0 L1907.6,426.5 L1907.3,428.1 L1907.0,429.6 L1906.7,431.1 L1906.3,432.6 L1906.0,434.1 L1905.7,435.6 L1905.4,437.1 L1905.0,438.6 L1904.7,440.2 L1904.4,441.7 L1904.1,443.2 L1903.7,444.7 L1903.4,446.2 L1903.1,447.7 L1902.7,449.2 L1902.4,450.7 L1902.0,452.2 L1901.7,453.7 L1901.4,455.2 L1901.0,456.7 L1900.7,458.2 L1900.3,459.7 L1900.0,461.2 L1899.6,462.7 L1899.3,464.2 L1899.0,465.7 L1898.6,467.3 L1898.3,468.8 L1897.9,470.3 L1897.6,471.8 L1897.2,473.3 L1896.9,474.8 L1896.6,476.3 L1896.2,477.8 L1895.9,479.3 L1895.5,480.8 L1895.2,482.3 L1894.9,483.8 L1894.5,485.4 L1894.2,486.9 L1893.9,488.4 L1893.5,489.9 L1893.2,491.4 L1892.9,492.9 L1892.5,494.5 L1892.2,496.0 L1891.9,497.5 L1891.6,499.0 L1891.2,500.5 L1890.9,502.1 L1890.6,503.6 L1890.3,505.1 L1890.0,506.7 L1889.7,508.2 L1889.4,509.7 L1889.0,511.3 L1888.7,512.8 L1888.4,514.3 L1888.1,515.9 L1887.8,517.4 L1887.5,518.9 L1887.2,520.5 L1887.0,522.0 L1886.7,523.5 L1886.4,525.1 L1886.1,526.6 L1885.8,528.2 L1885.5,529.7 L1885.2,531.2 L1884.9,532.8 L1884.6,534.3 L1884.3,535.9 L1884.1,537.4 L1883.8,538.9 L1883.5,540.5 L1883.2,542.0 L1882.9,543.6 L1882.6,545.1 L1882.3,546.7 L1882.0,548.2 L1881.7,549.7 L1881.5,551.3 L1881.2,552.8 L1880.9,554.4 L1880.6,555.9 L1880.3,557.4 L1880.0,559.0 L1879.7,560.5 L1879.4,562.0 L1879.1,563.6 L1878.8,565.1 L1878.5,566.6 L1878.2,568.2 L1877.9,569.7 L1877.6,571.2 L1877.2,572.8 L1876.9,574.3 L1876.6,575.8 L1876.3,577.4 L1876.0,578.9 L1875.6,580.4 L1875.3,581.9 L1875.0,583.4 L1874.6,585.0 L1874.3,586.5 L1874.0,588.0 L1873.6,589.5 L1873.3,591.0 L1872.9,592.5 L1872.6,594.0 L1872.2,595.6 L1871.8,597.1 L1871.5,598.6 L1871.1,600.1 L1870.7,601.6 L1870.3,603.1 L1870.0,604.6 L1869.6,606.1 L1869.2,607.6 L1868.8,609.0 L1868.4,610.5 L1867.9,612.0 L1867.5,613.5 L1867.1,615.0 L1866.7,616.5 L1866.3,617.9 L1865.8,619.4 L1865.4,620.9 L1864.9,622.3 L1864.5,623.8 L1864.0,625.3 L1863.5,626.7 L1863.1,628.2 L1862.6,629.6 L1862.1,631.1 L1861.6,632.5 L1861.1,634.0 L1860.6,635.4 L1860.1,636.8 L1859.6,638.3 L1859.0,639.7 L1858.5,641.1 L1858.0,642.6 L1857.4,644.0 L1856.8,645.4 L1856.3,646.8 L1855.7,648.2 L1855.1,649.6 L1854.5,651.0 L1853.9,652.4 L1853.3,653.8 L1852.7,655.2 L1852.1,656.6 L1851.5,658.0 L1850.8,659.4 L1850.2,660.8 L1849.5,662.1 L1848.9,663.5 L1848.2,664.9 L1847.5,666.2 L1846.8,667.6 L1846.1,668.9 L1845.4,670.3 L1844.7,671.6 L1844.0,672.9 L1843.2,674.3 L1842.5,675.6 L1841.7,676.9 L1840.9,678.3 L1840.1,679.6 L1839.4,680.9 L1838.6,682.2 L1837.7,683.5 L1836.9,684.8 L1836.1,686.1 L1835.2,687.4 L1834.4,688.6 L1833.5,689.9 L1832.7,691.2 L1831.8,692.4 L1830.9,693.6 L1829.9,694.8 L1829.0,696.0 L1828.0,697.1 L1827.1,698.2 L1826.0,699.3 L1825.0,700.3 L1823.9,701.3 L1822.8,702.3 L1821.7,703.3 L1820.5,704.2 L1819.4,705.1 L1818.2,706.0 L1816.9,706.9 L1815.7,707.7 L1814.4,708.5 L1813.2,709.3 L1811.9,710.0 L1810.6,710.7 L1809.3,711.4 L1807.9,712.1 L1806.6,712.7 L1805.2,713.3 L1803.9,713.9 L1802.5,714.5 L1801.1,715.0 L1799.7,715.5 L1798.3,716.1 L1796.8,716.5 L1795.4,717.0 L1794.0,717.5 L1792.5,717.9 L1791.0,718.3 L1789.6,718.7 L1788.1,719.1 L1786.6,719.5 L1785.1,719.9 L1783.6,720.3 L1782.1,720.6 L1780.6,721.0 L1779.1,721.3 L1777.6,721.6 L1776.1,721.9 L1774.6,722.3 L1773.1,722.6 L1771.6,722.9 L1770.0,723.2 L1768.5,723.5 L1767.0,723.7 L1765.5,724.0 L1764.0,724.3 L1762.5,724.6 L1760.9,724.8 L1759.4,725.1 L1757.9,725.3 L1756.4,725.5 L1754.8,725.8 L1753.3,726.0 L1751.8,726.2 L1750.3,726.4 L1748.8,726.6 L1747.2,726.9 L1745.7,727.0 L1744.2,727.2 L1742.6,727.4 L1741.1,727.6 L1739.6,727.8 L1737.6,728.0 L1735.7,728.2 L1733.7,728.4 L1731.7,728.6 L1729.7,728.7 L1727.7,728.9 L1725.8,729.0 L1723.8,729.2 L1721.8,729.3 L1719.8,729.4 L1717.8,729.5 L1715.8,729.6 L1713.9,729.6 L1711.9,729.7 L1709.9,729.8 L1707.9,729.8 L1705.9,729.9 L1703.9,729.9 L1701.9,730.0 L1699.9,730.0 L1697.9,730.1 L1695.9,730.2 L1693.9,730.2 L1691.9,730.3 L1689.9,730.4 L1687.9,730.4 L1685.9,730.5 L1683.9,730.5 L1681.9,730.6 L1679.9,730.6 L1677.9,730.6 L1675.9,730.7 L1673.9,730.7 L1671.9,730.8 L1669.9,730.8 L1667.9,730.9 L1665.9,730.9 L1663.9,730.9 L1661.9,731.0 L1659.9,731.0 L1657.9,731.1 L1655.9,731.1 L1653.9,731.1 L1651.9,731.2 L1649.9,731.2 L1647.9,731.2 L1645.9,731.3 L1643.9,731.3 L1641.9,731.3 L1639.9,731.3 L1638.0,731.4 L1636.0,731.4 L1634.0,731.4 L1632.0,731.5 L1630.0,731.5 L1628.0,731.5 L1626.0,731.5 L1624.0,731.6 L1622.0,731.6 L1620.0,731.6 L1618.0,731.6 L1616.0,731.6 L1614.0,731.7 L1612.0,731.7 L1610.0,731.7 L1608.0,731.7 L1606.0,731.8 L1604.0,731.8 L1602.0,731.8 L1600.0,731.8 L1598.0,731.9 L1596.0,731.9 L1594.0,731.9 L1592.0,731.9 L1590.0,731.9 L1588.0,732.0 L1586.0,732.0 L1584.0,732.0 L1582.0,732.0 L1580.0,732.0 L1578.0,732.1 L1576.0,732.1 L1574.0,732.1 L1572.0,732.1 L1570.0,732.1 L1568.0,732.1 L1566.0,732.2 L1564.0,732.2 L1562.0,732.2 L1560.0,732.2 L1550.0,732.3 L1540.0,732.4 L1530.0,732.4 L1520.0,732.5 L1510.0,732.6 L1500.0,732.6 L1490.0,732.7 L1480.0,732.7 L1470.0,732.8 L1460.0,732.8 L1450.0,732.8 L1440.0,732.9 L1430.0,732.9 L1420.0,732.9 L1410.0,733.0 L1400.0,733.0 L1390.0,733.0 L1380.0,733.1 L1370.0,733.1 L1360.0,733.2 L1350.0,733.2 L1340.0,733.2 L1330.0,733.3 L1320.0,733.3 L1310.0,733.4 L1300.0,733.4 L1290.0,733.5 L1280.0,733.5 L1270.0,733.6 L1260.0,733.7 L1250.0,733.8 L1240.0,733.9 L1230.0,734.0 L1220.0,734.1 L1210.0,734.2 L1200.0,734.3 L1190.0,734.4 L1180.0,734.4 L1170.0,734.5 L1160.0,734.6 L1150.0,734.6 L1140.0,734.7 L1130.0,734.8 L1120.0,734.8 L1110.0,734.9 L1100.0,734.9 L1090.0,735.0 L1080.0,735.0 L1070.0,735.1 L1060.0,735.1 L1050.0,735.2 L1040.0,735.2 L1030.0,735.3 L1020.0,735.4 L1010.0,735.4 L1000.0,735.5 L990.0,735.6 L980.0,735.7 L970.0,735.8 L960.0,735.9 L950.0,736.0 L940.0,736.1 L930.0,736.2 L920.0,736.2 L910.0,736.3 L900.0,736.4 L890.0,736.5 L880.0,736.5 L870.0,736.6 L860.0,736.6 L850.0,736.7 L840.0,736.7 L830.0,736.7 L820.0,736.8 L810.0,736.8 L800.0,736.8 L790.0,736.8 L780.0,736.9 L770.0,736.9 L760.0,736.9 L758.0,736.9 L756.0,736.9 L754.0,736.9 L752.0,736.9 L750.0,736.9 L748.0,736.9 L746.0,736.9 L744.0,736.9 L742.0,737.0 L740.0,737.0 L738.0,737.0 L736.0,737.0 L734.0,737.0 L732.0,737.0 L730.0,737.0 L728.0,737.0 L726.0,737.0 L724.0,737.0 L722.0,737.0 L720.0,737.0 L718.0,737.0 L716.0,737.0 L714.0,737.0 L712.0,737.1 L710.0,737.1 L708.0,737.1 L706.0,737.1 L704.0,737.1 L702.0,737.1 L700.0,737.1 L698.0,737.1 L696.0,737.1 L694.0,737.1 L692.0,737.2 L690.0,737.2 L688.0,737.2 L686.0,737.2 L684.0,737.2 L682.0,737.2 L680.0,737.2 L678.0,737.2 L676.0,737.3 L674.0,737.3 L672.0,737.3 L670.0,737.3 L668.0,737.3 L666.0,737.3 L664.0,737.3 L662.0,737.4 L660.0,737.4 L658.0,737.4 L656.0,737.4 L654.0,737.4 L652.0,737.4 L650.0,737.5 L648.0,737.5 L646.0,737.5 L643.9,737.5 L641.9,737.6 L639.9,737.6 L637.9,737.7 L635.8,737.8 L633.8,737.9 L631.8,738.0 L629.8,738.1 L627.9,738.2 L625.9,738.3 L623.9,738.3 L621.9,738.4 L619.9,738.5 L617.9,738.5 L615.9,738.6 L613.9,738.7 L611.9,738.8 L609.8,738.9 L607.8,739.0 L605.8,739.1 L603.8,739.2 L601.8,739.3 L599.8,739.4 L597.8,739.5 L595.8,739.6 L593.8,739.7 L591.8,739.8 L589.5,739.9 L587.9,740.0 L586.3,740.0 L584.7,740.1 L583.1,740.2 L581.5,740.2 L579.9,740.3 L578.4,740.4 L576.8,740.4 L575.2,740.5 L573.6,740.6 L572.0,740.6 L570.4,740.7 L568.8,740.8 L567.2,740.8 L565.6,740.9 L564.0,741.0 L562.4,741.0 L560.8,741.1 L559.2,741.2 L557.7,741.2 L556.2,741.3 L554.7,741.3 L553.2,741.4 L551.7,741.5 L550.2,741.6 L548.7,741.6 L547.2,741.7 L545.7,741.8 L544.1,741.9 L542.6,742.0 L541.1,742.0 L539.6,742.1 L538.1,742.2 L536.6,742.4 L535.1,742.5 L533.5,742.6 L532.0,742.7 L530.5,742.8 L529.0,743.0 L527.5,743.1 L525.9,743.3 L524.4,743.4 L522.9,743.6 L521.4,743.8 L519.8,744.0 L518.3,744.2 L516.8,744.4 L515.3,744.6 L513.7,744.8 L512.2,745.1 L510.7,745.3 L509.2,745.6 L507.6,745.9 L506.1,746.1 L504.6,746.4 L503.1,746.8 L501.6,747.1 L500.1,747.4 L498.6,747.8 L497.1,748.1 L495.6,748.5 L494.1,748.9 L492.5,749.4 L491.0,749.8 L489.4,750.3 L487.8,750.8 L486.3,751.3 L484.8,751.9 L483.2,752.4 L481.7,753.0 L480.2,753.6 L478.7,754.3 L477.2,754.9 L475.8,755.6 L474.3,756.3 L472.9,757.0 L471.5,757.8 L470.0,758.6 L468.6,759.4 L467.3,760.2 L465.9,761.0 L464.6,761.9 L463.2,762.8 L461.9,763.8 L460.6,764.7 L459.4,765.7 L458.1,766.7 L456.9,767.7 L455.7,768.7 L454.5,769.8 L453.3,770.9 L452.1,772.0 L451.0,773.1 L449.8,774.2 L448.7,775.4 L447.6,776.6 L446.5,777.8 L445.4,779.0 L444.4,780.2 L443.4,781.4 L442.3,782.7 L441.3,784.0 L440.3,785.3 L439.4,786.6 L438.4,787.9 L437.4,789.2 L436.5,790.5 L435.6,791.9 L434.7,793.3 L433.9,794.6 L433.0,795.9 L432.2,797.2 L431.4,798.5 L430.6,799.8 L429.9,801.1 L429.1,802.5 L428.4,803.8 L427.6,805.2 L426.9,806.6 L426.2,807.9 L425.5,809.3 L424.8,810.7 L424.1,812.1 L423.4,813.5 L422.7,814.9 L422.1,816.3 L421.5,817.7 L420.8,819.1 L420.2,820.5 L419.6,821.9 L419.0,823.3 L418.4,824.8 L417.8,826.2 L417.2,827.6 L416.7,829.0 L416.1,830.5 L415.6,831.9 L415.0,833.3 L414.5,834.7 L414.0,836.2 L413.5,837.6 L413.0,839.1 L412.5,840.5 L412.0,841.9 L411.5,843.4 L411.0,844.8 L410.6,846.3 L410.1,847.7 L409.6,849.2 L409.1,850.8 L408.7,852.3 L408.2,853.9 L407.8,855.4 L407.3,857.0 L406.9,858.5 L406.4,860.1 L406.0,861.6 L405.6,863.2 L405.2,864.8 L404.8,866.3 L404.4,867.9 L404.0,869.4 L403.6,871.0 L403.2,872.5 L402.8,874.1 L402.4,875.7 L402.1,877.2 L401.7,878.8 L401.3,880.4 L401.0,881.9 L400.6,883.5 L400.3,885.0 L399.9,886.6 L399.6,888.2 L399.2,889.7 L398.9,891.3 L398.6,892.9 L398.2,894.4 L397.9,896.0 L397.6,897.6 L397.2,899.1 L396.9,900.7 L396.6,902.3 L396.3,903.8 L396.0,905.4 L395.6,906.9 L395.3,908.5 L395.0,910.1 L394.7,911.6 L394.4,913.2 L394.0,914.8 L393.7,916.3 L393.4,917.9 L393.1,919.4 L392.8,921.0 L392.4,922.6 L392.1,924.1 L391.8,925.7 L391.5,927.2 L391.2,928.8 L390.8,930.4 L390.5,931.9 L390.2,933.5 L389.9,935.0 L389.6,936.6 L389.2,938.2 L388.9,939.7 L388.6,941.3 L388.3,942.8 L387.9,944.4 L387.6,946.0 L387.3,947.5 L387.0,949.1 L386.6,950.6 L386.3,952.2 L386.0,953.8 L385.7,955.3 L385.4,956.9 L385.0,958.4 L384.7,960.0 L384.4,961.5 L384.1,963.1 L383.7,964.7 L383.4,966.2 L383.1,967.8 L382.8,969.3 L382.4,970.9 L382.1,972.5 L381.8,974.0 L381.5,975.6 L381.1,977.1 L380.8,978.7 L380.5,980.2 L380.2,981.8 L379.8,983.4 L379.5,984.9 L379.2,986.5 L378.9,988.0 L378.6,989.6 L378.2,991.2 L377.9,992.7 L377.6,994.3 L377.3,995.8 L376.9,997.4 L376.6,998.9 L376.3,1000.5 L376.0,1002.1 L375.6,1003.6 L375.3,1005.2 L375.0,1006.7 L374.7,1008.3 L374.4,1009.9 L374.0,1011.4 L373.7,1013.0 L373.4,1014.5 L373.1,1016.1 L372.7,1017.7 L372.4,1019.2 L372.1,1020.8 L371.8,1022.3 L371.5,1023.9 L371.1,1025.4 L370.8,1027.0 L370.5,1028.6 L370.2,1030.1 L369.9,1031.7 L369.5,1033.2 L369.2,1034.8 L368.9,1036.4 L368.6,1037.9 L368.3,1039.5 L368.0,1041.1 L367.6,1042.6 L367.3,1044.2 L367.0,1045.7 L366.7,1047.3 L366.4,1048.9 L366.1,1050.4 L365.8,1052.0 L365.4,1053.5 L365.1,1055.1 L364.8,1056.7 L364.5,1058.2 L364.2,1059.8 L363.9,1061.4 L363.6,1062.9 L363.3,1064.5 L362.9,1066.0 L362.6,1067.6 L362.3,1069.2 L362.0,1070.7 L361.7,1072.3 L361.4,1073.9 L361.1,1075.4 L360.8,1077.0 L360.5,1078.6 L360.2,1080.1 L359.9,1081.7 L359.6,1083.3 L359.2,1084.8 L358.9,1086.4 L358.6,1088.0 L358.3,1089.5 L358.0,1091.1 L357.7,1092.7 L357.4,1094.2 L357.1,1095.8 L356.8,1097.4 L356.5,1098.9 L356.2,1100.5 L355.9,1102.1 L355.6,1103.6 L355.3,1105.2 L355.0,1106.8 L354.7,1108.3 L354.4,1109.9 L354.2,1111.5 L353.9,1113.1 L353.9,1114.4 L354.4,1115.7 L355.4,1116.6 L356.7,1117.1 L358.0,1117.1 L359.3,1116.6 L360.2,1115.6Z"/>
<path fill="#ff00ff" d="M360.7,1073.1 L361.0,1071.5 L361.3,1070.0 L361.6,1068.4 L361.8,1066.9 L362.1,1065.3 L362.4,1063.8 L362.6,1062.2 L362.9,1060.7 L363.2,1059.2 L363.4,1057.6 L363.7,1056.1 L364.0,1054.5 L364.2,1053.0 L364.5,1051.5 L364.8,1049.9 L365.1,1048.4 L365.3,1046.9 L365.6,1045.3 L365.9,1043.8 L366.1,1042.3 L366.4,1040.7 L366.7,1039.2 L367.0,1037.7 L367.2,1036.2 L367.5,1034.6 L367.8,1033.1 L368.1,1031.6 L368.3,1030.1 L368.6,1028.5 L368.9,1027.0 L369.2,1025.5 L369.4,1024.0 L369.7,1022.5 L370.0,1021.0 L370.3,1019.4 L370.6,1017.9 L370.8,1016.4 L371.1,1014.9 L371.4,1013.4 L371.7,1011.9 L372.0,1010.4 L372.2,1008.9 L372.5,1007.3 L372.8,1005.8 L373.1,1004.3 L373.4,1002.8 L373.7,1001.3 L373.9,999.8 L374.2,998.3 L374.5,996.8 L374.8,995.3 L375.1,993.8 L375.4,992.3 L375.7,990.8 L376.0,989.3 L376.2,987.8 L376.5,986.3 L376.8,984.8 L377.1,983.2 L377.4,981.7 L377.7,980.2 L378.0,978.7 L378.3,977.2 L378.6,975.7 L378.9,974.2 L379.2,972.7 L379.5,971.2 L379.8,969.7 L380.1,968.2 L380.4,966.7 L380.7,965.2 L381.0,963.7 L381.3,962.2 L381.6,960.7 L381.9,959.2 L382.2,957.7 L382.5,956.2 L382.8,954.7 L383.1,953.2 L383.4,951.7 L383.7,950.2 L384.0,948.7 L384.3,947.2 L384.6,945.7 L384.9,944.2 L385.2,942.7 L385.6,941.2 L385.9,939.7 L386.2,938.2 L386.5,936.7 L386.8,935.2 L387.1,933.7 L387.4,932.2 L387.8,930.7 L388.1,929.1 L388.4,927.6 L388.7,926.1 L389.0,924.6 L389.4,923.1 L389.7,921.6 L390.0,920.1 L390.3,918.6 L390.7,917.1 L391.0,915.6 L391.3,914.0 L391.6,912.5 L392.0,911.0 L392.3,909.5 L392.6,908.0 L393.0,906.5 L393.3,904.9 L393.6,903.4 L394.0,901.9 L394.3,900.4 L394.6,898.9 L395.0,897.3 L395.3,895.8 L395.7,894.3 L396.0,892.8 L396.3,891.2 L396.7,889.7 L397.0,888.2 L397.4,886.7 L397.7,885.1 L398.1,883.6 L398.4,882.1 L398.8,880.5 L399.1,879.0 L399.5,877.5 L399.8,875.9 L400.2,874.4 L400.5,872.8 L400.9,871.3 L401.2,869.8 L401.6,868.2 L402.0,866.7 L402.3,865.1 L402.7,863.6 L403.1,862.1 L403.4,860.5 L403.8,859.0 L404.2,857.5 L404.6,856.0 L405.0,854.4 L405.4,852.9 L405.8,851.4 L406.2,849.9 L406.6,848.4 L407.0,846.9 L407.5,845.4 L407.9,843.9 L408.3,842.4 L408.8,840.9 L409.3,839.4 L409.7,837.9 L410.2,836.4 L410.7,835.0 L411.2,833.5 L411.7,832.1 L412.2,830.6 L412.7,829.2 L413.2,827.7 L413.7,826.3 L414.3,824.9 L414.8,823.4 L415.4,822.0 L416.0,820.6 L416.6,819.2 L417.2,817.8 L417.8,816.5 L418.4,815.1 L419.0,813.7 L419.7,812.4 L420.4,811.0 L421.0,809.7 L421.7,808.4 L422.4,807.1 L423.1,805.8 L423.9,804.5 L424.6,803.2 L425.4,801.9 L426.1,800.6 L426.9,799.4 L427.7,798.2 L428.5,796.9 L429.4,795.7 L430.2,794.5 L431.1,793.3 L432.0,792.1 L432.9,791.0 L433.8,789.8 L434.7,788.7 L435.7,787.5 L436.7,786.4 L437.6,785.3 L438.6,784.2 L439.7,783.1 L440.7,782.1 L441.7,781.0 L442.8,780.0 L443.9,778.9 L445.0,777.9 L446.1,776.9 L447.2,776.0 L448.3,775.0 L449.5,774.1 L450.6,773.1 L451.8,772.2 L453.0,771.3 L454.2,770.5 L455.4,769.6 L456.6,768.8 L457.9,768.0 L459.1,767.1 L460.4,766.4 L461.7,765.6 L462.9,764.9 L464.2,764.1 L465.5,763.4 L466.8,762.7 L468.2,762.1 L469.5,761.4 L470.8,760.8 L472.2,760.2 L473.5,759.6 L474.9,759.1 L476.3,758.5 L477.7,758.0 L479.1,757.5 L480.5,757.0 L481.9,756.6 L483.3,756.1 L484.8,755.7 L486.2,755.3 L487.7,754.9 L489.1,754.5 L490.6,754.2 L492.1,753.8 L493.5,753.5 L495.0,753.2 L496.5,752.9 L498.0,752.6 L499.5,752.3 L501.0,752.0 L502.5,751.8 L504.0,751.5 L505.6,751.3 L507.1,751.1 L508.6,750.9 L510.1,750.7 L511.7,750.5 L513.2,750.3 L514.7,750.1 L516.3,750.0 L517.8,749.8 L519.4,749.7 L520.9,749.5 L522.5,749.4 L524.0,749.3 L525.6,749.1 L527.1,749.0 L528.6,748.9 L530.2,748.8 L531.7,748.7 L533.3,748.6 L534.8,748.5 L536.4,748.4 L537.9,748.3 L539.5,748.3 L541.0,748.2 L542.6,748.1 L544.1,748.0 L545.7,748.0 L547.2,747.9 L548.8,747.8 L550.3,747.8 L551.9,747.7 L553.4,747.6 L555.0,747.6 L556.6,747.5 L558.1,747.4 L559.7,747.4 L561.2,747.3 L562.8,747.2 L564.3,747.2 L565.9,747.1 L567.4,747.0 L569.0,747.0 L570.5,746.9 L572.1,746.8 L573.6,746.8 L575.1,746.7 L576.7,746.6 L578.2,746.6 L579.8,746.5 L581.3,746.4 L582.9,746.4 L584.4,746.3 L586.0,746.2 L587.5,746.1 L589.1,746.1 L592.2,745.9 L594.2,745.8 L596.2,745.7 L598.2,745.6 L600.2,745.5 L602.2,745.4 L604.2,745.4 L606.2,745.3 L608.2,745.2 L610.2,745.1 L612.2,745.0 L614.2,744.9 L616.2,744.8 L618.1,744.7 L620.1,744.6 L622.1,744.6 L624.1,744.5 L626.0,744.5 L628.0,744.5 L630.0,744.5 L632.0,744.5 L634.0,744.4 L636.0,744.4 L638.0,744.4 L640.0,744.4 L642.0,744.4 L644.0,744.4 L646.0,744.3 L648.0,744.3 L650.0,744.3 L652.0,744.3 L654.0,744.3 L656.0,744.3 L658.0,744.3 L660.0,744.3 L662.0,744.2 L664.0,744.2 L666.0,744.2 L668.0,744.2 L670.0,744.2 L672.0,744.2 L674.0,744.2 L676.0,744.2 L678.0,744.2 L680.0,744.1 L682.0,744.1 L684.0,744.1 L686.0,744.1 L688.0,744.1 L690.0,744.1 L692.0,744.1 L694.0,744.1 L696.0,744.1 L698.0,744.1 L700.0,744.1 L702.0,744.1 L704.0,744.0 L706.0,744.0 L708.0,744.0 L710.0,744.0 L712.0,744.0 L714.0,744.0 L716.0,744.0 L718.0,744.0 L720.0,744.0 L722.0,744.0 L724.0,744.0 L726.0,744.0 L728.0,744.0 L730.0,744.0 L732.0,744.0 L734.0,744.0 L736.0,744.0 L738.0,744.0 L740.0,743.9 L742.0,743.9 L744.0,743.9 L746.0,743.9 L748.0,743.9 L750.0,743.9 L752.0,743.9 L754.0,743.9 L756.0,743.9 L758.0,743.9 L760.0,743.9 L770.0,743.9 L780.0,743.9 L790.0,743.8 L800.0,743.8 L810.0,743.8 L820.0,743.8 L830.0,743.8 L840.0,743.7 L850.0,743.7 L860.0,743.7 L870.0,743.6 L880.0,743.6 L890.0,743.5 L900.0,743.5 L910.0,743.4 L920.0,743.3 L930.0,743.2 L940.0,743.1 L950.0,743.0 L960.0,742.9 L970.0,742.8 L980.0,742.7 L990.0,742.6 L1000.0,742.5 L1010.0,742.4 L1020.0,742.4 L1030.0,742.3 L1040.0,742.2 L1050.0,742.2 L1060.0,742.1 L1070.0,742.1 L1080.0,742.0 L1090.0,742.0 L1100.0,741.9 L1110.0,741.9 L1120.0,741.8 L1130.0,741.8 L1140.0,741.7 L1150.0,741.7 L1160.0,741.6 L1170.0,741.5 L1180.0,741.5 L1190.0,741.4 L1200.0,741.3 L1210.0,741.2 L1220.0,741.1 L1230.0,741.0 L1240.0,740.9 L1250.0,740.8 L1260.0,740.7 L1270.0,740.6 L1280.0,740.6 L1290.0,740.5 L1300.0,740.5 L1310.0,740.4 L1320.0,740.4 L1330.0,740.3 L1340.0,740.3 L1350.0,740.3 L1360.0,740.2 L1370.0,740.2 L1380.0,740.2 L1390.0,740.2 L1400.0,740.1 L1410.0,740.1 L1420.0,740.1 L1430.0,740.1 L1440.0,740.1 L1450.0,740.0 L1460.0,740.0 L1470.0,740.0 L1480.0,740.0 L1490.0,740.0 L1500.0,739.9 L1510.0,739.9 L1520.0,739.9 L1530.0,739.8 L1540.0,739.8 L1550.0,739.8 L1560.0,739.7 L1562.0,739.7 L1564.0,739.7 L1566.0,739.7 L1568.0,739.7 L1570.0,739.7 L1572.0,739.7 L1574.0,739.6 L1576.0,739.6 L1578.0,739.6 L1580.0,739.6 L1582.0,739.6 L1584.0,739.6 L1586.0,739.6 L1588.0,739.6 L1590.0,739.6 L1592.0,739.5 L1594.0,739.5 L1596.0,739.5 L1598.0,739.5 L1600.0,739.5 L1602.0,739.5 L1604.0,739.5 L1606.0,739.4 L1608.0,739.4 L1610.0,739.4 L1612.0,739.4 L1614.0,739.4 L1616.0,739.3 L1618.0,739.3 L1620.0,739.3 L1622.1,739.3 L1624.1,739.2 L1626.1,739.2 L1628.1,739.2 L1630.1,739.1 L1632.1,739.1 L1634.1,739.1 L1636.1,739.0 L1638.1,739.0 L1640.1,738.9 L1642.1,738.9 L1644.1,738.9 L1646.1,738.8 L1648.1,738.8 L1650.1,738.7 L1652.1,738.7 L1654.1,738.6 L1656.1,738.6 L1658.1,738.5 L1660.1,738.5 L1662.1,738.4 L1664.1,738.4 L1666.1,738.3 L1668.1,738.2 L1670.1,738.2 L1672.1,738.1 L1674.1,738.0 L1676.1,737.9 L1678.1,737.8 L1680.1,737.8 L1682.1,737.7 L1684.1,737.6 L1686.1,737.5 L1688.1,737.4 L1690.1,737.4 L1692.1,737.3 L1694.1,737.2 L1696.1,737.2 L1698.1,737.1 L1700.1,737.0 L1702.1,737.0 L1704.1,736.9 L1706.1,736.9 L1708.1,736.8 L1710.1,736.8 L1712.1,736.8 L1714.1,736.7 L1716.1,736.7 L1718.1,736.6 L1720.1,736.6 L1722.1,736.5 L1724.1,736.5 L1726.1,736.4 L1728.1,736.3 L1730.1,736.2 L1732.2,736.2 L1734.2,736.1 L1736.2,736.0 L1738.2,735.8 L1740.2,735.7 L1741.8,735.6 L1743.4,735.5 L1744.9,735.3 L1746.5,735.2 L1748.0,735.0 L1749.6,734.9 L1751.1,734.8 L1752.7,734.6 L1754.2,734.4 L1755.8,734.3 L1757.3,734.1 L1758.8,733.9 L1760.4,733.7 L1761.9,733.5 L1763.5,733.3 L1765.0,733.1 L1766.6,732.9 L1768.1,732.7 L1769.7,732.5 L1771.2,732.2 L1772.8,732.0 L1774.3,731.8 L1775.8,731.5 L1777.4,731.3 L1778.9,731.0 L1780.5,730.7 L1782.0,730.4 L1783.6,730.1 L1785.1,729.8 L1786.7,729.5 L1788.2,729.2 L1789.8,728.9 L1791.3,728.5 L1792.8,728.2 L1794.4,727.8 L1795.9,727.4 L1797.4,727.0 L1799.0,726.6 L1800.5,726.2 L1802.0,725.8 L1803.5,725.3 L1805.0,724.8 L1806.5,724.3 L1808.0,723.8 L1809.5,723.3 L1811.0,722.8 L1812.5,722.2 L1813.9,721.6 L1815.4,721.0 L1816.8,720.3 L1818.2,719.7 L1819.6,719.0 L1821.0,718.3 L1822.4,717.6 L1823.8,716.8 L1825.2,716.0 L1826.5,715.2 L1827.9,714.4 L1829.2,713.6 L1830.5,712.7 L1831.8,711.9 L1833.1,711.0 L1834.3,710.0 L1835.6,709.1 L1836.8,708.1 L1838.0,707.2 L1839.2,706.2 L1840.4,705.2 L1841.6,704.1 L1842.7,703.1 L1843.9,702.0 L1845.0,700.9 L1846.1,699.8 L1847.2,698.6 L1848.2,697.5 L1849.3,696.3 L1850.3,695.1 L1851.3,693.9 L1852.3,692.7 L1853.3,691.5 L1854.2,690.2 L1855.2,689.0 L1856.1,687.7 L1857.0,686.4 L1857.8,685.1 L1858.7,683.7 L1859.5,682.4 L1860.3,681.0 L1861.2,679.7 L1861.9,678.3 L1862.7,676.9 L1863.5,675.5 L1864.2,674.1 L1864.9,672.7 L1865.7,671.3 L1866.3,669.9 L1867.0,668.4 L1867.7,667.0 L1868.4,665.5 L1869.0,664.1 L1869.6,662.6 L1870.3,661.1 L1870.9,659.6 L1871.5,658.2 L1872.1,656.7 L1872.6,655.2 L1873.2,653.7 L1873.7,652.3 L1874.2,650.8 L1874.8,649.4 L1875.3,647.9 L1875.8,646.4 L1876.3,644.9 L1876.8,643.4 L1877.3,641.9 L1877.8,640.4 L1878.3,638.9 L1878.8,637.4 L1879.3,635.9 L1879.7,634.4 L1880.2,632.9 L1880.7,631.4 L1881.1,629.9 L1881.5,628.4 L1882.0,626.9 L1882.4,625.4 L1882.8,623.9 L1883.3,622.4 L1883.7,620.9 L1884.1,619.4 L1884.5,617.9 L1884.9,616.4 L1885.3,614.9 L1885.7,613.4 L1886.1,611.9 L1886.5,610.4 L1886.8,608.8 L1887.2,607.3 L1887.6,605.8 L1887.9,604.3 L1888.3,602.8 L1888.7,601.3 L1889.0,599.8 L1889.4,598.3 L1889.7,596.9 L1890.0,595.4 L1890.4,593.9 L1890.7,592.4 L1891.1,590.9 L1891.4,589.4 L1891.7,587.9 L1892.0,586.4 L1892.4,584.9 L1892.7,583.4 L1893.0,581.9 L1893.3,580.4 L1893.6,578.9 L1893.9,577.4 L1894.2,575.9 L1894.5,574.4 L1894.8,572.9 L1895.1,571.4 L1895.4,569.8 L1895.7,568.3 L1896.0,566.8 L1896.3,565.3 L1896.6,563.8 L1896.9,562.3 L1897.2,560.8 L1897.5,559.3 L1897.8,557.8 L1898.1,556.3 L1898.4,554.8 L1898.6,553.3 L1898.9,551.8 L1899.2,550.3 L1899.5,548.8 L1899.8,547.3 L1900.1,545.8 L1900.4,544.3 L1900.6,542.8 L1900.9,541.3 L1901.2,539.8 L1901.5,538.3 L1901.8,536.8 L1902.1,535.3 L1902.3,533.8 L1902.6,532.3 L1902.9,530.8 L1903.2,529.3 L1903.5,527.7 L1903.8,526.2 L1904.1,524.7 L1904.3,523.2 L1904.6,521.7 L1904.9,520.2 L1905.2,518.7 L1905.5,517.2 L1905.8,515.7 L1906.1,514.2 L1906.3,512.6 L1906.6,511.1 L1906.9,509.6 L1907.2,508.1 L1907.5,506.6 L1907.8,505.1 L1908.1,503.6 L1908.4,502.1 L1908.6,500.6 L1908.9,499.0 L1909.2,497.5 L1909.5,496.0 L1909.8,494.5 L1910.1,493.0 L1910.4,491.5 L1910.6,490.0 L1910.9,488.4 L1911.2,486.9 L1911.5,485.4 L1911.8,483.9 L1912.1,482.4 L1912.4,480.9 L1912.7,479.4 L1913.0,477.8 L1913.2,476.3 L1913.5,474.8 L1913.8,473.3 L1914.1,471.8 L1914.4,470.3 L1914.7,468.8 L1915.0,467.2 L1915.3,465.7 L1915.6,464.2 L1915.8,462.7 L1916.1,461.2 L1916.4,459.7 L1916.7,458.2 L1917.0,456.6 L1917.3,455.1 L1917.6,453.6 L1917.9,452.1 L1918.2,450.6 L1918.5,449.1 L1918.8,447.6 L1919.0,446.0 L1919.3,444.5 L1919.6,443.0 L1919.9,441.5 L1920.2,440.0 L1920.5,438.5 L1920.8,437.0 L1921.1,435.5 L1921.4,433.9 L1921.7,432.4 L1922.0,430.9 L1922.3,429.4 L1922.6,427.9 L1922.9,426.4 L1923.2,424.9 L1923.5,423.4 L1923.8,421.9 L1924.0,420.3 L1924.3,418.8 L1924.6,417.3 L1924.9,415.8 L1925.2,414.3 L1925.5,412.8 L1925.8,411.3 L1926.1,409.8 L1926.4,408.3 L1926.7,406.8 L1927.0,405.3 L1927.3,403.8 L1927.6,402.3 L1927.9,400.7 L1928.2,399.2 L1928.5,397.7 L1928.8,396.2 L1929.1,394.7 L1929.4,393.2 L1929.7,391.7 L1930.0,390.2 L1930.3,388.7 L1930.6,387.2 L1930.9,385.7 L1931.2,384.2 L1931.5,382.7 L1931.8,381.2 L1932.3,378.8 L1932.3,377.4 L1931.8,376.2 L1930.9,375.2 L1929.6,374.7 L1928.2,374.7 L1927.0,375.2 L1926.0,376.1 L1925.5,377.4 L1925.0,379.8 L1924.7,381.3 L1924.4,382.8 L1924.1,384.3 L1923.8,385.8 L1923.5,387.3 L1923.2,388.8 L1922.9,390.3 L1922.6,391.9 L1922.3,393.4 L1922.0,394.9 L1921.7,396.4 L1921.4,397.9 L1921.1,399.4 L1920.8,400.9 L1920.5,402.4 L1920.2,403.9 L1919.9,405.4 L1919.6,406.9 L1919.3,408.4 L1919.0,409.9 L1918.7,411.4 L1918.4,413.0 L1918.1,414.5 L1917.8,416.0 L1917.5,417.5 L1917.2,419.0 L1916.9,420.5 L1916.6,422.0 L1916.3,423.5 L1916.0,425.0 L1915.7,426.6 L1915.4,428.1 L1915.1,429.6 L1914.8,431.1 L1914.5,432.6 L1914.2,434.1 L1913.9,435.6 L1913.6,437.1 L1913.3,438.7 L1913.1,440.2 L1912.8,441.7 L1912.5,443.2 L1912.2,444.7 L1911.9,446.2 L1911.6,447.7 L1911.3,449.3 L1911.0,450.8 L1910.7,452.3 L1910.4,453.8 L1910.1,455.3 L1909.8,456.8 L1909.6,458.3 L1909.3,459.9 L1909.0,461.4 L1908.7,462.9 L1908.4,464.4 L1908.1,465.9 L1907.8,467.4 L1907.5,469.0 L1907.2,470.5 L1906.9,472.0 L1906.7,473.5 L1906.4,475.0 L1906.1,476.5 L1905.8,478.0 L1905.5,479.6 L1905.2,481.1 L1904.9,482.6 L1904.6,484.1 L1904.3,485.6 L1904.1,487.1 L1903.8,488.6 L1903.5,490.2 L1903.2,491.7 L1902.9,493.2 L1902.6,494.7 L1902.3,496.2 L1902.0,497.7 L1901.8,499.2 L1901.5,500.8 L1901.2,502.3 L1900.9,503.8 L1900.6,505.3 L1900.3,506.8 L1900.0,508.3 L1899.8,509.8 L1899.5,511.3 L1899.2,512.9 L1898.9,514.4 L1898.6,515.9 L1898.3,517.4 L1898.0,518.9 L1897.8,520.4 L1897.5,521.9 L1897.2,523.4 L1896.9,524.9 L1896.6,526.4 L1896.3,528.0 L1896.0,529.5 L1895.8,531.0 L1895.5,532.5 L1895.2,534.0 L1894.9,535.5 L1894.6,537.0 L1894.3,538.5 L1894.0,540.0 L1893.8,541.5 L1893.5,543.0 L1893.2,544.5 L1892.9,546.0 L1892.6,547.5 L1892.3,549.0 L1892.0,550.5 L1891.8,552.0 L1891.5,553.5 L1891.2,555.0 L1890.9,556.5 L1890.6,558.0 L1890.3,559.5 L1890.0,561.0 L1889.7,562.5 L1889.5,564.0 L1889.2,565.5 L1888.9,567.0 L1888.6,568.5 L1888.3,570.0 L1888.0,571.5 L1887.7,573.0 L1887.4,574.5 L1887.1,575.9 L1886.8,577.4 L1886.4,578.9 L1886.1,580.4 L1885.8,581.9 L1885.5,583.4 L1885.2,584.9 L1884.9,586.4 L1884.5,587.9 L1884.2,589.3 L1883.9,590.8 L1883.6,592.3 L1883.2,593.8 L1882.9,595.3 L1882.5,596.8 L1882.2,598.3 L1881.8,599.7 L1881.5,601.2 L1881.1,602.7 L1880.8,604.2 L1880.4,605.7 L1880.0,607.2 L1879.7,608.6 L1879.3,610.1 L1878.9,611.6 L1878.5,613.1 L1878.1,614.6 L1877.7,616.0 L1877.3,617.5 L1876.9,619.0 L1876.5,620.5 L1876.1,622.0 L1875.7,623.4 L1875.3,624.9 L1874.8,626.4 L1874.4,627.9 L1873.9,629.3 L1873.5,630.8 L1873.0,632.3 L1872.6,633.8 L1872.1,635.3 L1871.7,636.7 L1871.2,638.2 L1870.7,639.7 L1870.2,641.2 L1869.7,642.6 L1869.2,644.1 L1868.7,645.6 L1868.2,647.1 L1867.7,648.4 L1867.2,649.8 L1866.6,651.2 L1866.1,652.7 L1865.5,654.1 L1865.0,655.6 L1864.4,657.0 L1863.8,658.4 L1863.2,659.8 L1862.6,661.3 L1862.0,662.7 L1861.3,664.1 L1860.7,665.4 L1860.0,666.8 L1859.4,668.2 L1858.7,669.5 L1858.0,670.9 L1857.3,672.2 L1856.6,673.5 L1855.8,674.9 L1855.1,676.2 L1854.3,677.4 L1853.6,678.7 L1852.8,680.0 L1852.0,681.2 L1851.2,682.4 L1850.3,683.7 L1849.5,684.9 L1848.6,686.0 L1847.7,687.2 L1846.8,688.4 L1845.9,689.5 L1845.0,690.6 L1844.0,691.7 L1843.1,692.8 L1842.1,693.8 L1841.1,694.9 L1840.0,695.9 L1839.0,696.9 L1838.0,697.9 L1836.9,698.9 L1835.8,699.9 L1834.7,700.8 L1833.6,701.7 L1832.5,702.7 L1831.3,703.5 L1830.2,704.4 L1829.0,705.3 L1827.8,706.1 L1826.6,706.9 L1825.4,707.7 L1824.2,708.5 L1822.9,709.2 L1821.7,710.0 L1820.4,710.7 L1819.1,711.4 L1817.9,712.1 L1816.6,712.7 L1815.2,713.3 L1813.9,714.0 L1812.6,714.6 L1811.2,715.1 L1809.9,715.7 L1808.5,716.2 L1807.1,716.7 L1805.7,717.2 L1804.3,717.7 L1802.9,718.2 L1801.5,718.6 L1800.0,719.1 L1798.6,719.5 L1797.1,719.9 L1795.7,720.3 L1794.2,720.7 L1792.7,721.0 L1791.2,721.4 L1789.8,721.7 L1788.3,722.0 L1786.8,722.4 L1785.3,722.7 L1783.8,723.0 L1782.3,723.3 L1780.8,723.5 L1779.2,723.8 L1777.7,724.1 L1776.2,724.4 L1774.7,724.6 L1773.2,724.9 L1771.7,725.1 L1770.2,725.3 L1768.6,725.6 L1767.1,725.8 L1765.6,726.0 L1764.1,726.2 L1762.6,726.4 L1761.1,726.6 L1759.5,726.8 L1758.0,727.0 L1756.5,727.1 L1755.0,727.3 L1753.5,727.5 L1751.9,727.6 L1750.4,727.8 L1748.9,727.9 L1747.4,728.1 L1745.9,728.2 L1744.3,728.3 L1742.8,728.5 L1741.3,728.6 L1739.8,728.7 L1737.8,728.8 L1735.8,729.0 L1733.8,729.1 L1731.8,729.2 L1729.9,729.3 L1727.9,729.3 L1725.9,729.4 L1723.9,729.5 L1721.9,729.5 L1719.9,729.6 L1717.9,729.6 L1715.9,729.7 L1713.9,729.7 L1711.9,729.8 L1709.9,729.8 L1707.9,729.8 L1705.9,729.9 L1703.9,729.9 L1701.9,730.0 L1699.9,730.0 L1697.9,730.1 L1695.9,730.2 L1693.9,730.2 L1691.9,730.3 L1689.9,730.4 L1687.9,730.5 L1685.9,730.5 L1683.9,730.6 L1681.9,730.7 L1679.9,730.8 L1677.9,730.8 L1675.9,730.9 L1673.9,731.0 L1671.9,731.1 L1669.9,731.2 L1667.9,731.3 L1665.9,731.3 L1663.9,731.4 L1661.9,731.4 L1659.9,731.5 L1657.9,731.5 L1655.9,731.6 L1653.9,731.6 L1651.9,731.7 L1649.9,731.7 L1647.9,731.8 L1645.9,731.8 L1643.9,731.9 L1641.9,731.9 L1639.9,731.9 L1637.9,732.0 L1635.9,732.0 L1633.9,732.1 L1631.9,732.1 L1629.9,732.1 L1627.9,732.2 L1625.9,732.2 L1623.9,732.2 L1621.9,732.3 L1620.0,732.3 L1618.0,732.3 L1616.0,732.3 L1614.0,732.4 L1612.0,732.4 L1610.0,732.4 L1608.0,732.4 L1606.0,732.5 L1604.0,732.5 L1602.0,732.5 L1600.0,732.5 L1598.0,732.5 L1596.0,732.5 L1594.0,732.5 L1592.0,732.5 L1590.0,732.6 L1588.0,732.6 L1586.0,732.6 L1584.0,732.6 L1582.0,732.6 L1580.0,732.6 L1578.0,732.6 L1576.0,732.6 L1574.0,732.6 L1572.0,732.7 L1570.0,732.7 L1568.0,732.7 L1566.0,732.7 L1564.0,732.7 L1562.0,732.7 L1560.0,732.7 L1550.0,732.8 L1540.0,732.8 L1530.0,732.8 L1520.0,732.9 L1510.0,732.9 L1500.0,732.9 L1490.0,733.0 L1480.0,733.0 L1470.0,733.0 L1460.0,733.0 L1450.0,733.0 L1440.0,733.1 L1430.0,733.1 L1420.0,733.1 L1410.0,733.1 L1400.0,733.1 L1390.0,733.2 L1380.0,733.2 L1370.0,733.2 L1360.0,733.2 L1350.0,733.3 L1340.0,733.3 L1330.0,733.3 L1320.0,733.4 L1310.0,733.4 L1300.0,733.5 L1290.0,733.5 L1280.0,733.6 L1270.0,733.6 L1260.0,733.7 L1250.0,733.8 L1240.0,733.9 L1230.0,734.0 L1220.0,734.1 L1210.0,734.2 L1200.0,734.3 L1190.0,734.4 L1180.0,734.5 L1170.0,734.5 L1160.0,734.6 L1150.0,734.7 L1140.0,734.7 L1130.0,734.8 L1120.0,734.8 L1110.0,734.9 L1100.0,734.9 L1090.0,735.0 L1080.0,735.0 L1070.0,735.1 L1060.0,735.1 L1050.0,735.2 L1040.0,735.2 L1030.0,735.3 L1020.0,735.4 L1010.0,735.4 L1000.0,735.5 L990.0,735.6 L980.0,735.7 L970.0,735.8 L960.0,735.9 L950.0,736.0 L940.0,736.1 L930.0,736.2 L920.0,736.3 L910.0,736.4 L900.0,736.5 L890.0,736.5 L880.0,736.6 L870.0,736.6 L860.0,736.7 L850.0,736.7 L840.0,736.7 L830.0,736.8 L820.0,736.8 L810.0,736.8 L800.0,736.8 L790.0,736.8 L780.0,736.9 L770.0,736.9 L760.0,736.9 L758.0,736.9 L756.0,736.9 L754.0,736.9 L752.0,736.9 L750.0,736.9 L748.0,736.9 L746.0,736.9 L744.0,736.9 L742.0,736.9 L740.0,736.9 L738.0,737.0 L736.0,737.0 L734.0,737.0 L732.0,737.0 L730.0,737.0 L728.0,737.0 L726.0,737.0 L724.0,737.0 L722.0,737.0 L720.0,737.0 L718.0,737.0 L716.0,737.0 L714.0,737.0 L712.0,737.0 L710.0,737.0 L708.0,737.0 L706.0,737.0 L704.0,737.0 L702.0,737.1 L700.0,737.1 L698.0,737.1 L696.0,737.1 L694.0,737.1 L692.0,737.1 L690.0,737.1 L688.0,737.1 L686.0,737.1 L684.0,737.1 L682.0,737.1 L680.0,737.1 L678.0,737.2 L676.0,737.2 L674.0,737.2 L672.0,737.2 L670.0,737.2 L668.0,737.2 L666.0,737.2 L664.0,737.2 L662.0,737.2 L660.0,737.3 L658.0,737.3 L656.0,737.3 L654.0,737.3 L652.0,737.3 L650.0,737.3 L648.0,737.3 L646.0,737.3 L644.0,737.4 L642.0,737.4 L640.0,737.4 L638.0,737.4 L636.0,737.4 L634.0,737.4 L632.0,737.5 L630.0,737.5 L628.0,737.5 L626.0,737.5 L623.9,737.5 L621.9,737.6 L619.9,737.6 L617.9,737.7 L615.8,737.8 L613.8,737.9 L611.8,738.0 L609.8,738.1 L607.8,738.2 L605.8,738.3 L603.8,738.4 L601.8,738.5 L599.8,738.5 L597.8,738.6 L595.8,738.7 L593.8,738.8 L591.8,738.9 L588.7,739.1 L587.2,739.2 L585.6,739.2 L584.1,739.3 L582.6,739.4 L581.0,739.4 L579.5,739.5 L577.9,739.6 L576.4,739.6 L574.8,739.7 L573.3,739.8 L571.7,739.8 L570.2,739.9 L568.7,740.0 L567.1,740.0 L565.6,740.1 L564.0,740.2 L562.5,740.2 L560.9,740.3 L559.4,740.4 L557.8,740.4 L556.3,740.5 L554.7,740.6 L553.2,740.6 L551.6,740.7 L550.0,740.8 L548.5,740.8 L546.9,740.9 L545.4,741.0 L543.8,741.0 L542.3,741.1 L540.7,741.2 L539.1,741.3 L537.6,741.4 L536.0,741.4 L534.4,741.5 L532.9,741.6 L531.3,741.7 L529.7,741.8 L528.2,741.9 L526.6,742.0 L525.0,742.2 L523.4,742.3 L521.9,742.4 L520.3,742.5 L518.7,742.7 L517.1,742.8 L515.6,743.0 L514.0,743.2 L512.4,743.3 L510.8,743.5 L509.3,743.7 L507.7,743.9 L506.1,744.1 L504.5,744.4 L503.0,744.6 L501.4,744.9 L499.8,745.1 L498.3,745.4 L496.7,745.7 L495.1,746.0 L493.6,746.3 L492.0,746.6 L490.5,747.0 L488.9,747.4 L487.4,747.7 L485.9,748.1 L484.3,748.5 L482.8,749.0 L481.3,749.4 L479.8,749.9 L478.3,750.4 L476.8,750.9 L475.3,751.4 L473.8,752.0 L472.3,752.6 L470.8,753.2 L469.4,753.8 L467.9,754.4 L466.5,755.1 L465.1,755.8 L463.6,756.5 L462.2,757.2 L460.8,758.0 L459.5,758.8 L458.1,759.6 L456.7,760.4 L455.4,761.2 L454.0,762.1 L452.7,763.0 L451.4,763.9 L450.1,764.8 L448.8,765.7 L447.6,766.7 L446.3,767.6 L445.1,768.6 L443.9,769.6 L442.6,770.7 L441.4,771.7 L440.3,772.8 L439.1,773.8 L438.0,774.9 L436.8,776.0 L435.7,777.2 L434.6,778.3 L433.5,779.4 L432.4,780.6 L431.4,781.8 L430.4,783.0 L429.3,784.2 L428.4,785.4 L427.4,786.6 L426.4,787.9 L425.5,789.2 L424.5,790.4 L423.6,791.7 L422.7,793.0 L421.9,794.3 L421.0,795.6 L420.2,797.0 L419.4,798.3 L418.6,799.6 L417.8,801.0 L417.0,802.4 L416.3,803.7 L415.5,805.1 L414.8,806.5 L414.1,807.9 L413.4,809.3 L412.7,810.7 L412.1,812.2 L411.4,813.6 L410.8,815.0 L410.1,816.5 L409.5,817.9 L408.9,819.4 L408.3,820.9 L407.8,822.3 L407.2,823.8 L406.6,825.3 L406.1,826.8 L405.6,828.3 L405.0,829.8 L404.5,831.3 L404.0,832.8 L403.5,834.3 L403.0,835.8 L402.6,837.3 L402.1,838.8 L401.6,840.4 L401.2,841.9 L400.7,843.4 L400.3,845.0 L399.9,846.5 L399.5,848.0 L399.0,849.6 L398.6,851.1 L398.2,852.7 L397.8,854.2 L397.4,855.8 L397.0,857.3 L396.7,858.9 L396.3,860.4 L395.9,862.0 L395.5,863.5 L395.2,865.1 L394.8,866.6 L394.4,868.2 L394.1,869.7 L393.7,871.3 L393.3,872.8 L393.0,874.3 L392.6,875.9 L392.3,877.4 L391.9,879.0 L391.6,880.5 L391.2,882.0 L390.9,883.6 L390.5,885.1 L390.2,886.6 L389.8,888.2 L389.5,889.7 L389.2,891.2 L388.8,892.8 L388.5,894.3 L388.1,895.8 L387.8,897.3 L387.5,898.9 L387.1,900.4 L386.8,901.9 L386.5,903.4 L386.1,905.0 L385.8,906.5 L385.5,908.0 L385.1,909.5 L384.8,911.0 L384.5,912.6 L384.1,914.1 L383.8,915.6 L383.5,917.1 L383.2,918.6 L382.8,920.1 L382.5,921.6 L382.2,923.2 L381.9,924.7 L381.6,926.2 L381.2,927.7 L380.9,929.2 L380.6,930.7 L380.3,932.2 L380.0,933.7 L379.6,935.2 L379.3,936.8 L379.0,938.3 L378.7,939.8 L378.4,941.3 L378.1,942.8 L377.8,944.3 L377.5,945.8 L377.2,947.3 L376.8,948.8 L376.5,950.3 L376.2,951.8 L375.9,953.3 L375.6,954.8 L375.3,956.3 L375.0,957.8 L374.7,959.3 L374.4,960.8 L374.1,962.4 L373.8,963.9 L373.5,965.4 L373.2,966.9 L372.9,968.4 L372.6,969.9 L372.3,971.4 L372.0,972.9 L371.7,974.4 L371.4,975.9 L371.1,977.4 L370.8,978.9 L370.5,980.4 L370.3,981.9 L370.0,983.4 L369.7,984.9 L369.4,986.4 L369.1,987.9 L368.8,989.4 L368.5,991.0 L368.2,992.5 L367.9,994.0 L367.6,995.5 L367.4,997.0 L367.1,998.5 L366.8,1000.0 L366.5,1001.5 L366.2,1003.0 L365.9,1004.5 L365.6,1006.1 L365.4,1007.6 L365.1,1009.1 L364.8,1010.6 L364.5,1012.1 L364.2,1013.6 L364.0,1015.1 L363.7,1016.7 L363.4,1018.2 L363.1,1019.7 L362.8,1021.2 L362.6,1022.7 L362.3,1024.3 L362.0,1025.8 L361.7,1027.3 L361.5,1028.8 L361.2,1030.3 L360.9,1031.9 L360.6,1033.4 L360.4,1034.9 L360.1,1036.4 L359.8,1038.0 L359.5,1039.5 L359.3,1041.0 L359.0,1042.6 L358.7,1044.1 L358.4,1045.6 L358.2,1047.2 L357.9,1048.7 L357.6,1050.2 L357.3,1051.8 L357.1,1053.3 L356.8,1054.9 L356.5,1056.4 L356.3,1058.0 L356.0,1059.5 L355.7,1061.0 L355.5,1062.6 L355.2,1064.1 L354.9,1065.7 L354.7,1067.2 L354.4,1068.8 L354.1,1070.4 L353.9,1071.9 L353.9,1073.3 L354.4,1074.5 L355.4,1075.5 L356.7,1075.9 L358.1,1075.9 L359.3,1075.4 L360.3,1074.4Z"/>
</g>
<rect x="252.5" y="20.5" width="1781.0" height="1435.0" fill="none" stroke="#000" stroke-width="5"/>
<g fill="#000" shape-rendering="crispEdges"><rect x="349" y="1428" width="5" height="26"/><rect x="349" y="22" width="5" height="26"/><rect x="547" y="1442" width="5" height="12"/><rect x="547" y="22" width="5" height="12"/><rect x="744" y="1428" width="6" height="26"/><rect x="744" y="22" width="6" height="26"/><rect x="942" y="1442" width="6" height="12"/><rect x="942" y="22" width="6" height="12"/><rect x="1140" y="1428" width="5" height="26"/><rect x="1140" y="22" width="5" height="26"/><rect x="1338" y="1442" width="5" height="12"/><rect x="1338" y="22" width="5" height="12"/><rect x="1536" y="1428" width="5" height="26"/><rect x="1536" y="22" width="5" height="26"/><rect x="1733" y="1442" width="6" height="12"/><rect x="1733" y="22" width="6" height="12"/><rect x="1931" y="1428" width="6" height="26"/><rect x="1931" y="22" width="6" height="26"/><rect x="254" y="1373" width="27" height="6"/><rect x="2005" y="1373" width="27" height="6"/><rect x="254" y="1293" width="12" height="6"/><rect x="2020" y="1293" width="12" height="6"/><rect x="254" y="1214" width="27" height="6"/><rect x="2005" y="1214" width="27" height="6"/><rect x="254" y="1134" width="12" height="6"/><rect x="2020" y="1134" width="12" height="6"/><rect x="254" y="1054" width="27" height="6"/><rect x="2005" y="1054" width="27" height="6"/><rect x="254" y="974" width="12" height="6"/><rect x="2020" y="974" width="12" height="6"/><rect x="254" y="895" width="27" height="6"/><rect x="2005" y="895" width="27" height="6"/><rect x="254" y="815" width="12" height="6"/><rect x="2020" y="815" width="12" height="6"/><rect x="254" y="735" width="27" height="6"/><rect x="2005" y="735" width="27" height="6"/><rect x="254" y="655" width="12" height="6"/><rect x="2020" y="655" width="12" height="6"/><rect x="254" y="576" width="27" height="6"/><rect x="2005" y="576" width="27" height="6"/><rect x="254" y="496" width="12" height="6"/><rect x="2020" y="496" width="12" height="6"/><rect x="254" y="416" width="27" height="6"/><rect x="2005" y="416" width="27" height="6"/><rect x="254" y="336" width="12" height="6"/><rect x="2020" y="336" width="12" height="6"/><rect x="254" y="257" width="27" height="6"/><rect x="2005" y="257" width="27" height="6"/><rect x="254" y="177" width="12" height="6"/><rect x="2020" y="177" width="12" height="6"/><rect x="254" y="97" width="27" height="6"/><rect x="2005" y="97" width="27" height="6"/></g>
<text class="tk" transform="translate(351.60,1549.60) scale(1,1.045)" text-anchor="middle">0</text>
<text class="tk" transform="translate(747.23,1549.60) scale(1,1.045)" text-anchor="middle">0.5</text>
<text class="tk" transform="translate(1142.85,1549.60) scale(1,1.045)" text-anchor="middle">1.0</text>
<text class="tk" transform="translate(1538.47,1549.60) scale(1,1.045)" text-anchor="middle">1.5</text>
<text class="tk" transform="translate(1934.10,1549.60) scale(1,1.045)" text-anchor="middle">2.0</text>
<text class="tk" transform="translate(221.00,1400.00) scale(1,1.045)" text-anchor="end">−4</text>
<text class="tk" transform="translate(221.00,1240.50) scale(1,1.045)" text-anchor="end">−3</text>
<text class="tk" transform="translate(221.00,1081.00) scale(1,1.045)" text-anchor="end">−2</text>
<text class="tk" transform="translate(221.00,921.50) scale(1,1.045)" text-anchor="end">−1</text>
<text class="tk" transform="translate(221.00,762.00) scale(1,1.045)" text-anchor="end">0</text>
<text class="tk" transform="translate(221.00,602.50) scale(1,1.045)" text-anchor="end">1</text>
<text class="tk" transform="translate(221.00,443.00) scale(1,1.045)" text-anchor="end">2</text>
<text class="tk" transform="translate(221.00,283.50) scale(1,1.045)" text-anchor="end">3</text>
<text class="tk" transform="translate(221.00,124.00) scale(1,1.045)" text-anchor="end">4</text>
<text class="tt" transform="translate(1143.90,1687.70)" text-anchor="middle">Electrode spacing (mm)</text>
<text class="tt" transform="translate(94.40,735.60) rotate(-90)" text-anchor="middle">Electric field (kV/cm)</text>
<line x1="1258.6" y1="883.5" x2="1454.6" y2="883.5" stroke="#000000" stroke-width="7" stroke-linecap="round" shape-rendering="crispEdges"/>
<text class="lg" transform="translate(1478.20,913.80) scale(1,1.04)" text-anchor="start">13.56 MHz</text>
<line x1="1258.6" y1="991.5" x2="1454.6" y2="991.5" stroke="#ff0000" stroke-width="7" stroke-linecap="round" shape-rendering="crispEdges"/>
<text class="lg" transform="translate(1478.20,1021.60) scale(1,1.04)" text-anchor="start">27.12 MHz</text>
<line x1="1258.6" y1="1099.5" x2="1454.6" y2="1099.5" stroke="#0000ff" stroke-width="7" stroke-linecap="round" shape-rendering="crispEdges"/>
<text class="lg" transform="translate(1478.20,1129.80) scale(1,1.04)" text-anchor="start">40.68 MHz</text>
<line x1="1258.6" y1="1207.5" x2="1454.6" y2="1207.5" stroke="#008000" stroke-width="7" stroke-linecap="round" shape-rendering="crispEdges"/>
<text class="lg" transform="translate(1478.20,1237.60) scale(1,1.04)" text-anchor="start">54.24 MHz</text>
<line x1="1258.6" y1="1315.5" x2="1454.6" y2="1315.5" stroke="#ff00ff" stroke-width="7" stroke-linecap="round" shape-rendering="crispEdges"/>
<text class="lg" transform="translate(1478.20,1345.80) scale(1,1.04)" text-anchor="start">67.80 MHz</text>
</svg></body></html>
